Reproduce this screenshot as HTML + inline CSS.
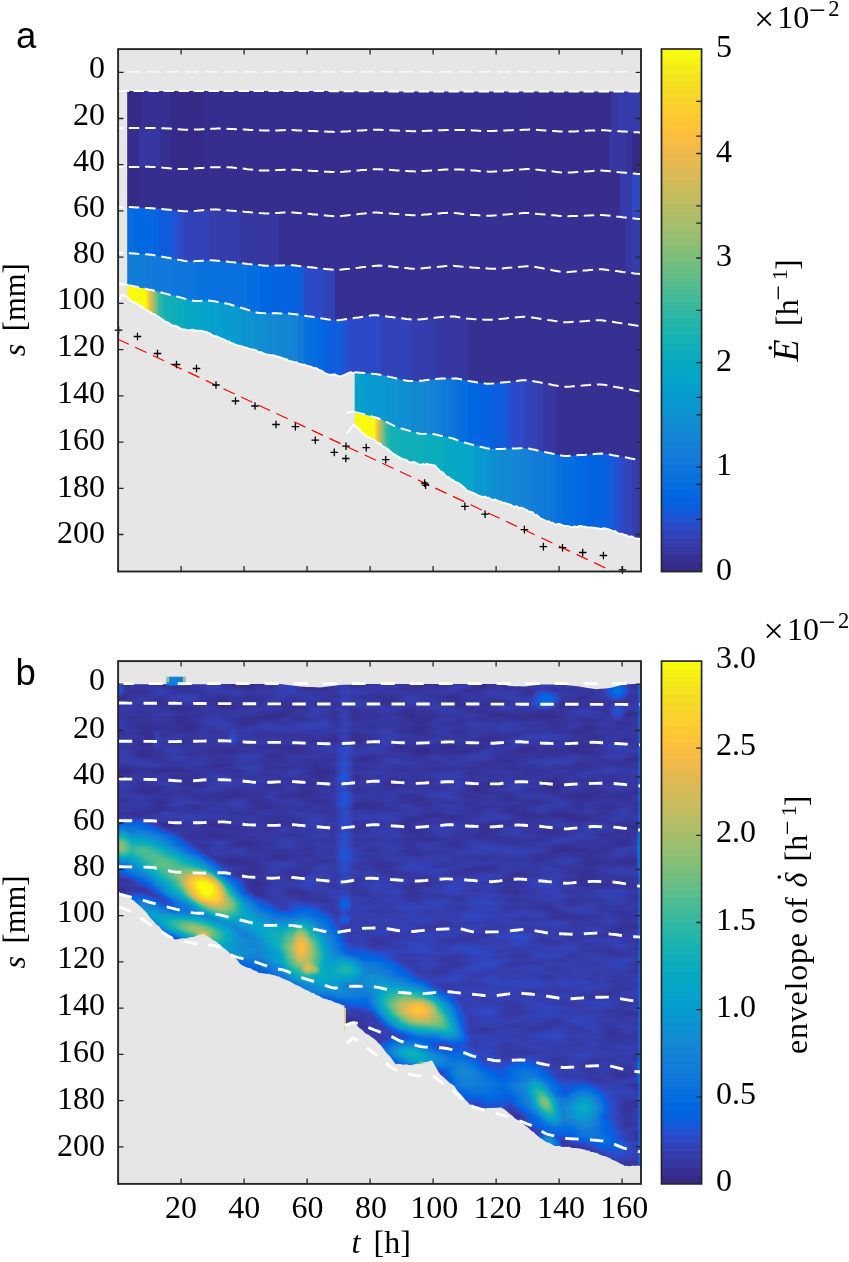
<!DOCTYPE html>
<html><head><meta charset="utf-8"><title>figure</title>
<style>html,body{margin:0;padding:0;background:#fff}svg{display:block}text{font-family:"Liberation Serif",serif;font-size:32px;fill:#000}</style>
</head><body>
<svg width="849" height="1262" viewBox="0 0 849 1262">
<defs>
<linearGradient id="g1" gradientUnits="userSpaceOnUse" x1="118.1" y1="0" x2="641.0" y2="0"><stop offset="0.0170" stop-color="#352a87"/><stop offset="0.0438" stop-color="#352a87"/><stop offset="0.0438" stop-color="#363092"/><stop offset="0.1012" stop-color="#363092"/><stop offset="0.1012" stop-color="#352a87"/><stop offset="0.1624" stop-color="#352a87"/><stop offset="0.1624" stop-color="#362e8f"/><stop offset="0.7820" stop-color="#362e8f"/><stop offset="0.7820" stop-color="#362d8d"/><stop offset="0.9426" stop-color="#362d8d"/><stop offset="0.9426" stop-color="#3637a0"/><stop offset="0.9560" stop-color="#3637a0"/><stop offset="0.9560" stop-color="#353baa"/><stop offset="1.0000" stop-color="#353baa"/><stop offset="1.0000" stop-color="#353baa"/></linearGradient>
<linearGradient id="g2" gradientUnits="userSpaceOnUse" x1="118.1" y1="0" x2="641.0" y2="0"><stop offset="0.0170" stop-color="#362e8f"/><stop offset="0.0400" stop-color="#362e8f"/><stop offset="0.0400" stop-color="#3637a0"/><stop offset="0.0801" stop-color="#3637a0"/><stop offset="0.0801" stop-color="#363093"/><stop offset="0.1012" stop-color="#363093"/><stop offset="0.1012" stop-color="#352a87"/><stop offset="0.1624" stop-color="#352a87"/><stop offset="0.1624" stop-color="#362e8f"/><stop offset="0.7686" stop-color="#362e8f"/><stop offset="0.7686" stop-color="#362d8d"/><stop offset="0.9388" stop-color="#362d8d"/><stop offset="0.9388" stop-color="#3637a0"/><stop offset="0.9713" stop-color="#3637a0"/><stop offset="0.9713" stop-color="#363297"/><stop offset="0.9828" stop-color="#363297"/><stop offset="0.9828" stop-color="#352a87"/><stop offset="1.0000" stop-color="#352a87"/><stop offset="1.0000" stop-color="#352a87"/></linearGradient>
<linearGradient id="g3" gradientUnits="userSpaceOnUse" x1="118.1" y1="0" x2="641.0" y2="0"><stop offset="0.0170" stop-color="#352a87"/><stop offset="0.0400" stop-color="#352a87"/><stop offset="0.0400" stop-color="#362e8f"/><stop offset="0.7762" stop-color="#362e8f"/><stop offset="0.7762" stop-color="#362d8d"/><stop offset="0.9598" stop-color="#362d8d"/><stop offset="0.9598" stop-color="#353dad"/><stop offset="0.9828" stop-color="#353dad"/><stop offset="0.9828" stop-color="#2d49c4"/><stop offset="1.0000" stop-color="#2d49c4"/><stop offset="1.0000" stop-color="#2d49c4"/></linearGradient>
<linearGradient id="g4" gradientUnits="userSpaceOnUse" x1="118.1" y1="0" x2="641.0" y2="0"><stop offset="0.0181" stop-color="#046de0"/><stop offset="0.0301" stop-color="#046de0"/><stop offset="0.0301" stop-color="#0268e1"/><stop offset="0.0663" stop-color="#0268e1"/><stop offset="0.0663" stop-color="#0363e1"/><stop offset="0.0783" stop-color="#0363e1"/><stop offset="0.0783" stop-color="#0f5cdd"/><stop offset="0.1024" stop-color="#0f5cdd"/><stop offset="0.1024" stop-color="#2053d4"/><stop offset="0.1145" stop-color="#2053d4"/><stop offset="0.1145" stop-color="#2c4ac7"/><stop offset="0.1265" stop-color="#2c4ac7"/><stop offset="0.1265" stop-color="#3243ba"/><stop offset="0.1747" stop-color="#3243ba"/><stop offset="0.1747" stop-color="#353dad"/><stop offset="0.2349" stop-color="#353dad"/><stop offset="0.2349" stop-color="#3637a0"/><stop offset="0.3072" stop-color="#3637a0"/><stop offset="0.3072" stop-color="#363093"/><stop offset="0.9699" stop-color="#363093"/><stop offset="0.9699" stop-color="#3637a0"/><stop offset="0.9819" stop-color="#3637a0"/><stop offset="0.9819" stop-color="#353dad"/><stop offset="1.0000" stop-color="#353dad"/></linearGradient>
<linearGradient id="g5" gradientUnits="userSpaceOnUse" x1="118.1" y1="0" x2="641.0" y2="0"><stop offset="0.0181" stop-color="#127dd8"/><stop offset="0.0542" stop-color="#127dd8"/><stop offset="0.0542" stop-color="#1079da"/><stop offset="0.1024" stop-color="#1079da"/><stop offset="0.1024" stop-color="#0d75dc"/><stop offset="0.1506" stop-color="#0d75dc"/><stop offset="0.1506" stop-color="#0871de"/><stop offset="0.2470" stop-color="#0871de"/><stop offset="0.2470" stop-color="#046de0"/><stop offset="0.2711" stop-color="#046de0"/><stop offset="0.2711" stop-color="#0268e1"/><stop offset="0.2952" stop-color="#0268e1"/><stop offset="0.2952" stop-color="#0363e1"/><stop offset="0.3434" stop-color="#0363e1"/><stop offset="0.3434" stop-color="#0f5cdd"/><stop offset="0.3554" stop-color="#0f5cdd"/><stop offset="0.3554" stop-color="#2c4ac7"/><stop offset="0.3916" stop-color="#2c4ac7"/><stop offset="0.3916" stop-color="#3243ba"/><stop offset="0.4157" stop-color="#3243ba"/><stop offset="0.4157" stop-color="#363093"/><stop offset="1.0000" stop-color="#363093"/></linearGradient>
<linearGradient id="g6" gradientUnits="userSpaceOnUse" x1="118.1" y1="0" x2="641.0" y2="0"><stop offset="0.0170" stop-color="#f9fb0e"/><stop offset="0.0534" stop-color="#f9fb0e"/><stop offset="0.0562" stop-color="#f5df20"/><stop offset="0.0595" stop-color="#fdbe3e"/><stop offset="0.0656" stop-color="#b8bd63"/><stop offset="0.0717" stop-color="#7abf7c"/><stop offset="0.0797" stop-color="#2db7a5"/><stop offset="0.0897" stop-color="#14b0b5"/><stop offset="0.1145" stop-color="#0faeb9"/><stop offset="0.1145" stop-color="#0aacbe"/><stop offset="0.1265" stop-color="#0aacbe"/><stop offset="0.1265" stop-color="#07a9c2"/><stop offset="0.1386" stop-color="#07a9c2"/><stop offset="0.1386" stop-color="#06a7c6"/><stop offset="0.1506" stop-color="#06a7c6"/><stop offset="0.1506" stop-color="#06a4ca"/><stop offset="0.1747" stop-color="#06a4ca"/><stop offset="0.1747" stop-color="#06a0cd"/><stop offset="0.1988" stop-color="#06a0cd"/><stop offset="0.1988" stop-color="#079ccf"/><stop offset="0.2229" stop-color="#079ccf"/><stop offset="0.2229" stop-color="#0998d1"/><stop offset="0.2349" stop-color="#0998d1"/><stop offset="0.2349" stop-color="#0c93d2"/><stop offset="0.2590" stop-color="#0c93d2"/><stop offset="0.2590" stop-color="#108ed2"/><stop offset="0.2831" stop-color="#108ed2"/><stop offset="0.2831" stop-color="#1389d3"/><stop offset="0.3072" stop-color="#1389d3"/><stop offset="0.3072" stop-color="#1485d4"/><stop offset="0.3313" stop-color="#1485d4"/><stop offset="0.3313" stop-color="#1481d6"/><stop offset="0.3434" stop-color="#1481d6"/><stop offset="0.3434" stop-color="#1079da"/><stop offset="0.3554" stop-color="#1079da"/><stop offset="0.3554" stop-color="#0871de"/><stop offset="0.3675" stop-color="#0871de"/><stop offset="0.3675" stop-color="#046de0"/><stop offset="0.3795" stop-color="#046de0"/><stop offset="0.3795" stop-color="#0268e1"/><stop offset="0.3916" stop-color="#0268e1"/><stop offset="0.3916" stop-color="#0363e1"/><stop offset="0.4036" stop-color="#0363e1"/><stop offset="0.4036" stop-color="#0f5cdd"/><stop offset="0.4277" stop-color="#0f5cdd"/><stop offset="0.4277" stop-color="#2053d4"/><stop offset="0.4398" stop-color="#2053d4"/><stop offset="0.4398" stop-color="#2c4ac7"/><stop offset="0.5000" stop-color="#2c4ac7"/><stop offset="0.5000" stop-color="#3243ba"/><stop offset="0.5602" stop-color="#3243ba"/><stop offset="0.5602" stop-color="#353dad"/><stop offset="0.6084" stop-color="#353dad"/><stop offset="0.6084" stop-color="#3637a0"/><stop offset="0.6687" stop-color="#3637a0"/><stop offset="0.6687" stop-color="#363093"/><stop offset="1.0000" stop-color="#363093"/></linearGradient>
<linearGradient id="g7" gradientUnits="userSpaceOnUse" x1="118.1" y1="0" x2="641.0" y2="0"><stop offset="0.0181" stop-color="#06a0cd"/><stop offset="0.4639" stop-color="#06a0cd"/><stop offset="0.4639" stop-color="#079ccf"/><stop offset="0.4880" stop-color="#079ccf"/><stop offset="0.4880" stop-color="#0998d1"/><stop offset="0.5121" stop-color="#0998d1"/><stop offset="0.5121" stop-color="#0c93d2"/><stop offset="0.5361" stop-color="#0c93d2"/><stop offset="0.5361" stop-color="#108ed2"/><stop offset="0.5602" stop-color="#108ed2"/><stop offset="0.5602" stop-color="#1389d3"/><stop offset="0.5843" stop-color="#1389d3"/><stop offset="0.5843" stop-color="#1485d4"/><stop offset="0.5964" stop-color="#1485d4"/><stop offset="0.5964" stop-color="#1481d6"/><stop offset="0.6084" stop-color="#1481d6"/><stop offset="0.6084" stop-color="#127dd8"/><stop offset="0.6205" stop-color="#127dd8"/><stop offset="0.6205" stop-color="#1079da"/><stop offset="0.6325" stop-color="#1079da"/><stop offset="0.6325" stop-color="#0d75dc"/><stop offset="0.6446" stop-color="#0d75dc"/><stop offset="0.6446" stop-color="#0871de"/><stop offset="0.6566" stop-color="#0871de"/><stop offset="0.6566" stop-color="#046de0"/><stop offset="0.6687" stop-color="#046de0"/><stop offset="0.6687" stop-color="#0268e1"/><stop offset="0.6928" stop-color="#0268e1"/><stop offset="0.6928" stop-color="#0363e1"/><stop offset="0.7169" stop-color="#0363e1"/><stop offset="0.7169" stop-color="#0f5cdd"/><stop offset="0.7410" stop-color="#0f5cdd"/><stop offset="0.7410" stop-color="#2053d4"/><stop offset="0.7530" stop-color="#2053d4"/><stop offset="0.7530" stop-color="#2c4ac7"/><stop offset="0.7771" stop-color="#2c4ac7"/><stop offset="0.7771" stop-color="#3243ba"/><stop offset="0.8012" stop-color="#3243ba"/><stop offset="0.8012" stop-color="#353dad"/><stop offset="0.8133" stop-color="#353dad"/><stop offset="0.8133" stop-color="#3637a0"/><stop offset="0.8374" stop-color="#3637a0"/><stop offset="0.8374" stop-color="#363093"/><stop offset="1.0000" stop-color="#363093"/></linearGradient>
<linearGradient id="g8" gradientUnits="userSpaceOnUse" x1="118.1" y1="0" x2="641.0" y2="0"><stop offset="0.4525" stop-color="#f9fb0e"/><stop offset="0.4903" stop-color="#f9fb0e"/><stop offset="0.4932" stop-color="#f7d826"/><stop offset="0.4961" stop-color="#f6ba46"/><stop offset="0.5009" stop-color="#b8bd63"/><stop offset="0.5066" stop-color="#7abf7c"/><stop offset="0.5142" stop-color="#2db7a5"/><stop offset="0.5219" stop-color="#14b0b5"/><stop offset="0.5361" stop-color="#15b1b4"/><stop offset="0.5361" stop-color="#0faeb9"/><stop offset="0.5843" stop-color="#0faeb9"/><stop offset="0.5843" stop-color="#0aacbe"/><stop offset="0.6205" stop-color="#0aacbe"/><stop offset="0.6205" stop-color="#07a9c2"/><stop offset="0.6446" stop-color="#07a9c2"/><stop offset="0.6446" stop-color="#06a7c6"/><stop offset="0.6687" stop-color="#06a7c6"/><stop offset="0.6687" stop-color="#06a4ca"/><stop offset="0.6807" stop-color="#06a4ca"/><stop offset="0.6807" stop-color="#079ccf"/><stop offset="0.6928" stop-color="#079ccf"/><stop offset="0.6928" stop-color="#0998d1"/><stop offset="0.7048" stop-color="#0998d1"/><stop offset="0.7048" stop-color="#0c93d2"/><stop offset="0.7169" stop-color="#0c93d2"/><stop offset="0.7169" stop-color="#108ed2"/><stop offset="0.7289" stop-color="#108ed2"/><stop offset="0.7289" stop-color="#1389d3"/><stop offset="0.7530" stop-color="#1389d3"/><stop offset="0.7530" stop-color="#1485d4"/><stop offset="0.7771" stop-color="#1485d4"/><stop offset="0.7771" stop-color="#1481d6"/><stop offset="0.7892" stop-color="#1481d6"/><stop offset="0.7892" stop-color="#127dd8"/><stop offset="0.8133" stop-color="#127dd8"/><stop offset="0.8133" stop-color="#1079da"/><stop offset="0.8253" stop-color="#1079da"/><stop offset="0.8253" stop-color="#0d75dc"/><stop offset="0.8374" stop-color="#0d75dc"/><stop offset="0.8374" stop-color="#0871de"/><stop offset="0.8494" stop-color="#0871de"/><stop offset="0.8494" stop-color="#046de0"/><stop offset="0.8735" stop-color="#046de0"/><stop offset="0.8735" stop-color="#0268e1"/><stop offset="0.8976" stop-color="#0268e1"/><stop offset="0.8976" stop-color="#0363e1"/><stop offset="0.9337" stop-color="#0363e1"/><stop offset="0.9337" stop-color="#0f5cdd"/><stop offset="0.9458" stop-color="#0f5cdd"/><stop offset="0.9458" stop-color="#2053d4"/><stop offset="0.9578" stop-color="#2053d4"/><stop offset="0.9578" stop-color="#2c4ac7"/><stop offset="0.9699" stop-color="#2c4ac7"/><stop offset="0.9699" stop-color="#3243ba"/><stop offset="0.9819" stop-color="#3243ba"/><stop offset="0.9819" stop-color="#353dad"/><stop offset="0.9940" stop-color="#353dad"/><stop offset="0.9940" stop-color="#3637a0"/><stop offset="1.0000" stop-color="#3637a0"/></linearGradient>
<clipPath id="cb"><path d="M118.7 684.2 L123.0 684.2 L127.4 684.2 L131.7 684.2 L136.1 684.2 L140.4 684.2 L144.8 684.2 L149.1 684.2 L153.5 684.2 L157.8 684.2 L162.2 684.2 L166.5 684.2 L166.8 676.8 L171.4 676.8 L176.1 676.8 L180.7 676.8 L185.3 676.8 L185.6 684.2 L189.7 684.2 L193.8 684.2 L197.9 684.2 L202.0 684.2 L206.1 684.2 L210.2 684.1 L214.3 684.1 L218.4 684.1 L222.5 684.1 L226.6 684.1 L230.7 684.1 L234.9 684.1 L239.0 684.1 L243.1 684.1 L247.2 684.1 L251.3 684.1 L255.4 684.1 L259.5 684.0 L263.6 684.0 L267.7 684.0 L271.8 684.0 L275.9 684.0 L280.0 684.0 L284.0 684.5 L288.0 685.0 L292.0 685.5 L296.0 686.0 L300.0 686.5 L304.0 686.7 L308.0 686.9 L312.0 687.1 L316.0 687.3 L320.0 687.5 L324.0 687.0 L328.0 686.5 L332.0 686.0 L336.0 685.5 L340.0 685.0 L344.2 684.8 L348.3 684.7 L352.5 684.5 L356.7 684.3 L360.8 684.2 L365.0 684.0 L369.1 684.0 L373.2 684.0 L377.3 684.0 L381.4 684.0 L385.5 684.0 L389.5 684.0 L393.6 684.0 L397.7 684.0 L401.8 684.0 L405.9 684.0 L410.0 684.0 L414.1 684.0 L418.2 684.0 L422.3 684.0 L426.4 684.0 L430.5 684.0 L434.5 684.0 L438.6 684.0 L442.7 684.0 L446.8 684.0 L450.9 684.0 L455.0 684.0 L459.1 684.0 L463.2 684.0 L467.3 684.0 L471.4 684.0 L475.5 684.0 L479.5 684.0 L483.6 684.0 L487.7 684.0 L491.8 684.0 L495.9 684.0 L500.0 684.0 L505.0 685.0 L510.0 686.0 L515.0 686.2 L520.0 686.3 L525.0 686.5 L530.0 685.8 L535.0 685.2 L540.0 684.5 L544.0 684.5 L548.0 684.5 L552.0 684.5 L556.0 684.5 L560.0 684.5 L565.0 685.0 L570.0 685.5 L575.0 686.0 L579.2 686.6 L583.4 687.3 L587.6 687.9 L591.8 688.6 L596.0 689.2 L600.7 688.8 L605.3 688.4 L610.0 688.0 L615.0 686.8 L620.0 685.5 L625.0 684.3 L629.0 684.2 L633.0 684.1 L637.0 684.1 L641.0 684.0 L641.0 1165.8 L639.0 1166.1 L637.0 1165.6 L634.9 1165.9 L632.9 1165.4 L630.9 1166.1 L628.8 1166.2 L626.8 1165.7 L624.8 1166.1 L622.7 1164.5 L620.5 1163.8 L618.4 1162.6 L616.3 1161.3 L614.2 1160.6 L612.0 1159.8 L609.9 1158.0 L607.8 1157.6 L605.7 1156.3 L603.6 1155.9 L601.5 1155.3 L599.3 1154.5 L597.2 1153.1 L595.1 1152.7 L593.0 1152.0 L590.9 1151.9 L588.8 1150.5 L586.6 1150.5 L584.5 1149.6 L582.4 1149.2 L580.2 1148.5 L578.1 1148.6 L576.0 1147.9 L573.9 1147.9 L571.8 1147.9 L569.6 1146.7 L567.5 1147.1 L565.4 1146.7 L563.3 1147.0 L561.2 1146.8 L559.0 1145.8 L556.9 1146.1 L554.8 1145.9 L552.7 1144.8 L550.5 1143.4 L548.4 1142.6 L546.3 1141.9 L544.1 1140.6 L542.0 1138.9 L539.9 1137.8 L537.8 1135.9 L535.7 1134.2 L533.6 1132.1 L531.5 1130.9 L529.4 1128.7 L527.3 1126.9 L525.1 1125.5 L523.0 1123.7 L520.9 1122.2 L518.8 1120.4 L516.6 1119.5 L514.5 1118.0 L512.4 1115.7 L510.3 1114.2 L508.2 1112.5 L506.0 1110.6 L503.9 1108.9 L501.8 1107.7 L499.7 1107.4 L497.6 1107.8 L495.4 1107.9 L493.3 1107.7 L491.2 1108.0 L489.1 1108.1 L486.9 1107.9 L484.8 1108.7 L482.7 1108.1 L480.6 1108.3 L478.5 1106.8 L476.4 1106.2 L474.2 1105.5 L472.1 1104.5 L470.0 1104.7 L467.9 1102.2 L465.7 1100.3 L463.6 1097.7 L461.5 1094.9 L459.4 1092.9 L457.2 1090.4 L455.1 1087.1 L453.0 1084.8 L450.9 1083.8 L448.7 1082.0 L446.6 1079.9 L444.5 1077.9 L442.3 1075.9 L440.2 1074.4 L438.1 1071.2 L436.0 1067.6 L433.9 1063.7 L431.8 1060.3 L429.7 1060.9 L427.6 1061.8 L425.4 1062.1 L423.3 1062.8 L421.2 1064.2 L419.1 1063.9 L417.0 1063.8 L414.8 1064.2 L412.7 1064.7 L410.6 1065.2 L408.5 1064.9 L406.3 1064.3 L404.2 1064.8 L402.1 1064.5 L400.0 1064.1 L397.8 1063.7 L395.7 1064.3 L393.6 1061.6 L391.4 1058.3 L389.3 1055.7 L387.2 1053.8 L385.1 1051.1 L383.0 1048.3 L380.8 1045.2 L378.7 1043.5 L376.6 1040.9 L374.5 1038.9 L372.4 1037.8 L370.2 1036.1 L368.1 1034.6 L366.0 1033.7 L363.9 1031.8 L361.8 1029.6 L359.7 1028.3 L357.5 1026.1 L355.4 1023.7 L353.3 1021.5 L350.8 1022.5 L348.4 1024.3 L345.9 1025.6 L344.7 1032.5 L344.5 1005.7 L343.6 1005.5 L341.5 1004.7 L339.4 1003.8 L337.2 1002.9 L335.1 1002.6 L333.0 1001.4 L330.9 1000.3 L328.8 1000.2 L326.6 998.9 L324.5 998.8 L322.4 998.1 L320.3 996.7 L318.2 995.5 L316.0 995.0 L313.9 993.1 L311.8 992.9 L309.7 991.7 L307.6 990.6 L305.4 989.7 L303.3 988.5 L301.2 987.2 L299.0 986.1 L296.7 985.3 L294.5 984.2 L292.2 982.7 L290.0 981.6 L287.9 980.5 L285.8 979.7 L283.7 978.8 L281.7 977.9 L279.6 976.8 L277.5 976.3 L275.4 975.6 L273.3 975.0 L271.1 974.4 L269.0 973.8 L266.9 974.1 L264.8 973.4 L262.6 973.3 L260.5 973.0 L258.4 972.7 L256.3 971.0 L254.1 970.4 L252.0 969.2 L249.9 968.1 L247.8 967.8 L245.7 967.1 L243.5 965.9 L241.4 964.8 L239.3 962.9 L237.2 960.1 L235.1 957.9 L232.9 956.2 L230.8 954.2 L228.7 952.1 L226.6 950.2 L224.5 948.4 L222.3 946.9 L220.2 944.6 L218.1 943.6 L216.0 941.3 L213.9 940.4 L211.8 938.9 L209.7 937.6 L207.5 936.6 L205.4 935.1 L203.3 934.0 L201.2 934.3 L199.1 935.1 L196.9 935.4 L194.8 936.4 L192.7 937.0 L190.6 937.1 L188.4 937.7 L186.3 938.2 L184.3 938.5 L182.3 938.3 L180.3 938.8 L178.3 939.1 L176.3 939.4 L174.3 939.3 L172.0 937.4 L169.7 936.6 L167.4 934.6 L165.1 932.7 L163.0 931.3 L160.9 928.8 L158.8 926.1 L156.6 924.9 L154.5 922.3 L152.4 919.9 L150.3 918.1 L148.2 914.9 L146.0 912.1 L143.9 909.9 L141.8 907.8 L139.7 906.0 L137.6 904.1 L135.4 902.2 L133.3 900.3 L131.2 899.0 L129.1 897.8 L127.0 897.0 L124.8 895.5 L122.7 894.0 L120.6 893.1 L118.5 891.2Z"/></clipPath>
<filter id="pm" filterUnits="userSpaceOnUse" x="100" y="650" width="560" height="550" color-interpolation-filters="sRGB"><feTurbulence type="fractalNoise" baseFrequency="0.03 0.09" numOctaves="2" seed="4" result="n"/><feColorMatrix in="n" type="matrix" values="0.08 0 0 0 -0.02  0.08 0 0 0 -0.02  0.08 0 0 0 -0.02  0 0 0 0 1" result="n2"/><feComposite in="SourceGraphic" in2="n2" operator="arithmetic" k1="0" k2="1" k3="1" k4="0"/><feComponentTransfer><feFuncR type="table" tableValues="0.208 0.212 0.212 0.208 0.196 0.171 0.125 0.059 0.012 0.006 0.017 0.033 0.050 0.063 0.072 0.078 0.079 0.075 0.064 0.049 0.034 0.026 0.024 0.023 0.023 0.027 0.038 0.059 0.084 0.113 0.145 0.180 0.218 0.259 0.302 0.348 0.395 0.442 0.487 0.530 0.571 0.610 0.647 0.683 0.718 0.752 0.786 0.819 0.851 0.882 0.914 0.945 0.974 0.994 0.999 0.996 0.988 0.979 0.970 0.963 0.959 0.960 0.966 0.976"/><feFuncG type="table" tableValues="0.166 0.190 0.214 0.239 0.265 0.292 0.324 0.360 0.388 0.409 0.427 0.443 0.459 0.474 0.489 0.504 0.520 0.537 0.557 0.577 0.597 0.614 0.629 0.642 0.653 0.664 0.674 0.684 0.693 0.702 0.710 0.718 0.725 0.732 0.738 0.742 0.746 0.748 0.749 0.749 0.749 0.747 0.746 0.744 0.741 0.738 0.736 0.733 0.730 0.727 0.726 0.726 0.731 0.746 0.765 0.786 0.807 0.827 0.848 0.871 0.895 0.922 0.951 0.983"/><feFuncB type="table" tableValues="0.529 0.578 0.627 0.677 0.728 0.779 0.830 0.868 0.882 0.883 0.879 0.872 0.864 0.855 0.847 0.838 0.831 0.826 0.824 0.823 0.820 0.814 0.804 0.791 0.777 0.761 0.744 0.725 0.706 0.686 0.665 0.642 0.619 0.595 0.571 0.547 0.524 0.503 0.484 0.466 0.449 0.434 0.419 0.404 0.391 0.377 0.363 0.350 0.336 0.322 0.306 0.289 0.267 0.240 0.216 0.197 0.179 0.163 0.147 0.131 0.113 0.095 0.075 0.054"/></feComponentTransfer></filter>
<radialGradient id="r1"><stop offset="0.00" stop-color="#fff" stop-opacity="0.025"/><stop offset="0.15" stop-color="#fff" stop-opacity="0.024"/><stop offset="0.30" stop-color="#fff" stop-opacity="0.020"/><stop offset="0.45" stop-color="#fff" stop-opacity="0.016"/><stop offset="0.60" stop-color="#fff" stop-opacity="0.011"/><stop offset="0.75" stop-color="#fff" stop-opacity="0.007"/><stop offset="0.90" stop-color="#fff" stop-opacity="0.002"/><stop offset="1.00" stop-color="#fff" stop-opacity="0.000"/></radialGradient>
<radialGradient id="r2"><stop offset="0.00" stop-color="#fff" stop-opacity="0.476"/><stop offset="0.15" stop-color="#fff" stop-opacity="0.451"/><stop offset="0.30" stop-color="#fff" stop-opacity="0.383"/><stop offset="0.45" stop-color="#fff" stop-opacity="0.292"/><stop offset="0.60" stop-color="#fff" stop-opacity="0.199"/><stop offset="0.75" stop-color="#fff" stop-opacity="0.122"/><stop offset="0.90" stop-color="#fff" stop-opacity="0.034"/><stop offset="1.00" stop-color="#fff" stop-opacity="0.000"/></radialGradient>
<radialGradient id="r3"><stop offset="0.00" stop-color="#fff" stop-opacity="0.413"/><stop offset="0.15" stop-color="#fff" stop-opacity="0.391"/><stop offset="0.30" stop-color="#fff" stop-opacity="0.332"/><stop offset="0.45" stop-color="#fff" stop-opacity="0.253"/><stop offset="0.60" stop-color="#fff" stop-opacity="0.173"/><stop offset="0.75" stop-color="#fff" stop-opacity="0.106"/><stop offset="0.90" stop-color="#fff" stop-opacity="0.029"/><stop offset="1.00" stop-color="#fff" stop-opacity="0.000"/></radialGradient>
<radialGradient id="r4"><stop offset="0.00" stop-color="#fff" stop-opacity="0.159"/><stop offset="0.15" stop-color="#fff" stop-opacity="0.150"/><stop offset="0.30" stop-color="#fff" stop-opacity="0.128"/><stop offset="0.45" stop-color="#fff" stop-opacity="0.097"/><stop offset="0.60" stop-color="#fff" stop-opacity="0.066"/><stop offset="0.75" stop-color="#fff" stop-opacity="0.041"/><stop offset="0.90" stop-color="#fff" stop-opacity="0.011"/><stop offset="1.00" stop-color="#fff" stop-opacity="0.000"/></radialGradient>
<radialGradient id="r5"><stop offset="0.00" stop-color="#fff" stop-opacity="0.508"/><stop offset="0.15" stop-color="#fff" stop-opacity="0.481"/><stop offset="0.30" stop-color="#fff" stop-opacity="0.409"/><stop offset="0.45" stop-color="#fff" stop-opacity="0.311"/><stop offset="0.60" stop-color="#fff" stop-opacity="0.213"/><stop offset="0.75" stop-color="#fff" stop-opacity="0.130"/><stop offset="0.90" stop-color="#fff" stop-opacity="0.036"/><stop offset="1.00" stop-color="#fff" stop-opacity="0.000"/></radialGradient>
<radialGradient id="r6"><stop offset="0.00" stop-color="#fff" stop-opacity="0.730"/><stop offset="0.15" stop-color="#fff" stop-opacity="0.691"/><stop offset="0.30" stop-color="#fff" stop-opacity="0.587"/><stop offset="0.45" stop-color="#fff" stop-opacity="0.447"/><stop offset="0.60" stop-color="#fff" stop-opacity="0.306"/><stop offset="0.75" stop-color="#fff" stop-opacity="0.187"/><stop offset="0.90" stop-color="#fff" stop-opacity="0.051"/><stop offset="1.00" stop-color="#fff" stop-opacity="0.000"/></radialGradient>
<radialGradient id="r7"><stop offset="0.00" stop-color="#fff" stop-opacity="0.984"/><stop offset="0.15" stop-color="#fff" stop-opacity="0.932"/><stop offset="0.30" stop-color="#fff" stop-opacity="0.792"/><stop offset="0.45" stop-color="#fff" stop-opacity="0.603"/><stop offset="0.60" stop-color="#fff" stop-opacity="0.412"/><stop offset="0.75" stop-color="#fff" stop-opacity="0.252"/><stop offset="0.90" stop-color="#fff" stop-opacity="0.069"/><stop offset="1.00" stop-color="#fff" stop-opacity="0.000"/></radialGradient>
<radialGradient id="r8"><stop offset="0.00" stop-color="#fff" stop-opacity="0.349"/><stop offset="0.15" stop-color="#fff" stop-opacity="0.331"/><stop offset="0.30" stop-color="#fff" stop-opacity="0.281"/><stop offset="0.45" stop-color="#fff" stop-opacity="0.214"/><stop offset="0.60" stop-color="#fff" stop-opacity="0.146"/><stop offset="0.75" stop-color="#fff" stop-opacity="0.090"/><stop offset="0.90" stop-color="#fff" stop-opacity="0.025"/><stop offset="1.00" stop-color="#fff" stop-opacity="0.000"/></radialGradient>
<radialGradient id="r9"><stop offset="0.00" stop-color="#fff" stop-opacity="0.222"/><stop offset="0.15" stop-color="#fff" stop-opacity="0.210"/><stop offset="0.30" stop-color="#fff" stop-opacity="0.179"/><stop offset="0.45" stop-color="#fff" stop-opacity="0.136"/><stop offset="0.60" stop-color="#fff" stop-opacity="0.093"/><stop offset="0.75" stop-color="#fff" stop-opacity="0.057"/><stop offset="0.90" stop-color="#fff" stop-opacity="0.016"/><stop offset="1.00" stop-color="#fff" stop-opacity="0.000"/></radialGradient>
<radialGradient id="r10"><stop offset="0.00" stop-color="#fff" stop-opacity="0.476"/><stop offset="0.15" stop-color="#fff" stop-opacity="0.451"/><stop offset="0.30" stop-color="#fff" stop-opacity="0.383"/><stop offset="0.45" stop-color="#fff" stop-opacity="0.292"/><stop offset="0.60" stop-color="#fff" stop-opacity="0.199"/><stop offset="0.75" stop-color="#fff" stop-opacity="0.122"/><stop offset="0.90" stop-color="#fff" stop-opacity="0.034"/><stop offset="1.00" stop-color="#fff" stop-opacity="0.000"/></radialGradient>
<radialGradient id="r11"><stop offset="0.00" stop-color="#fff" stop-opacity="0.635"/><stop offset="0.15" stop-color="#fff" stop-opacity="0.601"/><stop offset="0.30" stop-color="#fff" stop-opacity="0.511"/><stop offset="0.45" stop-color="#fff" stop-opacity="0.389"/><stop offset="0.60" stop-color="#fff" stop-opacity="0.266"/><stop offset="0.75" stop-color="#fff" stop-opacity="0.163"/><stop offset="0.90" stop-color="#fff" stop-opacity="0.045"/><stop offset="1.00" stop-color="#fff" stop-opacity="0.000"/></radialGradient>
<radialGradient id="r12"><stop offset="0.00" stop-color="#fff" stop-opacity="0.349"/><stop offset="0.15" stop-color="#fff" stop-opacity="0.331"/><stop offset="0.30" stop-color="#fff" stop-opacity="0.281"/><stop offset="0.45" stop-color="#fff" stop-opacity="0.214"/><stop offset="0.60" stop-color="#fff" stop-opacity="0.146"/><stop offset="0.75" stop-color="#fff" stop-opacity="0.090"/><stop offset="0.90" stop-color="#fff" stop-opacity="0.025"/><stop offset="1.00" stop-color="#fff" stop-opacity="0.000"/></radialGradient>
<radialGradient id="r13"><stop offset="0.00" stop-color="#fff" stop-opacity="0.476"/><stop offset="0.15" stop-color="#fff" stop-opacity="0.451"/><stop offset="0.30" stop-color="#fff" stop-opacity="0.383"/><stop offset="0.45" stop-color="#fff" stop-opacity="0.292"/><stop offset="0.60" stop-color="#fff" stop-opacity="0.199"/><stop offset="0.75" stop-color="#fff" stop-opacity="0.122"/><stop offset="0.90" stop-color="#fff" stop-opacity="0.034"/><stop offset="1.00" stop-color="#fff" stop-opacity="0.000"/></radialGradient>
<radialGradient id="r14"><stop offset="0.00" stop-color="#fff" stop-opacity="0.413"/><stop offset="0.15" stop-color="#fff" stop-opacity="0.391"/><stop offset="0.30" stop-color="#fff" stop-opacity="0.332"/><stop offset="0.45" stop-color="#fff" stop-opacity="0.253"/><stop offset="0.60" stop-color="#fff" stop-opacity="0.173"/><stop offset="0.75" stop-color="#fff" stop-opacity="0.106"/><stop offset="0.90" stop-color="#fff" stop-opacity="0.029"/><stop offset="1.00" stop-color="#fff" stop-opacity="0.000"/></radialGradient>
<radialGradient id="r15"><stop offset="0.00" stop-color="#fff" stop-opacity="0.381"/><stop offset="0.15" stop-color="#fff" stop-opacity="0.361"/><stop offset="0.30" stop-color="#fff" stop-opacity="0.306"/><stop offset="0.45" stop-color="#fff" stop-opacity="0.233"/><stop offset="0.60" stop-color="#fff" stop-opacity="0.159"/><stop offset="0.75" stop-color="#fff" stop-opacity="0.098"/><stop offset="0.90" stop-color="#fff" stop-opacity="0.027"/><stop offset="1.00" stop-color="#fff" stop-opacity="0.000"/></radialGradient>
<radialGradient id="r16"><stop offset="0.00" stop-color="#fff" stop-opacity="0.476"/><stop offset="0.15" stop-color="#fff" stop-opacity="0.451"/><stop offset="0.30" stop-color="#fff" stop-opacity="0.383"/><stop offset="0.45" stop-color="#fff" stop-opacity="0.292"/><stop offset="0.60" stop-color="#fff" stop-opacity="0.199"/><stop offset="0.75" stop-color="#fff" stop-opacity="0.122"/><stop offset="0.90" stop-color="#fff" stop-opacity="0.034"/><stop offset="1.00" stop-color="#fff" stop-opacity="0.000"/></radialGradient>
<radialGradient id="r17"><stop offset="0.00" stop-color="#fff" stop-opacity="0.317"/><stop offset="0.15" stop-color="#fff" stop-opacity="0.301"/><stop offset="0.30" stop-color="#fff" stop-opacity="0.255"/><stop offset="0.45" stop-color="#fff" stop-opacity="0.194"/><stop offset="0.60" stop-color="#fff" stop-opacity="0.133"/><stop offset="0.75" stop-color="#fff" stop-opacity="0.081"/><stop offset="0.90" stop-color="#fff" stop-opacity="0.022"/><stop offset="1.00" stop-color="#fff" stop-opacity="0.000"/></radialGradient>
<radialGradient id="r18"><stop offset="0.00" stop-color="#fff" stop-opacity="0.349"/><stop offset="0.15" stop-color="#fff" stop-opacity="0.331"/><stop offset="0.30" stop-color="#fff" stop-opacity="0.281"/><stop offset="0.45" stop-color="#fff" stop-opacity="0.214"/><stop offset="0.60" stop-color="#fff" stop-opacity="0.146"/><stop offset="0.75" stop-color="#fff" stop-opacity="0.090"/><stop offset="0.90" stop-color="#fff" stop-opacity="0.025"/><stop offset="1.00" stop-color="#fff" stop-opacity="0.000"/></radialGradient>
<radialGradient id="r19"><stop offset="0.00" stop-color="#fff" stop-opacity="0.222"/><stop offset="0.15" stop-color="#fff" stop-opacity="0.210"/><stop offset="0.30" stop-color="#fff" stop-opacity="0.179"/><stop offset="0.45" stop-color="#fff" stop-opacity="0.136"/><stop offset="0.60" stop-color="#fff" stop-opacity="0.093"/><stop offset="0.75" stop-color="#fff" stop-opacity="0.057"/><stop offset="0.90" stop-color="#fff" stop-opacity="0.016"/><stop offset="1.00" stop-color="#fff" stop-opacity="0.000"/></radialGradient>
<radialGradient id="r20"><stop offset="0.00" stop-color="#fff" stop-opacity="0.254"/><stop offset="0.15" stop-color="#fff" stop-opacity="0.241"/><stop offset="0.30" stop-color="#fff" stop-opacity="0.204"/><stop offset="0.45" stop-color="#fff" stop-opacity="0.156"/><stop offset="0.60" stop-color="#fff" stop-opacity="0.106"/><stop offset="0.75" stop-color="#fff" stop-opacity="0.065"/><stop offset="0.90" stop-color="#fff" stop-opacity="0.018"/><stop offset="1.00" stop-color="#fff" stop-opacity="0.000"/></radialGradient>
<radialGradient id="r21"><stop offset="0.00" stop-color="#fff" stop-opacity="0.476"/><stop offset="0.15" stop-color="#fff" stop-opacity="0.451"/><stop offset="0.30" stop-color="#fff" stop-opacity="0.383"/><stop offset="0.45" stop-color="#fff" stop-opacity="0.292"/><stop offset="0.60" stop-color="#fff" stop-opacity="0.199"/><stop offset="0.75" stop-color="#fff" stop-opacity="0.122"/><stop offset="0.90" stop-color="#fff" stop-opacity="0.034"/><stop offset="1.00" stop-color="#fff" stop-opacity="0.000"/></radialGradient>
<radialGradient id="r22"><stop offset="0.00" stop-color="#fff" stop-opacity="0.571"/><stop offset="0.15" stop-color="#fff" stop-opacity="0.541"/><stop offset="0.30" stop-color="#fff" stop-opacity="0.460"/><stop offset="0.45" stop-color="#fff" stop-opacity="0.350"/><stop offset="0.60" stop-color="#fff" stop-opacity="0.239"/><stop offset="0.75" stop-color="#fff" stop-opacity="0.146"/><stop offset="0.90" stop-color="#fff" stop-opacity="0.040"/><stop offset="1.00" stop-color="#fff" stop-opacity="0.000"/></radialGradient>
<radialGradient id="r23"><stop offset="0.00" stop-color="#fff" stop-opacity="0.381"/><stop offset="0.15" stop-color="#fff" stop-opacity="0.361"/><stop offset="0.30" stop-color="#fff" stop-opacity="0.306"/><stop offset="0.45" stop-color="#fff" stop-opacity="0.233"/><stop offset="0.60" stop-color="#fff" stop-opacity="0.159"/><stop offset="0.75" stop-color="#fff" stop-opacity="0.098"/><stop offset="0.90" stop-color="#fff" stop-opacity="0.027"/><stop offset="1.00" stop-color="#fff" stop-opacity="0.000"/></radialGradient>
<radialGradient id="r24"><stop offset="0.00" stop-color="#fff" stop-opacity="0.286"/><stop offset="0.15" stop-color="#fff" stop-opacity="0.271"/><stop offset="0.30" stop-color="#fff" stop-opacity="0.230"/><stop offset="0.45" stop-color="#fff" stop-opacity="0.175"/><stop offset="0.60" stop-color="#fff" stop-opacity="0.120"/><stop offset="0.75" stop-color="#fff" stop-opacity="0.073"/><stop offset="0.90" stop-color="#fff" stop-opacity="0.020"/><stop offset="1.00" stop-color="#fff" stop-opacity="0.000"/></radialGradient>
<radialGradient id="r25"><stop offset="0.00" stop-color="#fff" stop-opacity="0.254"/><stop offset="0.15" stop-color="#fff" stop-opacity="0.241"/><stop offset="0.30" stop-color="#fff" stop-opacity="0.204"/><stop offset="0.45" stop-color="#fff" stop-opacity="0.156"/><stop offset="0.60" stop-color="#fff" stop-opacity="0.106"/><stop offset="0.75" stop-color="#fff" stop-opacity="0.065"/><stop offset="0.90" stop-color="#fff" stop-opacity="0.018"/><stop offset="1.00" stop-color="#fff" stop-opacity="0.000"/></radialGradient>
<radialGradient id="r26"><stop offset="0.00" stop-color="#fff" stop-opacity="0.413"/><stop offset="0.15" stop-color="#fff" stop-opacity="0.391"/><stop offset="0.30" stop-color="#fff" stop-opacity="0.332"/><stop offset="0.45" stop-color="#fff" stop-opacity="0.253"/><stop offset="0.60" stop-color="#fff" stop-opacity="0.173"/><stop offset="0.75" stop-color="#fff" stop-opacity="0.106"/><stop offset="0.90" stop-color="#fff" stop-opacity="0.029"/><stop offset="1.00" stop-color="#fff" stop-opacity="0.000"/></radialGradient>
<radialGradient id="r27"><stop offset="0.00" stop-color="#fff" stop-opacity="0.571"/><stop offset="0.15" stop-color="#fff" stop-opacity="0.541"/><stop offset="0.30" stop-color="#fff" stop-opacity="0.460"/><stop offset="0.45" stop-color="#fff" stop-opacity="0.350"/><stop offset="0.60" stop-color="#fff" stop-opacity="0.239"/><stop offset="0.75" stop-color="#fff" stop-opacity="0.146"/><stop offset="0.90" stop-color="#fff" stop-opacity="0.040"/><stop offset="1.00" stop-color="#fff" stop-opacity="0.000"/></radialGradient>
<radialGradient id="r28"><stop offset="0.00" stop-color="#fff" stop-opacity="0.143"/><stop offset="0.15" stop-color="#fff" stop-opacity="0.135"/><stop offset="0.30" stop-color="#fff" stop-opacity="0.115"/><stop offset="0.45" stop-color="#fff" stop-opacity="0.088"/><stop offset="0.60" stop-color="#fff" stop-opacity="0.060"/><stop offset="0.75" stop-color="#fff" stop-opacity="0.037"/><stop offset="0.90" stop-color="#fff" stop-opacity="0.010"/><stop offset="1.00" stop-color="#fff" stop-opacity="0.000"/></radialGradient>
<radialGradient id="r29"><stop offset="0.00" stop-color="#fff" stop-opacity="0.111"/><stop offset="0.15" stop-color="#fff" stop-opacity="0.105"/><stop offset="0.30" stop-color="#fff" stop-opacity="0.089"/><stop offset="0.45" stop-color="#fff" stop-opacity="0.068"/><stop offset="0.60" stop-color="#fff" stop-opacity="0.046"/><stop offset="0.75" stop-color="#fff" stop-opacity="0.028"/><stop offset="0.90" stop-color="#fff" stop-opacity="0.008"/><stop offset="1.00" stop-color="#fff" stop-opacity="0.000"/></radialGradient>
<radialGradient id="r30"><stop offset="0.00" stop-color="#fff" stop-opacity="0.095"/><stop offset="0.15" stop-color="#fff" stop-opacity="0.090"/><stop offset="0.30" stop-color="#fff" stop-opacity="0.077"/><stop offset="0.45" stop-color="#fff" stop-opacity="0.058"/><stop offset="0.60" stop-color="#fff" stop-opacity="0.040"/><stop offset="0.75" stop-color="#fff" stop-opacity="0.024"/><stop offset="0.90" stop-color="#fff" stop-opacity="0.007"/><stop offset="1.00" stop-color="#fff" stop-opacity="0.000"/></radialGradient>
<radialGradient id="r31"><stop offset="0.00" stop-color="#fff" stop-opacity="0.286"/><stop offset="0.15" stop-color="#fff" stop-opacity="0.271"/><stop offset="0.30" stop-color="#fff" stop-opacity="0.230"/><stop offset="0.45" stop-color="#fff" stop-opacity="0.175"/><stop offset="0.60" stop-color="#fff" stop-opacity="0.120"/><stop offset="0.75" stop-color="#fff" stop-opacity="0.073"/><stop offset="0.90" stop-color="#fff" stop-opacity="0.020"/><stop offset="1.00" stop-color="#fff" stop-opacity="0.000"/></radialGradient>
<radialGradient id="r32"><stop offset="0.00" stop-color="#fff" stop-opacity="0.413"/><stop offset="0.15" stop-color="#fff" stop-opacity="0.391"/><stop offset="0.30" stop-color="#fff" stop-opacity="0.332"/><stop offset="0.45" stop-color="#fff" stop-opacity="0.253"/><stop offset="0.60" stop-color="#fff" stop-opacity="0.173"/><stop offset="0.75" stop-color="#fff" stop-opacity="0.106"/><stop offset="0.90" stop-color="#fff" stop-opacity="0.029"/><stop offset="1.00" stop-color="#fff" stop-opacity="0.000"/></radialGradient>
<radialGradient id="r33"><stop offset="0.00" stop-color="#fff" stop-opacity="0.254"/><stop offset="0.15" stop-color="#fff" stop-opacity="0.241"/><stop offset="0.30" stop-color="#fff" stop-opacity="0.204"/><stop offset="0.45" stop-color="#fff" stop-opacity="0.156"/><stop offset="0.60" stop-color="#fff" stop-opacity="0.106"/><stop offset="0.75" stop-color="#fff" stop-opacity="0.065"/><stop offset="0.90" stop-color="#fff" stop-opacity="0.018"/><stop offset="1.00" stop-color="#fff" stop-opacity="0.000"/></radialGradient>
<radialGradient id="r34"><stop offset="0.00" stop-color="#fff" stop-opacity="0.159"/><stop offset="0.15" stop-color="#fff" stop-opacity="0.150"/><stop offset="0.30" stop-color="#fff" stop-opacity="0.128"/><stop offset="0.45" stop-color="#fff" stop-opacity="0.097"/><stop offset="0.60" stop-color="#fff" stop-opacity="0.066"/><stop offset="0.75" stop-color="#fff" stop-opacity="0.041"/><stop offset="0.90" stop-color="#fff" stop-opacity="0.011"/><stop offset="1.00" stop-color="#fff" stop-opacity="0.000"/></radialGradient>
<radialGradient id="r35"><stop offset="0.00" stop-color="#fff" stop-opacity="0.111"/><stop offset="0.15" stop-color="#fff" stop-opacity="0.105"/><stop offset="0.30" stop-color="#fff" stop-opacity="0.089"/><stop offset="0.45" stop-color="#fff" stop-opacity="0.068"/><stop offset="0.60" stop-color="#fff" stop-opacity="0.046"/><stop offset="0.75" stop-color="#fff" stop-opacity="0.028"/><stop offset="0.90" stop-color="#fff" stop-opacity="0.008"/><stop offset="1.00" stop-color="#fff" stop-opacity="0.000"/></radialGradient>
<radialGradient id="r36"><stop offset="0.00" stop-color="#fff" stop-opacity="0.143"/><stop offset="0.15" stop-color="#fff" stop-opacity="0.135"/><stop offset="0.30" stop-color="#fff" stop-opacity="0.115"/><stop offset="0.45" stop-color="#fff" stop-opacity="0.088"/><stop offset="0.60" stop-color="#fff" stop-opacity="0.060"/><stop offset="0.75" stop-color="#fff" stop-opacity="0.037"/><stop offset="0.90" stop-color="#fff" stop-opacity="0.010"/><stop offset="1.00" stop-color="#fff" stop-opacity="0.000"/></radialGradient>
<radialGradient id="r37"><stop offset="0.00" stop-color="#fff" stop-opacity="0.127"/><stop offset="0.15" stop-color="#fff" stop-opacity="0.120"/><stop offset="0.30" stop-color="#fff" stop-opacity="0.102"/><stop offset="0.45" stop-color="#fff" stop-opacity="0.078"/><stop offset="0.60" stop-color="#fff" stop-opacity="0.053"/><stop offset="0.75" stop-color="#fff" stop-opacity="0.033"/><stop offset="0.90" stop-color="#fff" stop-opacity="0.009"/><stop offset="1.00" stop-color="#fff" stop-opacity="0.000"/></radialGradient>
<radialGradient id="r38"><stop offset="0.00" stop-color="#fff" stop-opacity="0.079"/><stop offset="0.15" stop-color="#fff" stop-opacity="0.075"/><stop offset="0.30" stop-color="#fff" stop-opacity="0.064"/><stop offset="0.45" stop-color="#fff" stop-opacity="0.049"/><stop offset="0.60" stop-color="#fff" stop-opacity="0.033"/><stop offset="0.75" stop-color="#fff" stop-opacity="0.020"/><stop offset="0.90" stop-color="#fff" stop-opacity="0.006"/><stop offset="1.00" stop-color="#fff" stop-opacity="0.000"/></radialGradient>
<radialGradient id="r39"><stop offset="0.00" stop-color="#fff" stop-opacity="0.048"/><stop offset="0.15" stop-color="#fff" stop-opacity="0.045"/><stop offset="0.30" stop-color="#fff" stop-opacity="0.038"/><stop offset="0.45" stop-color="#fff" stop-opacity="0.029"/><stop offset="0.60" stop-color="#fff" stop-opacity="0.020"/><stop offset="0.75" stop-color="#fff" stop-opacity="0.012"/><stop offset="0.90" stop-color="#fff" stop-opacity="0.003"/><stop offset="1.00" stop-color="#fff" stop-opacity="0.000"/></radialGradient>
<radialGradient id="r40"><stop offset="0.00" stop-color="#fff" stop-opacity="0.048"/><stop offset="0.15" stop-color="#fff" stop-opacity="0.045"/><stop offset="0.30" stop-color="#fff" stop-opacity="0.038"/><stop offset="0.45" stop-color="#fff" stop-opacity="0.029"/><stop offset="0.60" stop-color="#fff" stop-opacity="0.020"/><stop offset="0.75" stop-color="#fff" stop-opacity="0.012"/><stop offset="0.90" stop-color="#fff" stop-opacity="0.003"/><stop offset="1.00" stop-color="#fff" stop-opacity="0.000"/></radialGradient>
<radialGradient id="r41"><stop offset="0.00" stop-color="#fff" stop-opacity="0.063"/><stop offset="0.15" stop-color="#fff" stop-opacity="0.060"/><stop offset="0.30" stop-color="#fff" stop-opacity="0.051"/><stop offset="0.45" stop-color="#fff" stop-opacity="0.039"/><stop offset="0.60" stop-color="#fff" stop-opacity="0.027"/><stop offset="0.75" stop-color="#fff" stop-opacity="0.016"/><stop offset="0.90" stop-color="#fff" stop-opacity="0.004"/><stop offset="1.00" stop-color="#fff" stop-opacity="0.000"/></radialGradient>
<radialGradient id="r42"><stop offset="0.00" stop-color="#fff" stop-opacity="0.079"/><stop offset="0.15" stop-color="#fff" stop-opacity="0.075"/><stop offset="0.30" stop-color="#fff" stop-opacity="0.064"/><stop offset="0.45" stop-color="#fff" stop-opacity="0.049"/><stop offset="0.60" stop-color="#fff" stop-opacity="0.033"/><stop offset="0.75" stop-color="#fff" stop-opacity="0.020"/><stop offset="0.90" stop-color="#fff" stop-opacity="0.006"/><stop offset="1.00" stop-color="#fff" stop-opacity="0.000"/></radialGradient>
<radialGradient id="r43"><stop offset="0.00" stop-color="#fff" stop-opacity="0.079"/><stop offset="0.15" stop-color="#fff" stop-opacity="0.075"/><stop offset="0.30" stop-color="#fff" stop-opacity="0.064"/><stop offset="0.45" stop-color="#fff" stop-opacity="0.049"/><stop offset="0.60" stop-color="#fff" stop-opacity="0.033"/><stop offset="0.75" stop-color="#fff" stop-opacity="0.020"/><stop offset="0.90" stop-color="#fff" stop-opacity="0.006"/><stop offset="1.00" stop-color="#fff" stop-opacity="0.000"/></radialGradient>
<radialGradient id="r44"><stop offset="0.00" stop-color="#fff" stop-opacity="0.254"/><stop offset="0.15" stop-color="#fff" stop-opacity="0.241"/><stop offset="0.30" stop-color="#fff" stop-opacity="0.204"/><stop offset="0.45" stop-color="#fff" stop-opacity="0.156"/><stop offset="0.60" stop-color="#fff" stop-opacity="0.106"/><stop offset="0.75" stop-color="#fff" stop-opacity="0.065"/><stop offset="0.90" stop-color="#fff" stop-opacity="0.018"/><stop offset="1.00" stop-color="#fff" stop-opacity="0.000"/></radialGradient>
<radialGradient id="r45"><stop offset="0.00" stop-color="#fff" stop-opacity="0.222"/><stop offset="0.15" stop-color="#fff" stop-opacity="0.210"/><stop offset="0.30" stop-color="#fff" stop-opacity="0.179"/><stop offset="0.45" stop-color="#fff" stop-opacity="0.136"/><stop offset="0.60" stop-color="#fff" stop-opacity="0.093"/><stop offset="0.75" stop-color="#fff" stop-opacity="0.057"/><stop offset="0.90" stop-color="#fff" stop-opacity="0.016"/><stop offset="1.00" stop-color="#fff" stop-opacity="0.000"/></radialGradient>
<radialGradient id="r46"><stop offset="0.00" stop-color="#fff" stop-opacity="0.095"/><stop offset="0.15" stop-color="#fff" stop-opacity="0.090"/><stop offset="0.30" stop-color="#fff" stop-opacity="0.077"/><stop offset="0.45" stop-color="#fff" stop-opacity="0.058"/><stop offset="0.60" stop-color="#fff" stop-opacity="0.040"/><stop offset="0.75" stop-color="#fff" stop-opacity="0.024"/><stop offset="0.90" stop-color="#fff" stop-opacity="0.007"/><stop offset="1.00" stop-color="#fff" stop-opacity="0.000"/></radialGradient>
<linearGradient id="g9" x1="0" y1="1" x2="0" y2="0"><stop offset="0.0000" stop-color="#352a87"/><stop offset="0.0156" stop-color="#352a87"/><stop offset="0.0156" stop-color="#363093"/><stop offset="0.0312" stop-color="#363093"/><stop offset="0.0312" stop-color="#3637a0"/><stop offset="0.0469" stop-color="#3637a0"/><stop offset="0.0469" stop-color="#353dad"/><stop offset="0.0625" stop-color="#353dad"/><stop offset="0.0625" stop-color="#3243ba"/><stop offset="0.0781" stop-color="#3243ba"/><stop offset="0.0781" stop-color="#2c4ac7"/><stop offset="0.0938" stop-color="#2c4ac7"/><stop offset="0.0938" stop-color="#2053d4"/><stop offset="0.1094" stop-color="#2053d4"/><stop offset="0.1094" stop-color="#0f5cdd"/><stop offset="0.1250" stop-color="#0f5cdd"/><stop offset="0.1250" stop-color="#0363e1"/><stop offset="0.1406" stop-color="#0363e1"/><stop offset="0.1406" stop-color="#0268e1"/><stop offset="0.1562" stop-color="#0268e1"/><stop offset="0.1562" stop-color="#046de0"/><stop offset="0.1719" stop-color="#046de0"/><stop offset="0.1719" stop-color="#0871de"/><stop offset="0.1875" stop-color="#0871de"/><stop offset="0.1875" stop-color="#0d75dc"/><stop offset="0.2031" stop-color="#0d75dc"/><stop offset="0.2031" stop-color="#1079da"/><stop offset="0.2188" stop-color="#1079da"/><stop offset="0.2188" stop-color="#127dd8"/><stop offset="0.2344" stop-color="#127dd8"/><stop offset="0.2344" stop-color="#1481d6"/><stop offset="0.2500" stop-color="#1481d6"/><stop offset="0.2500" stop-color="#1485d4"/><stop offset="0.2656" stop-color="#1485d4"/><stop offset="0.2656" stop-color="#1389d3"/><stop offset="0.2812" stop-color="#1389d3"/><stop offset="0.2812" stop-color="#108ed2"/><stop offset="0.2969" stop-color="#108ed2"/><stop offset="0.2969" stop-color="#0c93d2"/><stop offset="0.3125" stop-color="#0c93d2"/><stop offset="0.3125" stop-color="#0998d1"/><stop offset="0.3281" stop-color="#0998d1"/><stop offset="0.3281" stop-color="#079ccf"/><stop offset="0.3438" stop-color="#079ccf"/><stop offset="0.3438" stop-color="#06a0cd"/><stop offset="0.3594" stop-color="#06a0cd"/><stop offset="0.3594" stop-color="#06a4ca"/><stop offset="0.3750" stop-color="#06a4ca"/><stop offset="0.3750" stop-color="#06a7c6"/><stop offset="0.3906" stop-color="#06a7c6"/><stop offset="0.3906" stop-color="#07a9c2"/><stop offset="0.4062" stop-color="#07a9c2"/><stop offset="0.4062" stop-color="#0aacbe"/><stop offset="0.4219" stop-color="#0aacbe"/><stop offset="0.4219" stop-color="#0faeb9"/><stop offset="0.4375" stop-color="#0faeb9"/><stop offset="0.4375" stop-color="#15b1b4"/><stop offset="0.4531" stop-color="#15b1b4"/><stop offset="0.4531" stop-color="#1db3af"/><stop offset="0.4688" stop-color="#1db3af"/><stop offset="0.4688" stop-color="#25b5a9"/><stop offset="0.4844" stop-color="#25b5a9"/><stop offset="0.4844" stop-color="#2eb7a4"/><stop offset="0.5000" stop-color="#2eb7a4"/><stop offset="0.5000" stop-color="#38b99e"/><stop offset="0.5156" stop-color="#38b99e"/><stop offset="0.5156" stop-color="#42bb98"/><stop offset="0.5312" stop-color="#42bb98"/><stop offset="0.5312" stop-color="#4dbc92"/><stop offset="0.5469" stop-color="#4dbc92"/><stop offset="0.5469" stop-color="#59bd8c"/><stop offset="0.5625" stop-color="#59bd8c"/><stop offset="0.5625" stop-color="#65be86"/><stop offset="0.5781" stop-color="#65be86"/><stop offset="0.5781" stop-color="#71bf80"/><stop offset="0.5938" stop-color="#71bf80"/><stop offset="0.5938" stop-color="#7cbf7b"/><stop offset="0.6094" stop-color="#7cbf7b"/><stop offset="0.6094" stop-color="#87bf77"/><stop offset="0.6250" stop-color="#87bf77"/><stop offset="0.6250" stop-color="#92bf73"/><stop offset="0.6406" stop-color="#92bf73"/><stop offset="0.6406" stop-color="#9cbf6f"/><stop offset="0.6562" stop-color="#9cbf6f"/><stop offset="0.6562" stop-color="#a5be6b"/><stop offset="0.6719" stop-color="#a5be6b"/><stop offset="0.6719" stop-color="#aebe67"/><stop offset="0.6875" stop-color="#aebe67"/><stop offset="0.6875" stop-color="#b7bd64"/><stop offset="0.7031" stop-color="#b7bd64"/><stop offset="0.7031" stop-color="#c0bc60"/><stop offset="0.7188" stop-color="#c0bc60"/><stop offset="0.7188" stop-color="#c8bc5d"/><stop offset="0.7344" stop-color="#c8bc5d"/><stop offset="0.7344" stop-color="#d1bb59"/><stop offset="0.7500" stop-color="#d1bb59"/><stop offset="0.7500" stop-color="#d9ba56"/><stop offset="0.7656" stop-color="#d9ba56"/><stop offset="0.7656" stop-color="#e1b952"/><stop offset="0.7812" stop-color="#e1b952"/><stop offset="0.7812" stop-color="#e9b94e"/><stop offset="0.7969" stop-color="#e9b94e"/><stop offset="0.7969" stop-color="#f1b94a"/><stop offset="0.8125" stop-color="#f1b94a"/><stop offset="0.8125" stop-color="#f8bb44"/><stop offset="0.8281" stop-color="#f8bb44"/><stop offset="0.8281" stop-color="#fdbe3d"/><stop offset="0.8438" stop-color="#fdbe3d"/><stop offset="0.8438" stop-color="#ffc337"/><stop offset="0.8594" stop-color="#ffc337"/><stop offset="0.8594" stop-color="#fec832"/><stop offset="0.8750" stop-color="#fec832"/><stop offset="0.8750" stop-color="#fcce2e"/><stop offset="0.8906" stop-color="#fcce2e"/><stop offset="0.8906" stop-color="#fad32a"/><stop offset="0.9062" stop-color="#fad32a"/><stop offset="0.9062" stop-color="#f7d826"/><stop offset="0.9219" stop-color="#f7d826"/><stop offset="0.9219" stop-color="#f5de21"/><stop offset="0.9375" stop-color="#f5de21"/><stop offset="0.9375" stop-color="#f5e41d"/><stop offset="0.9531" stop-color="#f5e41d"/><stop offset="0.9531" stop-color="#f5eb18"/><stop offset="0.9688" stop-color="#f5eb18"/><stop offset="0.9688" stop-color="#f6f313"/><stop offset="0.9844" stop-color="#f6f313"/><stop offset="0.9844" stop-color="#f9fb0e"/><stop offset="1.0000" stop-color="#f9fb0e"/></linearGradient>
<linearGradient id="g10" x1="0" y1="1" x2="0" y2="0"><stop offset="0.0000" stop-color="#352a87"/><stop offset="0.0156" stop-color="#352a87"/><stop offset="0.0156" stop-color="#363093"/><stop offset="0.0312" stop-color="#363093"/><stop offset="0.0312" stop-color="#3637a0"/><stop offset="0.0469" stop-color="#3637a0"/><stop offset="0.0469" stop-color="#353dad"/><stop offset="0.0625" stop-color="#353dad"/><stop offset="0.0625" stop-color="#3243ba"/><stop offset="0.0781" stop-color="#3243ba"/><stop offset="0.0781" stop-color="#2c4ac7"/><stop offset="0.0938" stop-color="#2c4ac7"/><stop offset="0.0938" stop-color="#2053d4"/><stop offset="0.1094" stop-color="#2053d4"/><stop offset="0.1094" stop-color="#0f5cdd"/><stop offset="0.1250" stop-color="#0f5cdd"/><stop offset="0.1250" stop-color="#0363e1"/><stop offset="0.1406" stop-color="#0363e1"/><stop offset="0.1406" stop-color="#0268e1"/><stop offset="0.1562" stop-color="#0268e1"/><stop offset="0.1562" stop-color="#046de0"/><stop offset="0.1719" stop-color="#046de0"/><stop offset="0.1719" stop-color="#0871de"/><stop offset="0.1875" stop-color="#0871de"/><stop offset="0.1875" stop-color="#0d75dc"/><stop offset="0.2031" stop-color="#0d75dc"/><stop offset="0.2031" stop-color="#1079da"/><stop offset="0.2188" stop-color="#1079da"/><stop offset="0.2188" stop-color="#127dd8"/><stop offset="0.2344" stop-color="#127dd8"/><stop offset="0.2344" stop-color="#1481d6"/><stop offset="0.2500" stop-color="#1481d6"/><stop offset="0.2500" stop-color="#1485d4"/><stop offset="0.2656" stop-color="#1485d4"/><stop offset="0.2656" stop-color="#1389d3"/><stop offset="0.2812" stop-color="#1389d3"/><stop offset="0.2812" stop-color="#108ed2"/><stop offset="0.2969" stop-color="#108ed2"/><stop offset="0.2969" stop-color="#0c93d2"/><stop offset="0.3125" stop-color="#0c93d2"/><stop offset="0.3125" stop-color="#0998d1"/><stop offset="0.3281" stop-color="#0998d1"/><stop offset="0.3281" stop-color="#079ccf"/><stop offset="0.3438" stop-color="#079ccf"/><stop offset="0.3438" stop-color="#06a0cd"/><stop offset="0.3594" stop-color="#06a0cd"/><stop offset="0.3594" stop-color="#06a4ca"/><stop offset="0.3750" stop-color="#06a4ca"/><stop offset="0.3750" stop-color="#06a7c6"/><stop offset="0.3906" stop-color="#06a7c6"/><stop offset="0.3906" stop-color="#07a9c2"/><stop offset="0.4062" stop-color="#07a9c2"/><stop offset="0.4062" stop-color="#0aacbe"/><stop offset="0.4219" stop-color="#0aacbe"/><stop offset="0.4219" stop-color="#0faeb9"/><stop offset="0.4375" stop-color="#0faeb9"/><stop offset="0.4375" stop-color="#15b1b4"/><stop offset="0.4531" stop-color="#15b1b4"/><stop offset="0.4531" stop-color="#1db3af"/><stop offset="0.4688" stop-color="#1db3af"/><stop offset="0.4688" stop-color="#25b5a9"/><stop offset="0.4844" stop-color="#25b5a9"/><stop offset="0.4844" stop-color="#2eb7a4"/><stop offset="0.5000" stop-color="#2eb7a4"/><stop offset="0.5000" stop-color="#38b99e"/><stop offset="0.5156" stop-color="#38b99e"/><stop offset="0.5156" stop-color="#42bb98"/><stop offset="0.5312" stop-color="#42bb98"/><stop offset="0.5312" stop-color="#4dbc92"/><stop offset="0.5469" stop-color="#4dbc92"/><stop offset="0.5469" stop-color="#59bd8c"/><stop offset="0.5625" stop-color="#59bd8c"/><stop offset="0.5625" stop-color="#65be86"/><stop offset="0.5781" stop-color="#65be86"/><stop offset="0.5781" stop-color="#71bf80"/><stop offset="0.5938" stop-color="#71bf80"/><stop offset="0.5938" stop-color="#7cbf7b"/><stop offset="0.6094" stop-color="#7cbf7b"/><stop offset="0.6094" stop-color="#87bf77"/><stop offset="0.6250" stop-color="#87bf77"/><stop offset="0.6250" stop-color="#92bf73"/><stop offset="0.6406" stop-color="#92bf73"/><stop offset="0.6406" stop-color="#9cbf6f"/><stop offset="0.6562" stop-color="#9cbf6f"/><stop offset="0.6562" stop-color="#a5be6b"/><stop offset="0.6719" stop-color="#a5be6b"/><stop offset="0.6719" stop-color="#aebe67"/><stop offset="0.6875" stop-color="#aebe67"/><stop offset="0.6875" stop-color="#b7bd64"/><stop offset="0.7031" stop-color="#b7bd64"/><stop offset="0.7031" stop-color="#c0bc60"/><stop offset="0.7188" stop-color="#c0bc60"/><stop offset="0.7188" stop-color="#c8bc5d"/><stop offset="0.7344" stop-color="#c8bc5d"/><stop offset="0.7344" stop-color="#d1bb59"/><stop offset="0.7500" stop-color="#d1bb59"/><stop offset="0.7500" stop-color="#d9ba56"/><stop offset="0.7656" stop-color="#d9ba56"/><stop offset="0.7656" stop-color="#e1b952"/><stop offset="0.7812" stop-color="#e1b952"/><stop offset="0.7812" stop-color="#e9b94e"/><stop offset="0.7969" stop-color="#e9b94e"/><stop offset="0.7969" stop-color="#f1b94a"/><stop offset="0.8125" stop-color="#f1b94a"/><stop offset="0.8125" stop-color="#f8bb44"/><stop offset="0.8281" stop-color="#f8bb44"/><stop offset="0.8281" stop-color="#fdbe3d"/><stop offset="0.8438" stop-color="#fdbe3d"/><stop offset="0.8438" stop-color="#ffc337"/><stop offset="0.8594" stop-color="#ffc337"/><stop offset="0.8594" stop-color="#fec832"/><stop offset="0.8750" stop-color="#fec832"/><stop offset="0.8750" stop-color="#fcce2e"/><stop offset="0.8906" stop-color="#fcce2e"/><stop offset="0.8906" stop-color="#fad32a"/><stop offset="0.9062" stop-color="#fad32a"/><stop offset="0.9062" stop-color="#f7d826"/><stop offset="0.9219" stop-color="#f7d826"/><stop offset="0.9219" stop-color="#f5de21"/><stop offset="0.9375" stop-color="#f5de21"/><stop offset="0.9375" stop-color="#f5e41d"/><stop offset="0.9531" stop-color="#f5e41d"/><stop offset="0.9531" stop-color="#f5eb18"/><stop offset="0.9688" stop-color="#f5eb18"/><stop offset="0.9688" stop-color="#f6f313"/><stop offset="0.9844" stop-color="#f6f313"/><stop offset="0.9844" stop-color="#f9fb0e"/><stop offset="1.0000" stop-color="#f9fb0e"/></linearGradient>
</defs>
<rect width="849" height="1262" fill="#fff"/>
<rect x="118.1" y="49.1" width="522.9" height="522.4" fill="#e6e6e6"/>
<path d="M127.2 90.9 L130.2 90.9 L133.2 90.9 L136.2 90.9 L139.2 90.9 L142.2 90.9 L145.2 90.9 L148.2 90.9 L151.2 90.9 L154.2 90.9 L157.2 90.9 L160.2 90.9 L163.2 90.9 L166.2 90.9 L169.2 90.9 L172.2 90.9 L175.2 90.9 L178.2 90.9 L181.2 90.9 L184.2 90.9 L187.2 90.9 L190.2 90.9 L193.2 90.9 L196.2 90.9 L199.2 90.9 L202.2 90.9 L205.2 91.0 L208.2 91.0 L211.2 91.0 L214.2 91.0 L217.2 91.0 L220.2 91.0 L223.2 91.0 L226.2 91.0 L229.2 91.0 L232.2 91.0 L235.2 91.0 L238.2 91.0 L241.2 91.0 L244.2 91.0 L247.2 91.0 L250.2 91.0 L253.2 91.0 L256.2 91.0 L259.2 91.0 L262.2 91.0 L265.2 91.0 L268.2 91.0 L271.2 91.0 L274.2 91.0 L277.2 91.0 L280.2 91.0 L283.2 91.0 L286.2 91.0 L289.2 91.0 L292.2 91.0 L295.2 91.0 L298.2 91.0 L301.2 91.0 L304.2 91.1 L307.2 91.1 L310.2 91.1 L313.2 91.1 L316.2 91.1 L319.2 91.1 L322.2 91.1 L325.2 91.1 L328.2 91.1 L331.2 91.1 L334.2 91.2 L337.2 91.2 L340.2 91.2 L343.2 91.2 L346.2 91.2 L349.2 91.2 L352.2 91.2 L355.2 91.2 L358.2 91.2 L361.2 91.3 L364.2 91.3 L367.2 91.3 L370.2 91.3 L373.2 91.3 L376.2 91.3 L379.2 91.3 L382.2 91.3 L385.2 91.3 L388.2 91.4 L391.2 91.4 L394.2 91.4 L397.2 91.4 L400.2 91.4 L403.2 91.4 L406.2 91.4 L409.2 91.4 L412.2 91.4 L415.2 91.4 L418.2 91.4 L421.2 91.4 L424.2 91.4 L427.2 91.4 L430.2 91.4 L433.2 91.4 L436.2 91.4 L439.2 91.4 L442.2 91.4 L445.2 91.4 L448.2 91.4 L451.2 91.4 L454.2 91.4 L457.2 91.4 L460.2 91.4 L463.2 91.5 L466.2 91.5 L469.2 91.5 L472.2 91.5 L475.2 91.5 L478.2 91.5 L481.2 91.5 L484.2 91.5 L487.2 91.5 L490.2 91.5 L493.2 91.5 L496.2 91.5 L499.2 91.5 L502.2 91.5 L505.2 91.5 L508.2 91.5 L511.2 91.5 L514.2 91.5 L517.2 91.5 L520.2 91.5 L523.2 91.5 L526.2 91.5 L529.2 91.5 L532.2 91.5 L535.2 91.5 L538.2 91.5 L541.2 91.5 L544.2 91.5 L547.2 91.5 L550.2 91.5 L553.2 91.5 L556.2 91.5 L559.2 91.5 L562.2 91.5 L565.2 91.5 L568.2 91.5 L571.2 91.5 L574.2 91.5 L577.2 91.5 L580.2 91.5 L583.2 91.6 L586.2 91.6 L589.2 91.6 L592.2 91.6 L595.2 91.6 L598.2 91.6 L601.2 91.6 L604.2 91.6 L607.2 91.6 L610.2 91.6 L613.2 91.6 L616.2 91.6 L619.2 91.6 L622.2 91.6 L625.2 91.6 L628.2 91.6 L631.2 91.6 L634.2 91.6 L637.2 91.6 L640.2 91.6 L641.0 91.6 L641.0 133.4 L640.2 133.4 L637.2 133.3 L634.2 133.1 L631.2 133.0 L628.2 132.8 L625.2 132.6 L622.2 132.4 L619.2 132.2 L616.2 132.0 L613.2 131.9 L610.2 131.7 L607.2 131.5 L604.2 131.3 L601.2 131.2 L598.2 131.2 L595.2 131.4 L592.2 131.5 L589.2 131.7 L586.2 131.8 L583.2 131.9 L580.2 132.1 L577.2 132.2 L574.2 132.4 L571.2 132.5 L568.2 132.6 L565.2 132.7 L562.2 132.6 L559.2 132.4 L556.2 132.2 L553.2 132.0 L550.2 131.8 L547.2 131.6 L544.2 131.4 L541.2 131.2 L538.2 131.0 L535.2 130.8 L532.2 130.6 L529.2 130.6 L526.2 130.7 L523.2 130.8 L520.2 130.9 L517.2 131.0 L514.2 131.1 L511.2 131.2 L508.2 131.4 L505.2 131.5 L502.2 131.6 L499.2 131.7 L496.2 131.8 L493.2 131.9 L490.2 132.0 L487.2 132.1 L484.2 132.0 L481.2 131.9 L478.2 131.7 L475.2 131.5 L472.2 131.3 L469.2 131.2 L466.2 131.1 L463.2 131.1 L460.2 131.0 L457.2 130.9 L454.2 130.9 L451.2 130.9 L448.2 130.9 L445.2 131.0 L442.2 131.2 L439.2 131.3 L436.2 131.4 L433.2 131.5 L430.2 131.7 L427.2 131.8 L424.2 131.9 L421.2 132.0 L418.2 132.2 L415.2 132.2 L412.2 132.2 L409.2 132.1 L406.2 131.9 L403.2 131.8 L400.2 131.7 L397.2 131.5 L394.2 131.4 L391.2 131.3 L388.2 131.2 L385.2 131.0 L382.2 130.9 L379.2 130.8 L376.2 130.7 L373.2 130.8 L370.2 130.9 L367.2 131.1 L364.2 131.3 L361.2 131.4 L358.2 131.6 L355.2 131.8 L352.2 132.0 L349.2 132.2 L346.2 132.4 L343.2 132.6 L340.2 132.7 L337.2 132.9 L334.2 132.9 L331.2 132.8 L328.2 132.7 L325.2 132.5 L322.2 132.4 L319.2 132.3 L316.2 132.1 L313.2 132.0 L310.2 131.9 L307.2 131.7 L304.2 131.6 L301.2 131.5 L298.2 131.4 L295.2 131.2 L292.2 131.1 L289.2 131.1 L286.2 131.1 L283.2 131.2 L280.2 131.3 L277.2 131.4 L274.2 131.5 L271.2 131.6 L268.2 131.6 L265.2 131.6 L262.2 131.5 L259.2 131.3 L256.2 131.2 L253.2 131.0 L250.2 130.9 L247.2 130.7 L244.2 130.6 L241.2 130.4 L238.2 130.3 L235.2 130.1 L232.2 130.0 L229.2 129.9 L226.2 129.7 L223.2 129.6 L220.2 129.5 L217.2 129.5 L214.2 129.7 L211.2 129.8 L208.2 130.0 L205.2 130.1 L202.2 130.2 L199.2 130.4 L196.2 130.5 L193.2 130.7 L190.2 130.8 L187.2 130.8 L184.2 130.6 L181.2 130.4 L178.2 130.2 L175.2 130.0 L172.2 129.8 L169.2 129.6 L166.2 129.4 L163.2 129.2 L160.2 129.1 L157.2 129.0 L154.2 129.0 L151.2 129.0 L148.2 129.0 L145.2 129.0 L142.2 129.0 L139.2 129.0 L136.2 129.0 L133.2 129.0 L130.2 129.0 L127.2 129.0Z" fill="url(#g1)"/>
<path d="M127.2 128.0 L130.2 128.0 L133.2 128.0 L136.2 128.0 L139.2 128.0 L142.2 128.0 L145.2 128.0 L148.2 128.0 L151.2 128.0 L154.2 128.0 L157.2 128.0 L160.2 128.1 L163.2 128.2 L166.2 128.4 L169.2 128.6 L172.2 128.8 L175.2 129.0 L178.2 129.2 L181.2 129.4 L184.2 129.6 L187.2 129.8 L190.2 129.8 L193.2 129.7 L196.2 129.5 L199.2 129.4 L202.2 129.2 L205.2 129.1 L208.2 129.0 L211.2 128.8 L214.2 128.7 L217.2 128.5 L220.2 128.5 L223.2 128.6 L226.2 128.7 L229.2 128.9 L232.2 129.0 L235.2 129.1 L238.2 129.3 L241.2 129.4 L244.2 129.6 L247.2 129.7 L250.2 129.9 L253.2 130.0 L256.2 130.2 L259.2 130.3 L262.2 130.5 L265.2 130.6 L268.2 130.6 L271.2 130.6 L274.2 130.5 L277.2 130.4 L280.2 130.3 L283.2 130.2 L286.2 130.1 L289.2 130.1 L292.2 130.1 L295.2 130.2 L298.2 130.4 L301.2 130.5 L304.2 130.6 L307.2 130.7 L310.2 130.9 L313.2 131.0 L316.2 131.1 L319.2 131.3 L322.2 131.4 L325.2 131.5 L328.2 131.7 L331.2 131.8 L334.2 131.9 L337.2 131.9 L340.2 131.7 L343.2 131.6 L346.2 131.4 L349.2 131.2 L352.2 131.0 L355.2 130.8 L358.2 130.6 L361.2 130.4 L364.2 130.3 L367.2 130.1 L370.2 129.9 L373.2 129.8 L376.2 129.7 L379.2 129.8 L382.2 129.9 L385.2 130.0 L388.2 130.2 L391.2 130.3 L394.2 130.4 L397.2 130.5 L400.2 130.7 L403.2 130.8 L406.2 130.9 L409.2 131.1 L412.2 131.2 L415.2 131.2 L418.2 131.2 L421.2 131.0 L424.2 130.9 L427.2 130.8 L430.2 130.7 L433.2 130.5 L436.2 130.4 L439.2 130.3 L442.2 130.2 L445.2 130.0 L448.2 129.9 L451.2 129.9 L454.2 129.9 L457.2 129.9 L460.2 130.0 L463.2 130.1 L466.2 130.1 L469.2 130.2 L472.2 130.3 L475.2 130.5 L478.2 130.7 L481.2 130.9 L484.2 131.0 L487.2 131.1 L490.2 131.0 L493.2 130.9 L496.2 130.8 L499.2 130.7 L502.2 130.6 L505.2 130.5 L508.2 130.4 L511.2 130.2 L514.2 130.1 L517.2 130.0 L520.2 129.9 L523.2 129.8 L526.2 129.7 L529.2 129.6 L532.2 129.6 L535.2 129.8 L538.2 130.0 L541.2 130.2 L544.2 130.4 L547.2 130.6 L550.2 130.8 L553.2 131.0 L556.2 131.2 L559.2 131.4 L562.2 131.6 L565.2 131.7 L568.2 131.6 L571.2 131.5 L574.2 131.4 L577.2 131.2 L580.2 131.1 L583.2 130.9 L586.2 130.8 L589.2 130.7 L592.2 130.5 L595.2 130.4 L598.2 130.2 L601.2 130.2 L604.2 130.3 L607.2 130.5 L610.2 130.7 L613.2 130.9 L616.2 131.0 L619.2 131.2 L622.2 131.4 L625.2 131.6 L628.2 131.8 L631.2 132.0 L634.2 132.1 L637.2 132.3 L640.2 132.4 L641.0 132.4 L641.0 175.1 L640.2 175.1 L637.2 174.8 L634.2 174.6 L631.2 174.3 L628.2 174.0 L625.2 173.7 L622.2 173.4 L619.2 173.1 L616.2 172.8 L613.2 172.6 L610.2 172.3 L607.2 172.0 L604.2 171.7 L601.2 171.6 L598.2 171.6 L595.2 171.8 L592.2 172.0 L589.2 172.2 L586.2 172.4 L583.2 172.6 L580.2 172.8 L577.2 173.1 L574.2 173.3 L571.2 173.5 L568.2 173.7 L565.2 173.7 L562.2 173.5 L559.2 173.2 L556.2 172.9 L553.2 172.5 L550.2 172.2 L547.2 171.8 L544.2 171.5 L541.2 171.1 L538.2 170.8 L535.2 170.4 L532.2 170.1 L529.2 169.9 L526.2 170.0 L523.2 170.2 L520.2 170.4 L517.2 170.7 L514.2 170.9 L511.2 171.2 L508.2 171.4 L505.2 171.7 L502.2 171.9 L499.2 172.1 L496.2 172.4 L493.2 172.6 L490.2 172.7 L487.2 172.6 L484.2 172.4 L481.2 172.1 L478.2 171.9 L475.2 171.6 L472.2 171.3 L469.2 171.1 L466.2 170.8 L463.2 170.7 L460.2 170.6 L457.2 170.5 L454.2 170.4 L451.2 170.4 L448.2 170.5 L445.2 170.7 L442.2 170.8 L439.2 171.0 L436.2 171.2 L433.2 171.4 L430.2 171.6 L427.2 171.8 L424.2 171.9 L421.2 172.1 L418.2 172.3 L415.2 172.4 L412.2 172.3 L409.2 172.1 L406.2 171.9 L403.2 171.8 L400.2 171.6 L397.2 171.4 L394.2 171.2 L391.2 171.0 L388.2 170.8 L385.2 170.6 L382.2 170.4 L379.2 170.3 L376.2 170.2 L373.2 170.2 L370.2 170.4 L367.2 170.7 L364.2 170.9 L361.2 171.2 L358.2 171.4 L355.2 171.7 L352.2 171.9 L349.2 172.2 L346.2 172.4 L343.2 172.7 L340.2 172.9 L337.2 173.1 L334.2 173.1 L331.2 173.0 L328.2 172.8 L325.2 172.6 L322.2 172.5 L319.2 172.3 L316.2 172.1 L313.2 171.9 L310.2 171.7 L307.2 171.5 L304.2 171.4 L301.2 171.2 L298.2 171.0 L295.2 170.8 L292.2 170.7 L289.2 170.6 L286.2 170.7 L283.2 170.8 L280.2 171.0 L277.2 171.1 L274.2 171.3 L271.2 171.4 L268.2 171.5 L265.2 171.6 L262.2 171.6 L259.2 171.4 L256.2 171.1 L253.2 170.8 L250.2 170.4 L247.2 170.1 L244.2 169.8 L241.2 169.5 L238.2 169.2 L235.2 168.9 L232.2 168.5 L229.2 168.3 L226.2 168.2 L223.2 168.2 L220.2 168.2 L217.2 168.2 L214.2 168.2 L211.2 168.3 L208.2 168.5 L205.2 168.7 L202.2 168.9 L199.2 169.1 L196.2 169.3 L193.2 169.5 L190.2 169.7 L187.2 169.9 L184.2 170.1 L181.2 170.1 L178.2 170.0 L175.2 169.7 L172.2 169.5 L169.2 169.2 L166.2 169.0 L163.2 168.7 L160.2 168.5 L157.2 168.2 L154.2 168.0 L151.2 167.9 L148.2 167.8 L145.2 167.8 L142.2 167.9 L139.2 167.9 L136.2 167.9 L133.2 167.9 L130.2 167.9 L127.2 167.9Z" fill="url(#g2)"/>
<path d="M127.2 166.9 L130.2 166.9 L133.2 166.9 L136.2 166.9 L139.2 166.9 L142.2 166.9 L145.2 166.8 L148.2 166.8 L151.2 166.9 L154.2 167.0 L157.2 167.2 L160.2 167.5 L163.2 167.7 L166.2 168.0 L169.2 168.2 L172.2 168.5 L175.2 168.7 L178.2 169.0 L181.2 169.1 L184.2 169.1 L187.2 168.9 L190.2 168.7 L193.2 168.5 L196.2 168.3 L199.2 168.1 L202.2 167.9 L205.2 167.7 L208.2 167.5 L211.2 167.3 L214.2 167.2 L217.2 167.2 L220.2 167.2 L223.2 167.2 L226.2 167.2 L229.2 167.3 L232.2 167.5 L235.2 167.9 L238.2 168.2 L241.2 168.5 L244.2 168.8 L247.2 169.1 L250.2 169.4 L253.2 169.8 L256.2 170.1 L259.2 170.4 L262.2 170.6 L265.2 170.6 L268.2 170.5 L271.2 170.4 L274.2 170.3 L277.2 170.1 L280.2 170.0 L283.2 169.8 L286.2 169.7 L289.2 169.6 L292.2 169.7 L295.2 169.8 L298.2 170.0 L301.2 170.2 L304.2 170.4 L307.2 170.5 L310.2 170.7 L313.2 170.9 L316.2 171.1 L319.2 171.3 L322.2 171.5 L325.2 171.6 L328.2 171.8 L331.2 172.0 L334.2 172.1 L337.2 172.1 L340.2 171.9 L343.2 171.7 L346.2 171.4 L349.2 171.2 L352.2 170.9 L355.2 170.7 L358.2 170.4 L361.2 170.2 L364.2 169.9 L367.2 169.7 L370.2 169.4 L373.2 169.2 L376.2 169.2 L379.2 169.3 L382.2 169.4 L385.2 169.6 L388.2 169.8 L391.2 170.0 L394.2 170.2 L397.2 170.4 L400.2 170.6 L403.2 170.8 L406.2 170.9 L409.2 171.1 L412.2 171.3 L415.2 171.4 L418.2 171.3 L421.2 171.1 L424.2 170.9 L427.2 170.8 L430.2 170.6 L433.2 170.4 L436.2 170.2 L439.2 170.0 L442.2 169.8 L445.2 169.7 L448.2 169.5 L451.2 169.4 L454.2 169.4 L457.2 169.5 L460.2 169.6 L463.2 169.7 L466.2 169.8 L469.2 170.1 L472.2 170.3 L475.2 170.6 L478.2 170.9 L481.2 171.1 L484.2 171.4 L487.2 171.6 L490.2 171.7 L493.2 171.6 L496.2 171.4 L499.2 171.1 L502.2 170.9 L505.2 170.7 L508.2 170.4 L511.2 170.2 L514.2 169.9 L517.2 169.7 L520.2 169.4 L523.2 169.2 L526.2 169.0 L529.2 168.9 L532.2 169.1 L535.2 169.4 L538.2 169.8 L541.2 170.1 L544.2 170.5 L547.2 170.8 L550.2 171.2 L553.2 171.5 L556.2 171.9 L559.2 172.2 L562.2 172.5 L565.2 172.7 L568.2 172.7 L571.2 172.5 L574.2 172.3 L577.2 172.1 L580.2 171.8 L583.2 171.6 L586.2 171.4 L589.2 171.2 L592.2 171.0 L595.2 170.8 L598.2 170.6 L601.2 170.6 L604.2 170.7 L607.2 171.0 L610.2 171.3 L613.2 171.6 L616.2 171.8 L619.2 172.1 L622.2 172.4 L625.2 172.7 L628.2 173.0 L631.2 173.3 L634.2 173.6 L637.2 173.8 L640.2 174.1 L641.0 174.1 L641.0 220.2 L640.2 220.1 L637.2 219.9 L634.2 219.5 L631.2 219.2 L628.2 218.8 L625.2 218.5 L622.2 218.1 L619.2 217.8 L616.2 217.4 L613.2 217.1 L610.2 216.7 L607.2 216.4 L604.2 216.1 L601.2 216.0 L598.2 216.1 L595.2 216.2 L592.2 216.3 L589.2 216.4 L586.2 216.6 L583.2 216.7 L580.2 216.8 L577.2 216.9 L574.2 217.0 L571.2 217.2 L568.2 217.3 L565.2 217.3 L562.2 217.1 L559.2 216.9 L556.2 216.6 L553.2 216.3 L550.2 216.0 L547.2 215.8 L544.2 215.5 L541.2 215.2 L538.2 214.9 L535.2 214.6 L532.2 214.4 L529.2 214.1 L526.2 214.0 L523.2 214.1 L520.2 214.3 L517.2 214.5 L514.2 214.8 L511.2 215.0 L508.2 215.3 L505.2 215.6 L502.2 215.8 L499.2 216.1 L496.2 216.3 L493.2 216.6 L490.2 216.8 L487.2 216.8 L484.2 216.7 L481.2 216.5 L478.2 216.3 L475.2 216.1 L472.2 215.8 L469.2 215.6 L466.2 215.4 L463.2 215.0 L460.2 214.6 L457.2 214.2 L454.2 213.9 L451.2 213.7 L448.2 213.7 L445.2 213.9 L442.2 214.1 L439.2 214.4 L436.2 214.6 L433.2 214.9 L430.2 215.1 L427.2 215.4 L424.2 215.6 L421.2 215.9 L418.2 216.1 L415.2 216.2 L412.2 216.2 L409.2 216.0 L406.2 215.7 L403.2 215.5 L400.2 215.3 L397.2 215.1 L394.2 214.8 L391.2 214.6 L388.2 214.4 L385.2 214.2 L382.2 214.0 L379.2 213.7 L376.2 213.6 L373.2 213.7 L370.2 213.9 L367.2 214.2 L364.2 214.5 L361.2 214.9 L358.2 215.2 L355.2 215.5 L352.2 215.8 L349.2 216.1 L346.2 216.5 L343.2 216.8 L340.2 217.1 L337.2 217.3 L334.2 217.2 L331.2 217.0 L328.2 216.7 L325.2 216.4 L322.2 216.2 L319.2 215.9 L316.2 215.6 L313.2 215.3 L310.2 215.1 L307.2 214.8 L304.2 214.5 L301.2 214.2 L298.2 214.0 L295.2 213.7 L292.2 213.4 L289.2 213.4 L286.2 213.4 L283.2 213.6 L280.2 213.8 L277.2 214.0 L274.2 214.2 L271.2 214.3 L268.2 214.4 L265.2 214.4 L262.2 214.2 L259.2 214.0 L256.2 213.7 L253.2 213.5 L250.2 213.2 L247.2 213.0 L244.2 212.8 L241.2 212.5 L238.2 212.3 L235.2 212.0 L232.2 211.8 L229.2 211.5 L226.2 211.3 L223.2 211.0 L220.2 210.8 L217.2 210.6 L214.2 210.5 L211.2 210.5 L208.2 210.8 L205.2 211.0 L202.2 211.2 L199.2 211.5 L196.2 211.7 L193.2 211.9 L190.2 212.2 L187.2 212.3 L184.2 212.2 L181.2 212.0 L178.2 211.7 L175.2 211.4 L172.2 211.1 L169.2 210.8 L166.2 210.5 L163.2 210.1 L160.2 209.8 L157.2 209.6 L154.2 209.4 L151.2 209.2 L148.2 209.0 L145.2 208.9 L142.2 208.7 L139.2 208.6 L136.2 208.4 L133.2 208.2 L130.2 208.1 L127.2 208.0Z" fill="url(#g3)"/>
<path d="M127.2 207.0 L130.2 207.1 L133.2 207.2 L136.2 207.4 L139.2 207.6 L142.2 207.7 L145.2 207.9 L148.2 208.0 L151.2 208.2 L154.2 208.4 L157.2 208.6 L160.2 208.8 L163.2 209.1 L166.2 209.5 L169.2 209.8 L172.2 210.1 L175.2 210.4 L178.2 210.7 L181.2 211.0 L184.2 211.2 L187.2 211.3 L190.2 211.2 L193.2 210.9 L196.2 210.7 L199.2 210.5 L202.2 210.2 L205.2 210.0 L208.2 209.8 L211.2 209.5 L214.2 209.5 L217.2 209.6 L220.2 209.8 L223.2 210.0 L226.2 210.3 L229.2 210.5 L232.2 210.8 L235.2 211.0 L238.2 211.3 L241.2 211.5 L244.2 211.8 L247.2 212.0 L250.2 212.2 L253.2 212.5 L256.2 212.7 L259.2 213.0 L262.2 213.2 L265.2 213.4 L268.2 213.4 L271.2 213.3 L274.2 213.2 L277.2 213.0 L280.2 212.8 L283.2 212.6 L286.2 212.4 L289.2 212.4 L292.2 212.4 L295.2 212.7 L298.2 213.0 L301.2 213.2 L304.2 213.5 L307.2 213.8 L310.2 214.1 L313.2 214.3 L316.2 214.6 L319.2 214.9 L322.2 215.2 L325.2 215.4 L328.2 215.7 L331.2 216.0 L334.2 216.2 L337.2 216.3 L340.2 216.1 L343.2 215.8 L346.2 215.5 L349.2 215.1 L352.2 214.8 L355.2 214.5 L358.2 214.2 L361.2 213.9 L364.2 213.5 L367.2 213.2 L370.2 212.9 L373.2 212.7 L376.2 212.6 L379.2 212.7 L382.2 213.0 L385.2 213.2 L388.2 213.4 L391.2 213.6 L394.2 213.8 L397.2 214.1 L400.2 214.3 L403.2 214.5 L406.2 214.7 L409.2 215.0 L412.2 215.2 L415.2 215.2 L418.2 215.1 L421.2 214.9 L424.2 214.6 L427.2 214.4 L430.2 214.1 L433.2 213.9 L436.2 213.6 L439.2 213.4 L442.2 213.1 L445.2 212.9 L448.2 212.7 L451.2 212.7 L454.2 212.9 L457.2 213.2 L460.2 213.6 L463.2 214.0 L466.2 214.4 L469.2 214.6 L472.2 214.8 L475.2 215.1 L478.2 215.3 L481.2 215.5 L484.2 215.7 L487.2 215.8 L490.2 215.8 L493.2 215.6 L496.2 215.3 L499.2 215.1 L502.2 214.8 L505.2 214.6 L508.2 214.3 L511.2 214.0 L514.2 213.8 L517.2 213.5 L520.2 213.3 L523.2 213.1 L526.2 213.0 L529.2 213.1 L532.2 213.4 L535.2 213.6 L538.2 213.9 L541.2 214.2 L544.2 214.5 L547.2 214.8 L550.2 215.0 L553.2 215.3 L556.2 215.6 L559.2 215.9 L562.2 216.1 L565.2 216.3 L568.2 216.3 L571.2 216.2 L574.2 216.0 L577.2 215.9 L580.2 215.8 L583.2 215.7 L586.2 215.6 L589.2 215.4 L592.2 215.3 L595.2 215.2 L598.2 215.1 L601.2 215.0 L604.2 215.1 L607.2 215.4 L610.2 215.7 L613.2 216.1 L616.2 216.4 L619.2 216.8 L622.2 217.1 L625.2 217.5 L628.2 217.8 L631.2 218.2 L634.2 218.5 L637.2 218.9 L640.2 219.1 L641.0 219.2 L641.0 275.1 L640.2 275.0 L637.2 274.7 L634.2 274.3 L631.2 274.0 L628.2 273.6 L625.2 273.2 L622.2 272.8 L619.2 272.4 L616.2 272.1 L613.2 271.7 L610.2 271.3 L607.2 270.9 L604.2 270.5 L601.2 270.3 L598.2 270.3 L595.2 270.5 L592.2 270.8 L589.2 271.1 L586.2 271.4 L583.2 271.7 L580.2 272.0 L577.2 272.3 L574.2 272.6 L571.2 272.9 L568.2 273.2 L565.2 273.2 L562.2 272.9 L559.2 272.4 L556.2 271.9 L553.2 271.3 L550.2 270.8 L547.2 270.2 L544.2 269.6 L541.2 269.1 L538.2 268.5 L535.2 268.0 L532.2 267.5 L529.2 267.3 L526.2 267.3 L523.2 267.6 L520.2 267.8 L517.2 268.1 L514.2 268.4 L511.2 268.6 L508.2 268.9 L505.2 269.1 L502.2 269.4 L499.2 269.6 L496.2 269.8 L493.2 269.8 L490.2 269.7 L487.2 269.5 L484.2 269.3 L481.2 269.1 L478.2 268.9 L475.2 268.7 L472.2 268.4 L469.2 268.2 L466.2 268.0 L463.2 267.7 L460.2 267.4 L457.2 267.2 L454.2 266.9 L451.2 266.8 L448.2 266.9 L445.2 267.1 L442.2 267.4 L439.2 267.7 L436.2 268.0 L433.2 268.3 L430.2 268.6 L427.2 268.8 L424.2 269.1 L421.2 269.4 L418.2 269.7 L415.2 269.8 L412.2 269.7 L409.2 269.4 L406.2 269.1 L403.2 268.8 L400.2 268.5 L397.2 268.2 L394.2 267.9 L391.2 267.6 L388.2 267.3 L385.2 267.0 L382.2 266.7 L379.2 266.6 L376.2 266.7 L373.2 267.0 L370.2 267.4 L367.2 267.7 L364.2 268.0 L361.2 268.4 L358.2 268.7 L355.2 269.0 L352.2 269.4 L349.2 269.7 L346.2 270.0 L343.2 270.4 L340.2 270.7 L337.2 270.8 L334.2 270.8 L331.2 270.5 L328.2 270.2 L325.2 269.9 L322.2 269.5 L319.2 269.2 L316.2 268.9 L313.2 268.5 L310.2 268.2 L307.2 267.9 L304.2 267.6 L301.2 267.2 L298.2 266.9 L295.2 266.6 L292.2 266.3 L289.2 266.1 L286.2 266.2 L283.2 266.3 L280.2 266.4 L277.2 266.5 L274.2 266.6 L271.2 266.7 L268.2 266.8 L265.2 266.7 L262.2 266.4 L259.2 266.1 L256.2 265.8 L253.2 265.5 L250.2 265.1 L247.2 264.8 L244.2 264.5 L241.2 264.2 L238.2 263.9 L235.2 263.6 L232.2 263.2 L229.2 262.9 L226.2 262.6 L223.2 262.3 L220.2 262.0 L217.2 261.7 L214.2 261.4 L211.2 261.3 L208.2 261.3 L205.2 261.5 L202.2 261.7 L199.2 261.9 L196.2 262.1 L193.2 262.3 L190.2 262.4 L187.2 262.2 L184.2 261.8 L181.2 261.3 L178.2 260.7 L175.2 260.2 L172.2 259.6 L169.2 259.1 L166.2 258.5 L163.2 257.9 L160.2 257.4 L157.2 256.8 L154.2 256.3 L151.2 255.8 L148.2 255.4 L145.2 255.2 L142.2 255.0 L139.2 254.8 L136.2 254.7 L133.2 254.5 L130.2 254.3 L127.2 254.2Z" fill="url(#g4)"/>
<path d="M127.2 253.2 L130.2 253.3 L133.2 253.5 L136.2 253.7 L139.2 253.8 L142.2 254.0 L145.2 254.2 L148.2 254.4 L151.2 254.8 L154.2 255.3 L157.2 255.8 L160.2 256.4 L163.2 256.9 L166.2 257.5 L169.2 258.1 L172.2 258.6 L175.2 259.2 L178.2 259.7 L181.2 260.3 L184.2 260.8 L187.2 261.2 L190.2 261.4 L193.2 261.3 L196.2 261.1 L199.2 260.9 L202.2 260.7 L205.2 260.5 L208.2 260.3 L211.2 260.3 L214.2 260.4 L217.2 260.7 L220.2 261.0 L223.2 261.3 L226.2 261.6 L229.2 261.9 L232.2 262.2 L235.2 262.6 L238.2 262.9 L241.2 263.2 L244.2 263.5 L247.2 263.8 L250.2 264.1 L253.2 264.5 L256.2 264.8 L259.2 265.1 L262.2 265.4 L265.2 265.7 L268.2 265.8 L271.2 265.7 L274.2 265.6 L277.2 265.5 L280.2 265.4 L283.2 265.3 L286.2 265.2 L289.2 265.1 L292.2 265.3 L295.2 265.6 L298.2 265.9 L301.2 266.2 L304.2 266.6 L307.2 266.9 L310.2 267.2 L313.2 267.5 L316.2 267.9 L319.2 268.2 L322.2 268.5 L325.2 268.9 L328.2 269.2 L331.2 269.5 L334.2 269.8 L337.2 269.8 L340.2 269.7 L343.2 269.4 L346.2 269.0 L349.2 268.7 L352.2 268.4 L355.2 268.0 L358.2 267.7 L361.2 267.4 L364.2 267.0 L367.2 266.7 L370.2 266.4 L373.2 266.0 L376.2 265.7 L379.2 265.6 L382.2 265.7 L385.2 266.0 L388.2 266.3 L391.2 266.6 L394.2 266.9 L397.2 267.2 L400.2 267.5 L403.2 267.8 L406.2 268.1 L409.2 268.4 L412.2 268.7 L415.2 268.8 L418.2 268.7 L421.2 268.4 L424.2 268.1 L427.2 267.8 L430.2 267.6 L433.2 267.3 L436.2 267.0 L439.2 266.7 L442.2 266.4 L445.2 266.1 L448.2 265.9 L451.2 265.8 L454.2 265.9 L457.2 266.2 L460.2 266.4 L463.2 266.7 L466.2 267.0 L469.2 267.2 L472.2 267.4 L475.2 267.7 L478.2 267.9 L481.2 268.1 L484.2 268.3 L487.2 268.5 L490.2 268.7 L493.2 268.8 L496.2 268.8 L499.2 268.6 L502.2 268.4 L505.2 268.1 L508.2 267.9 L511.2 267.6 L514.2 267.4 L517.2 267.1 L520.2 266.8 L523.2 266.6 L526.2 266.3 L529.2 266.3 L532.2 266.5 L535.2 267.0 L538.2 267.5 L541.2 268.1 L544.2 268.6 L547.2 269.2 L550.2 269.8 L553.2 270.3 L556.2 270.9 L559.2 271.4 L562.2 271.9 L565.2 272.2 L568.2 272.2 L571.2 271.9 L574.2 271.6 L577.2 271.3 L580.2 271.0 L583.2 270.7 L586.2 270.4 L589.2 270.1 L592.2 269.8 L595.2 269.5 L598.2 269.3 L601.2 269.3 L604.2 269.5 L607.2 269.9 L610.2 270.3 L613.2 270.7 L616.2 271.1 L619.2 271.4 L622.2 271.8 L625.2 272.2 L628.2 272.6 L631.2 273.0 L634.2 273.3 L637.2 273.7 L640.2 274.0 L641.0 274.1 L641.0 327.0 L640.2 327.0 L637.2 326.6 L634.2 326.2 L631.2 325.7 L628.2 325.3 L625.2 324.8 L622.2 324.4 L619.2 323.9 L616.2 323.4 L613.2 323.0 L610.2 322.5 L607.2 322.1 L604.2 321.6 L601.2 321.3 L598.2 321.2 L595.2 321.3 L592.2 321.6 L589.2 321.8 L586.2 322.0 L583.2 322.2 L580.2 322.4 L577.2 322.6 L574.2 322.8 L571.2 323.1 L568.2 323.3 L565.2 323.3 L562.2 323.0 L559.2 322.6 L556.2 322.2 L553.2 321.7 L550.2 321.3 L547.2 320.8 L544.2 320.4 L541.2 319.9 L538.2 319.5 L535.2 319.0 L532.2 318.6 L529.2 318.1 L526.2 317.8 L523.2 317.8 L520.2 318.0 L517.2 318.3 L514.2 318.6 L511.2 318.9 L508.2 319.2 L505.2 319.5 L502.2 319.8 L499.2 320.1 L496.2 320.4 L493.2 320.7 L490.2 320.8 L487.2 320.8 L484.2 320.7 L481.2 320.5 L478.2 320.4 L475.2 320.2 L472.2 320.0 L469.2 319.7 L466.2 319.3 L463.2 318.9 L460.2 318.5 L457.2 318.0 L454.2 317.6 L451.2 317.4 L448.2 317.4 L445.2 317.7 L442.2 318.0 L439.2 318.3 L436.2 318.7 L433.2 319.0 L430.2 319.3 L427.2 319.6 L424.2 319.9 L421.2 320.2 L418.2 320.5 L415.2 320.6 L412.2 320.5 L409.2 320.2 L406.2 319.8 L403.2 319.5 L400.2 319.1 L397.2 318.7 L394.2 318.4 L391.2 318.0 L388.2 317.6 L385.2 317.3 L382.2 316.9 L379.2 316.5 L376.2 316.3 L373.2 316.4 L370.2 316.7 L367.2 317.1 L364.2 317.6 L361.2 318.0 L358.2 318.4 L355.2 318.9 L352.2 319.3 L349.2 319.8 L346.2 320.2 L343.2 320.6 L340.2 321.1 L337.2 321.3 L334.2 321.2 L331.2 320.8 L328.2 320.3 L325.2 319.9 L322.2 319.4 L319.2 318.9 L316.2 318.5 L313.2 318.0 L310.2 317.6 L307.2 317.1 L304.2 316.7 L301.2 316.2 L298.2 315.7 L295.2 315.3 L292.2 314.9 L289.2 314.6 L286.2 314.5 L283.2 314.4 L280.2 314.4 L277.2 314.3 L274.2 314.3 L271.2 314.3 L268.2 314.2 L265.2 314.2 L262.2 314.1 L259.2 313.9 L256.2 313.3 L253.2 312.5 L250.2 311.6 L247.2 310.7 L244.2 309.7 L241.2 308.8 L238.2 307.9 L235.2 307.0 L232.2 306.1 L229.2 305.3 L226.2 304.6 L223.2 304.0 L220.2 303.4 L217.2 302.8 L214.2 302.3 L211.2 301.8 L208.2 301.6 L205.2 301.7 L202.2 301.9 L199.2 302.0 L196.2 302.0 L193.2 301.7 L190.2 301.1 L187.2 300.3 L184.2 299.5 L181.2 298.7 L178.2 298.0 L175.2 297.2 L172.2 296.4 L169.2 295.6 L166.2 294.8 L163.2 294.0 L160.2 293.2 L157.2 292.5 L154.2 291.7 L151.2 291.0 L148.2 290.3 L145.2 289.7 L142.2 289.0 L139.2 288.4 L136.2 287.8 L133.2 287.1 L130.2 286.5 L127.2 285.9Z" fill="url(#g5)"/>
<path d="M127.2 284.9 L130.2 285.5 L133.2 286.1 L136.2 286.8 L139.2 287.4 L142.2 288.0 L145.2 288.7 L148.2 289.3 L151.2 290.0 L154.2 290.7 L157.2 291.5 L160.2 292.2 L163.2 293.0 L166.2 293.8 L169.2 294.6 L172.2 295.4 L175.2 296.2 L178.2 297.0 L181.2 297.7 L184.2 298.5 L187.2 299.3 L190.2 300.1 L193.2 300.7 L196.2 301.0 L199.2 301.0 L202.2 300.9 L205.2 300.7 L208.2 300.6 L211.2 300.8 L214.2 301.3 L217.2 301.8 L220.2 302.4 L223.2 303.0 L226.2 303.6 L229.2 304.3 L232.2 305.1 L235.2 306.0 L238.2 306.9 L241.2 307.8 L244.2 308.7 L247.2 309.7 L250.2 310.6 L253.2 311.5 L256.2 312.3 L259.2 312.9 L262.2 313.1 L265.2 313.2 L268.2 313.2 L271.2 313.3 L274.2 313.3 L277.2 313.3 L280.2 313.4 L283.2 313.4 L286.2 313.5 L289.2 313.6 L292.2 313.9 L295.2 314.3 L298.2 314.7 L301.2 315.2 L304.2 315.7 L307.2 316.1 L310.2 316.6 L313.2 317.0 L316.2 317.5 L319.2 317.9 L322.2 318.4 L325.2 318.9 L328.2 319.3 L331.2 319.8 L334.2 320.2 L337.2 320.3 L340.2 320.1 L343.2 319.6 L346.2 319.2 L349.2 318.8 L352.2 318.3 L355.2 317.9 L358.2 317.4 L361.2 317.0 L364.2 316.6 L367.2 316.1 L370.2 315.7 L373.2 315.4 L376.2 315.3 L379.2 315.5 L382.2 315.9 L385.2 316.3 L388.2 316.6 L391.2 317.0 L394.2 317.4 L397.2 317.7 L400.2 318.1 L403.2 318.5 L406.2 318.8 L409.2 319.2 L412.2 319.5 L415.2 319.6 L418.2 319.5 L421.2 319.2 L424.2 318.9 L427.2 318.6 L430.2 318.3 L433.2 318.0 L436.2 317.7 L439.2 317.3 L442.2 317.0 L445.2 316.7 L448.2 316.4 L451.2 316.4 L454.2 316.6 L457.2 317.0 L460.2 317.5 L463.2 317.9 L466.2 318.3 L469.2 318.7 L472.2 319.0 L475.2 319.2 L478.2 319.4 L481.2 319.5 L484.2 319.7 L487.2 319.8 L490.2 319.8 L493.2 319.7 L496.2 319.4 L499.2 319.1 L502.2 318.8 L505.2 318.5 L508.2 318.2 L511.2 317.9 L514.2 317.6 L517.2 317.3 L520.2 317.0 L523.2 316.8 L526.2 316.8 L529.2 317.1 L532.2 317.6 L535.2 318.0 L538.2 318.5 L541.2 318.9 L544.2 319.4 L547.2 319.8 L550.2 320.3 L553.2 320.7 L556.2 321.2 L559.2 321.6 L562.2 322.0 L565.2 322.3 L568.2 322.3 L571.2 322.1 L574.2 321.8 L577.2 321.6 L580.2 321.4 L583.2 321.2 L586.2 321.0 L589.2 320.8 L592.2 320.6 L595.2 320.3 L598.2 320.2 L601.2 320.3 L604.2 320.6 L607.2 321.1 L610.2 321.5 L613.2 322.0 L616.2 322.4 L619.2 322.9 L622.2 323.4 L625.2 323.8 L628.2 324.3 L631.2 324.7 L634.2 325.2 L637.2 325.6 L640.2 326.0 L641.0 326.0 L641.0 392.6 L639.7 392.4 L636.7 392.0 L633.7 391.4 L630.7 390.8 L627.7 390.3 L624.7 389.7 L621.7 389.1 L618.7 388.5 L615.7 388.0 L612.7 387.4 L609.7 386.8 L606.7 386.2 L603.7 385.7 L600.7 385.4 L597.7 385.4 L594.7 385.6 L591.7 385.8 L588.7 386.1 L585.7 386.3 L582.7 386.6 L579.7 386.8 L576.7 387.1 L573.7 387.3 L570.7 387.6 L567.7 387.8 L564.7 387.8 L561.7 387.5 L558.7 387.0 L555.7 386.4 L552.7 385.9 L549.7 385.3 L546.7 384.7 L543.7 384.2 L540.7 383.6 L537.7 383.0 L534.7 382.4 L531.7 381.9 L528.7 381.4 L525.7 381.2 L522.7 381.3 L519.7 381.6 L516.7 382.0 L513.7 382.3 L510.7 382.6 L507.7 383.0 L504.7 383.3 L501.7 383.6 L498.7 384.0 L495.7 384.3 L492.7 384.6 L489.7 384.8 L486.7 384.7 L483.7 384.3 L480.7 383.9 L477.7 383.4 L474.7 382.9 L471.7 382.4 L468.7 381.9 L465.7 381.3 L462.7 380.6 L459.7 380.0 L456.7 379.6 L453.7 379.6 L450.7 379.6 L447.7 379.6 L444.7 379.6 L441.7 379.6 L438.7 379.7 L435.7 380.0 L432.7 380.3 L429.7 380.7 L426.7 381.0 L423.7 381.4 L420.7 381.7 L417.7 381.9 L414.7 382.0 L411.7 382.1 L408.7 382.0 L405.7 381.6 L402.7 380.9 L399.7 380.2 L396.7 379.5 L393.7 378.8 L390.7 378.1 L387.7 377.4 L384.7 376.6 L381.7 376.0 L378.7 375.4 L375.7 375.0 L372.7 374.8 L369.7 374.5 L366.7 374.2 L363.7 374.0 L360.7 373.7 L357.7 373.5 L354.7 373.3 L354.7 372.5 L352.7 373.1 L350.7 372.1 L348.7 372.9 L346.7 373.8 L344.7 374.9 L342.7 375.6 L340.7 376.3 L338.7 376.4 L336.7 375.3 L334.7 374.3 L332.7 374.6 L330.7 374.7 L328.7 374.6 L326.7 373.8 L324.7 373.1 L322.7 371.4 L320.7 370.4 L318.7 369.8 L316.7 368.4 L314.7 367.9 L312.7 367.6 L310.7 366.6 L308.7 366.2 L306.7 365.8 L304.7 364.7 L302.7 364.6 L300.7 364.2 L298.7 363.8 L296.7 362.2 L294.7 362.4 L292.7 361.6 L290.7 361.3 L288.7 361.1 L286.7 359.3 L284.7 359.3 L282.7 358.1 L280.7 357.5 L278.7 357.0 L276.7 356.5 L274.7 355.7 L272.7 355.1 L270.7 355.4 L268.7 354.6 L266.7 354.4 L264.7 353.8 L262.7 353.2 L260.7 351.9 L258.7 352.5 L256.7 350.7 L254.7 349.8 L252.7 349.8 L250.7 349.0 L248.7 348.7 L246.7 347.7 L244.7 347.6 L242.7 346.5 L240.7 346.3 L238.7 345.7 L236.7 345.2 L234.7 344.5 L232.7 343.3 L230.7 342.8 L228.7 341.4 L226.7 341.3 L224.7 339.9 L222.7 339.0 L220.7 338.5 L218.7 337.3 L216.7 336.4 L214.7 336.0 L212.7 335.6 L210.7 334.0 L208.7 332.8 L206.7 332.1 L204.7 331.8 L202.7 331.2 L200.7 330.6 L198.7 330.6 L196.7 330.8 L194.7 330.7 L192.7 329.6 L190.7 329.9 L188.7 330.4 L186.7 330.2 L184.7 329.5 L182.7 329.5 L180.7 328.8 L178.7 327.3 L176.7 326.3 L174.7 325.7 L172.7 325.7 L170.7 324.5 L168.7 322.9 L166.7 322.2 L164.7 321.4 L162.7 319.5 L160.7 318.5 L158.7 317.0 L156.7 316.2 L154.7 314.2 L152.7 313.9 L150.7 312.8 L148.7 311.0 L146.7 310.4 L144.7 308.9 L142.7 307.0 L140.7 306.5 L138.7 304.6 L136.7 303.7 L134.7 302.3 L132.7 302.2 L130.7 300.6 L128.7 298.4 L127.2 298.1Z" fill="url(#g6)"/>
<path d="M354.7 372.3 L357.7 372.5 L360.7 372.7 L363.7 373.0 L366.7 373.2 L369.7 373.5 L372.7 373.8 L375.7 374.0 L378.7 374.4 L381.7 375.0 L384.7 375.6 L387.7 376.4 L390.7 377.1 L393.7 377.8 L396.7 378.5 L399.7 379.2 L402.7 379.9 L405.7 380.6 L408.7 381.0 L411.7 381.1 L414.7 381.0 L417.7 380.9 L420.7 380.7 L423.7 380.4 L426.7 380.0 L429.7 379.7 L432.7 379.3 L435.7 379.0 L438.7 378.7 L441.7 378.6 L444.7 378.6 L447.7 378.6 L450.7 378.6 L453.7 378.6 L456.7 378.6 L459.7 379.0 L462.7 379.6 L465.7 380.3 L468.7 380.9 L471.7 381.4 L474.7 381.9 L477.7 382.4 L480.7 382.9 L483.7 383.3 L486.7 383.7 L489.7 383.8 L492.7 383.6 L495.7 383.3 L498.7 383.0 L501.7 382.6 L504.7 382.3 L507.7 382.0 L510.7 381.6 L513.7 381.3 L516.7 381.0 L519.7 380.6 L522.7 380.3 L525.7 380.2 L528.7 380.4 L531.7 380.9 L534.7 381.4 L537.7 382.0 L540.7 382.6 L543.7 383.2 L546.7 383.7 L549.7 384.3 L552.7 384.9 L555.7 385.4 L558.7 386.0 L561.7 386.5 L564.7 386.8 L567.7 386.8 L570.7 386.6 L573.7 386.3 L576.7 386.1 L579.7 385.8 L582.7 385.6 L585.7 385.3 L588.7 385.1 L591.7 384.8 L594.7 384.6 L597.7 384.4 L600.7 384.4 L603.7 384.7 L606.7 385.2 L609.7 385.8 L612.7 386.4 L615.7 387.0 L618.7 387.5 L621.7 388.1 L624.7 388.7 L627.7 389.3 L630.7 389.8 L633.7 390.4 L636.7 391.0 L639.7 391.4 L641.0 391.6 L641.0 461.0 L639.7 460.9 L636.7 460.4 L633.7 459.9 L630.7 459.4 L627.7 458.8 L624.7 458.3 L621.7 457.8 L618.7 457.2 L615.7 456.7 L612.7 456.2 L609.7 455.6 L606.7 455.1 L603.7 454.7 L600.7 454.6 L597.7 454.8 L594.7 455.0 L591.7 455.2 L588.7 455.4 L585.7 455.7 L582.7 455.9 L579.7 456.1 L576.7 456.3 L573.7 456.5 L570.7 456.8 L567.7 456.9 L564.7 456.9 L561.7 456.5 L558.7 455.9 L555.7 455.3 L552.7 454.7 L549.7 454.0 L546.7 453.4 L543.7 452.8 L540.7 452.1 L537.7 451.5 L534.7 450.8 L531.7 450.2 L528.7 449.6 L525.7 449.3 L522.7 449.2 L519.7 449.3 L516.7 449.4 L513.7 449.5 L510.7 449.6 L507.7 449.7 L504.7 449.8 L501.7 449.9 L498.7 449.9 L495.7 450.0 L492.7 450.1 L489.7 449.8 L486.7 449.3 L483.7 448.5 L480.7 447.8 L477.7 447.0 L474.7 446.2 L471.7 445.5 L468.7 444.7 L465.7 443.9 L462.7 443.0 L459.7 441.9 L456.7 440.9 L453.7 439.8 L450.7 438.9 L447.7 438.2 L444.7 437.5 L441.7 436.9 L438.7 436.2 L435.7 435.5 L432.7 434.9 L429.7 434.7 L426.7 434.7 L423.7 434.9 L420.7 434.8 L417.7 434.2 L414.7 433.3 L411.7 432.5 L408.7 431.6 L405.7 430.7 L402.7 429.9 L399.7 429.0 L396.7 427.9 L393.7 426.7 L390.7 425.2 L387.7 423.7 L384.7 422.2 L381.7 420.8 L378.7 419.5 L375.7 418.5 L372.7 417.7 L369.7 416.8 L366.7 416.0 L363.7 415.2 L360.7 414.4 L357.7 413.6 L354.7 413.0Z" fill="url(#g7)"/>
<path d="M354.7 412.0 L357.7 412.6 L360.7 413.4 L363.7 414.2 L366.7 415.0 L369.7 415.8 L372.7 416.7 L375.7 417.5 L378.7 418.5 L381.7 419.8 L384.7 421.2 L387.7 422.7 L390.7 424.2 L393.7 425.7 L396.7 426.9 L399.7 428.0 L402.7 428.9 L405.7 429.7 L408.7 430.6 L411.7 431.5 L414.7 432.3 L417.7 433.2 L420.7 433.8 L423.7 433.9 L426.7 433.7 L429.7 433.7 L432.7 433.9 L435.7 434.5 L438.7 435.2 L441.7 435.9 L444.7 436.5 L447.7 437.2 L450.7 437.9 L453.7 438.8 L456.7 439.9 L459.7 440.9 L462.7 442.0 L465.7 442.9 L468.7 443.7 L471.7 444.5 L474.7 445.2 L477.7 446.0 L480.7 446.8 L483.7 447.5 L486.7 448.3 L489.7 448.8 L492.7 449.1 L495.7 449.0 L498.7 448.9 L501.7 448.9 L504.7 448.8 L507.7 448.7 L510.7 448.6 L513.7 448.5 L516.7 448.4 L519.7 448.3 L522.7 448.2 L525.7 448.3 L528.7 448.6 L531.7 449.2 L534.7 449.8 L537.7 450.5 L540.7 451.1 L543.7 451.8 L546.7 452.4 L549.7 453.0 L552.7 453.7 L555.7 454.3 L558.7 454.9 L561.7 455.5 L564.7 455.9 L567.7 455.9 L570.7 455.8 L573.7 455.5 L576.7 455.3 L579.7 455.1 L582.7 454.9 L585.7 454.7 L588.7 454.4 L591.7 454.2 L594.7 454.0 L597.7 453.8 L600.7 453.6 L603.7 453.7 L606.7 454.1 L609.7 454.6 L612.7 455.2 L615.7 455.7 L618.7 456.2 L621.7 456.8 L624.7 457.3 L627.7 457.8 L630.7 458.4 L633.7 458.9 L636.7 459.4 L639.7 459.9 L641.0 460.0 L641.0 538.1 L640.7 539.4 L638.7 538.6 L636.7 538.6 L634.7 538.2 L632.7 536.8 L630.7 536.4 L628.7 537.0 L626.7 535.3 L624.7 535.0 L622.7 534.0 L620.7 533.6 L618.7 533.7 L616.7 532.4 L614.7 531.0 L612.7 531.4 L610.7 530.1 L608.7 529.3 L606.7 528.9 L604.7 528.3 L602.7 528.4 L600.7 529.1 L598.7 528.5 L596.7 528.1 L594.7 527.8 L592.7 527.6 L590.7 527.4 L588.7 527.5 L586.7 527.2 L584.7 526.8 L582.7 526.5 L580.7 525.8 L578.7 526.2 L576.7 527.1 L574.7 526.4 L572.7 527.2 L570.7 527.2 L568.7 526.2 L566.7 525.9 L564.7 526.2 L562.7 525.4 L560.7 524.5 L558.7 523.8 L556.7 524.5 L554.7 524.3 L552.7 522.8 L550.7 522.6 L548.7 521.2 L546.7 521.7 L544.7 520.3 L542.7 519.4 L540.7 518.7 L538.7 516.9 L536.7 515.0 L534.7 515.0 L532.7 512.4 L530.7 511.8 L528.7 511.7 L526.7 510.1 L524.7 509.2 L522.7 508.0 L520.7 507.8 L518.7 507.9 L516.7 506.1 L514.7 506.8 L512.7 506.1 L510.7 504.9 L508.7 504.1 L506.7 503.8 L504.7 502.7 L502.7 502.9 L500.7 501.5 L498.7 501.1 L496.7 500.3 L494.7 499.5 L492.7 500.2 L490.7 499.2 L488.7 497.8 L486.7 497.7 L484.7 496.6 L482.7 497.0 L480.7 496.4 L478.7 495.6 L476.7 494.6 L474.7 493.6 L472.7 492.7 L470.7 492.3 L468.7 491.2 L466.7 490.7 L464.7 488.2 L462.7 486.5 L460.7 484.8 L458.7 483.1 L456.7 482.4 L454.7 481.6 L452.7 480.0 L450.7 479.2 L448.7 477.2 L446.7 476.9 L444.7 474.7 L442.7 472.3 L440.7 471.9 L438.7 469.7 L436.7 467.6 L434.7 465.3 L432.7 465.5 L430.7 464.6 L428.7 464.5 L426.7 463.8 L424.7 464.9 L422.7 464.0 L420.7 465.0 L418.7 464.5 L416.7 463.2 L414.7 462.3 L412.7 462.0 L410.7 462.6 L408.7 462.0 L406.7 460.1 L404.7 459.5 L402.7 459.1 L400.7 458.1 L398.7 457.0 L396.7 455.7 L394.7 454.7 L392.7 453.2 L390.7 451.8 L388.7 449.8 L386.7 448.6 L384.7 447.0 L382.7 446.6 L380.7 444.1 L378.7 443.2 L376.7 442.4 L374.7 440.1 L372.7 439.0 L370.7 438.0 L368.7 437.2 L366.7 436.4 L364.7 434.9 L362.7 433.1 L360.7 431.8 L358.7 428.4 L356.7 427.4 L354.7 424.7Z" fill="url(#g8)"/>
<path d="M122.7 294.8 L124.7 295.8 L126.7 296.5 L128.7 298.4 L130.7 300.6 L132.7 302.2 L134.7 302.3 L136.7 303.7 L138.7 304.6 L140.7 306.5 L142.7 307.0 L144.7 308.9 L146.7 310.4 L148.7 311.0 L150.7 312.8 L152.7 313.9 L154.7 314.2 L156.7 316.2 L158.7 317.0 L160.7 318.5 L162.7 319.5 L164.7 321.4 L166.7 322.2 L168.7 322.9 L170.7 324.5 L172.7 325.7 L174.7 325.7 L176.7 326.3 L178.7 327.3 L180.7 328.8 L182.7 329.5 L184.7 329.5 L186.7 330.2 L188.7 330.4 L190.7 329.9 L192.7 329.6 L194.7 330.7 L196.7 330.8 L198.7 330.6 L200.7 330.6 L202.7 331.2 L204.7 331.8 L206.7 332.1 L208.7 332.8 L210.7 334.0 L212.7 335.6 L214.7 336.0 L216.7 336.4 L218.7 337.3 L220.7 338.5 L222.7 339.0 L224.7 339.9 L226.7 341.3 L228.7 341.4 L230.7 342.8 L232.7 343.3 L234.7 344.5 L236.7 345.2 L238.7 345.7 L240.7 346.3 L242.7 346.5 L244.7 347.6 L246.7 347.7 L248.7 348.7 L250.7 349.0 L252.7 349.8 L254.7 349.8 L256.7 350.7 L258.7 352.5 L260.7 351.9 L262.7 353.2 L264.7 353.8 L266.7 354.4 L268.7 354.6 L270.7 355.4 L272.7 355.1 L274.7 355.7 L276.7 356.5 L278.7 357.0 L280.7 357.5 L282.7 358.1 L284.7 359.3 L286.7 359.3 L288.7 361.1 L290.7 361.3 L292.7 361.6 L294.7 362.4 L296.7 362.2 L298.7 363.8 L300.7 364.2 L302.7 364.6 L304.7 364.7 L306.7 365.8 L308.7 366.2 L310.7 366.6 L312.7 367.6 L314.7 367.9 L316.7 368.4 L318.7 369.8 L320.7 370.4 L322.7 371.4 L324.7 373.1 L326.7 373.8 L328.7 374.6 L330.7 374.7 L332.7 374.6 L334.7 374.3 L336.7 375.3 L338.7 376.4 L340.7 376.3 L342.7 375.6 L344.7 374.9 L346.7 373.8 L348.7 372.9 L350.7 372.1 L352.7 373.1 L354.7 372.5" fill="none" stroke="#fff" stroke-width="1.9" stroke-linejoin="round"/>
<path d="M354.7 424.7 L356.7 427.4 L358.7 428.4 L360.7 431.8 L362.7 433.1 L364.7 434.9 L366.7 436.4 L368.7 437.2 L370.7 438.0 L372.7 439.0 L374.7 440.1 L376.7 442.4 L378.7 443.2 L380.7 444.1 L382.7 446.6 L384.7 447.0 L386.7 448.6 L388.7 449.8 L390.7 451.8 L392.7 453.2 L394.7 454.7 L396.7 455.7 L398.7 457.0 L400.7 458.1 L402.7 459.1 L404.7 459.5 L406.7 460.1 L408.7 462.0 L410.7 462.6 L412.7 462.0 L414.7 462.3 L416.7 463.2 L418.7 464.5 L420.7 465.0 L422.7 464.0 L424.7 464.9 L426.7 463.8 L428.7 464.5 L430.7 464.6 L432.7 465.5 L434.7 465.3 L436.7 467.6 L438.7 469.7 L440.7 471.9 L442.7 472.3 L444.7 474.7 L446.7 476.9 L448.7 477.2 L450.7 479.2 L452.7 480.0 L454.7 481.6 L456.7 482.4 L458.7 483.1 L460.7 484.8 L462.7 486.5 L464.7 488.2 L466.7 490.7 L468.7 491.2 L470.7 492.3 L472.7 492.7 L474.7 493.6 L476.7 494.6 L478.7 495.6 L480.7 496.4 L482.7 497.0 L484.7 496.6 L486.7 497.7 L488.7 497.8 L490.7 499.2 L492.7 500.2 L494.7 499.5 L496.7 500.3 L498.7 501.1 L500.7 501.5 L502.7 502.9 L504.7 502.7 L506.7 503.8 L508.7 504.1 L510.7 504.9 L512.7 506.1 L514.7 506.8 L516.7 506.1 L518.7 507.9 L520.7 507.8 L522.7 508.0 L524.7 509.2 L526.7 510.1 L528.7 511.7 L530.7 511.8 L532.7 512.4 L534.7 515.0 L536.7 515.0 L538.7 516.9 L540.7 518.7 L542.7 519.4 L544.7 520.3 L546.7 521.7 L548.7 521.2 L550.7 522.6 L552.7 522.8 L554.7 524.3 L556.7 524.5 L558.7 523.8 L560.7 524.5 L562.7 525.4 L564.7 526.2 L566.7 525.9 L568.7 526.2 L570.7 527.2 L572.7 527.2 L574.7 526.4 L576.7 527.1 L578.7 526.2 L580.7 525.8 L582.7 526.5 L584.7 526.8 L586.7 527.2 L588.7 527.5 L590.7 527.4 L592.7 527.6 L594.7 527.8 L596.7 528.1 L598.7 528.5 L600.7 529.1 L602.7 528.4 L604.7 528.3 L606.7 528.9 L608.7 529.3 L610.7 530.1 L612.7 531.4 L614.7 531.0 L616.7 532.4 L618.7 533.7 L620.7 533.6 L622.7 534.0 L624.7 535.0 L626.7 535.3 L628.7 537.0 L630.7 536.4 L632.7 536.8 L634.7 538.2 L636.7 538.6 L638.7 538.6 L640.7 539.4 L641.0 538.1" fill="none" stroke="#fff" stroke-width="1.9" stroke-linejoin="round"/>
<path d="M346.2 433.3 Q351 430 353.8 423.7 M346.2 413.1 Q350 411.5 354.7 411.7 M118.9 301 Q120 296 123 294 M118.9 285.8 Q122 283.2 128.5 285.4" fill="none" stroke="#fff" stroke-width="1.7"/>
<path d="M127 71.8 H641" fill="none" stroke="#fff" stroke-width="1.3" stroke-dasharray="13 6.5" opacity="0.95"/>
<path d="M118.5 90.9 L121.5 90.9 L124.5 90.9 L127.5 90.9 L130.5 90.9 L133.5 90.9 L136.5 90.9 L139.5 90.9 L142.5 90.9 L145.5 90.9 L148.5 90.9 L151.5 90.9 L154.5 90.9 L157.5 90.9 L160.5 90.9 L163.5 90.9 L166.5 90.9 L169.5 90.9 L172.5 90.9 L175.5 90.9 L178.5 90.9 L181.5 90.9 L184.5 90.9 L187.5 90.9 L190.5 90.9 L193.5 90.9 L196.5 90.9 L199.5 90.9 L202.5 90.9 L205.5 91.0 L208.5 91.0 L211.5 91.0 L214.5 91.0 L217.5 91.0 L220.5 91.0 L223.5 91.0 L226.5 91.0 L229.5 91.0 L232.5 91.0 L235.5 91.0 L238.5 91.0 L241.5 91.0 L244.5 91.0 L247.5 91.0 L250.5 91.0 L253.5 91.0 L256.5 91.0 L259.5 91.0 L262.5 91.0 L265.5 91.0 L268.5 91.0 L271.5 91.0 L274.5 91.0 L277.5 91.0 L280.5 91.0 L283.5 91.0 L286.5 91.0 L289.5 91.0 L292.5 91.0 L295.5 91.0 L298.5 91.0 L301.5 91.0 L304.5 91.1 L307.5 91.1 L310.5 91.1 L313.5 91.1 L316.5 91.1 L319.5 91.1 L322.5 91.1 L325.5 91.1 L328.5 91.1 L331.5 91.2 L334.5 91.2 L337.5 91.2 L340.5 91.2 L343.5 91.2 L346.5 91.2 L349.5 91.2 L352.5 91.2 L355.5 91.2 L358.5 91.2 L361.5 91.3 L364.5 91.3 L367.5 91.3 L370.5 91.3 L373.5 91.3 L376.5 91.3 L379.5 91.3 L382.5 91.3 L385.5 91.3 L388.5 91.4 L391.5 91.4 L394.5 91.4 L397.5 91.4 L400.5 91.4 L403.5 91.4 L406.5 91.4 L409.5 91.4 L412.5 91.4 L415.5 91.4 L418.5 91.4 L421.5 91.4 L424.5 91.4 L427.5 91.4 L430.5 91.4 L433.5 91.4 L436.5 91.4 L439.5 91.4 L442.5 91.4 L445.5 91.4 L448.5 91.4 L451.5 91.4 L454.5 91.4 L457.5 91.4 L460.5 91.5 L463.5 91.5 L466.5 91.5 L469.5 91.5 L472.5 91.5 L475.5 91.5 L478.5 91.5 L481.5 91.5 L484.5 91.5 L487.5 91.5 L490.5 91.5 L493.5 91.5 L496.5 91.5 L499.5 91.5 L502.5 91.5 L505.5 91.5 L508.5 91.5 L511.5 91.5 L514.5 91.5 L517.5 91.5 L520.5 91.5 L523.5 91.5 L526.5 91.5 L529.5 91.5 L532.5 91.5 L535.5 91.5 L538.5 91.5 L541.5 91.5 L544.5 91.5 L547.5 91.5 L550.5 91.5 L553.5 91.5 L556.5 91.5 L559.5 91.5 L562.5 91.5 L565.5 91.5 L568.5 91.5 L571.5 91.5 L574.5 91.5 L577.5 91.5 L580.5 91.5 L583.5 91.6 L586.5 91.6 L589.5 91.6 L592.5 91.6 L595.5 91.6 L598.5 91.6 L601.5 91.6 L604.5 91.6 L607.5 91.6 L610.5 91.6 L613.5 91.6 L616.5 91.6 L619.5 91.6 L622.5 91.6 L625.5 91.6 L628.5 91.6 L631.5 91.6 L634.5 91.6 L637.5 91.6 L640.5 91.6" fill="none" stroke="#fff" stroke-width="2.0" stroke-dasharray="10.5 4.5" stroke-dashoffset="0.0"/>
<path d="M118.5 128.0 L121.5 128.0 L124.5 128.0 L127.5 128.0 L130.5 128.0 L133.5 128.0 L136.5 128.0 L139.5 128.0 L142.5 128.0 L145.5 128.0 L148.5 128.0 L151.5 128.0 L154.5 128.0 L157.5 128.0 L160.5 128.1 L163.5 128.2 L166.5 128.4 L169.5 128.6 L172.5 128.8 L175.5 129.1 L178.5 129.3 L181.5 129.5 L184.5 129.7 L187.5 129.8 L190.5 129.8 L193.5 129.6 L196.5 129.5 L199.5 129.4 L202.5 129.2 L205.5 129.1 L208.5 128.9 L211.5 128.8 L214.5 128.7 L217.5 128.5 L220.5 128.5 L223.5 128.6 L226.5 128.7 L229.5 128.9 L232.5 129.0 L235.5 129.2 L238.5 129.3 L241.5 129.5 L244.5 129.6 L247.5 129.7 L250.5 129.9 L253.5 130.0 L256.5 130.2 L259.5 130.3 L262.5 130.5 L265.5 130.6 L268.5 130.6 L271.5 130.6 L274.5 130.5 L277.5 130.4 L280.5 130.3 L283.5 130.2 L286.5 130.1 L289.5 130.1 L292.5 130.1 L295.5 130.2 L298.5 130.4 L301.5 130.5 L304.5 130.6 L307.5 130.8 L310.5 130.9 L313.5 131.0 L316.5 131.2 L319.5 131.3 L322.5 131.4 L325.5 131.5 L328.5 131.7 L331.5 131.8 L334.5 131.9 L337.5 131.9 L340.5 131.7 L343.5 131.5 L346.5 131.4 L349.5 131.2 L352.5 131.0 L355.5 130.8 L358.5 130.6 L361.5 130.4 L364.5 130.2 L367.5 130.1 L370.5 129.9 L373.5 129.7 L376.5 129.7 L379.5 129.8 L382.5 129.9 L385.5 130.0 L388.5 130.2 L391.5 130.3 L394.5 130.4 L397.5 130.6 L400.5 130.7 L403.5 130.8 L406.5 130.9 L409.5 131.1 L412.5 131.2 L415.5 131.2 L418.5 131.1 L421.5 131.0 L424.5 130.9 L427.5 130.8 L430.5 130.7 L433.5 130.5 L436.5 130.4 L439.5 130.3 L442.5 130.2 L445.5 130.0 L448.5 129.9 L451.5 129.9 L454.5 129.9 L457.5 129.9 L460.5 130.0 L463.5 130.1 L466.5 130.1 L469.5 130.2 L472.5 130.4 L475.5 130.5 L478.5 130.7 L481.5 130.9 L484.5 131.1 L487.5 131.1 L490.5 131.0 L493.5 130.9 L496.5 130.8 L499.5 130.7 L502.5 130.6 L505.5 130.5 L508.5 130.3 L511.5 130.2 L514.5 130.1 L517.5 130.0 L520.5 129.9 L523.5 129.8 L526.5 129.7 L529.5 129.6 L532.5 129.7 L535.5 129.8 L538.5 130.0 L541.5 130.2 L544.5 130.4 L547.5 130.6 L550.5 130.8 L553.5 131.0 L556.5 131.2 L559.5 131.4 L562.5 131.6 L565.5 131.7 L568.5 131.6 L571.5 131.5 L574.5 131.4 L577.5 131.2 L580.5 131.1 L583.5 130.9 L586.5 130.8 L589.5 130.6 L592.5 130.5 L595.5 130.4 L598.5 130.2 L601.5 130.2 L604.5 130.3 L607.5 130.5 L610.5 130.7 L613.5 130.9 L616.5 131.1 L619.5 131.2 L622.5 131.4 L625.5 131.6 L628.5 131.8 L631.5 132.0 L634.5 132.2 L637.5 132.3 L640.5 132.4" fill="none" stroke="#fff" stroke-width="2.0" stroke-dasharray="10.5 5.8" stroke-dashoffset="6.0"/>
<path d="M118.5 167.0 L121.5 167.0 L124.5 167.0 L127.5 166.9 L130.5 166.9 L133.5 166.9 L136.5 166.9 L139.5 166.9 L142.5 166.9 L145.5 166.8 L148.5 166.8 L151.5 166.9 L154.5 167.0 L157.5 167.3 L160.5 167.5 L163.5 167.8 L166.5 168.0 L169.5 168.3 L172.5 168.5 L175.5 168.8 L178.5 169.0 L181.5 169.1 L184.5 169.1 L187.5 168.9 L190.5 168.7 L193.5 168.5 L196.5 168.3 L199.5 168.1 L202.5 167.9 L205.5 167.7 L208.5 167.4 L211.5 167.3 L214.5 167.2 L217.5 167.2 L220.5 167.2 L223.5 167.2 L226.5 167.2 L229.5 167.3 L232.5 167.6 L235.5 167.9 L238.5 168.2 L241.5 168.5 L244.5 168.8 L247.5 169.2 L250.5 169.5 L253.5 169.8 L256.5 170.1 L259.5 170.4 L262.5 170.6 L265.5 170.6 L268.5 170.5 L271.5 170.4 L274.5 170.2 L277.5 170.1 L280.5 170.0 L283.5 169.8 L286.5 169.7 L289.5 169.6 L292.5 169.7 L295.5 169.8 L298.5 170.0 L301.5 170.2 L304.5 170.4 L307.5 170.6 L310.5 170.7 L313.5 170.9 L316.5 171.1 L319.5 171.3 L322.5 171.5 L325.5 171.7 L328.5 171.8 L331.5 172.0 L334.5 172.1 L337.5 172.1 L340.5 171.9 L343.5 171.7 L346.5 171.4 L349.5 171.2 L352.5 170.9 L355.5 170.6 L358.5 170.4 L361.5 170.1 L364.5 169.9 L367.5 169.6 L370.5 169.4 L373.5 169.2 L376.5 169.2 L379.5 169.3 L382.5 169.5 L385.5 169.7 L388.5 169.8 L391.5 170.0 L394.5 170.2 L397.5 170.4 L400.5 170.6 L403.5 170.8 L406.5 171.0 L409.5 171.2 L412.5 171.3 L415.5 171.4 L418.5 171.3 L421.5 171.1 L424.5 170.9 L427.5 170.7 L430.5 170.6 L433.5 170.4 L436.5 170.2 L439.5 170.0 L442.5 169.8 L445.5 169.6 L448.5 169.5 L451.5 169.4 L454.5 169.4 L457.5 169.5 L460.5 169.6 L463.5 169.7 L466.5 169.9 L469.5 170.1 L472.5 170.4 L475.5 170.6 L478.5 170.9 L481.5 171.2 L484.5 171.4 L487.5 171.6 L490.5 171.7 L493.5 171.6 L496.5 171.4 L499.5 171.1 L502.5 170.9 L505.5 170.6 L508.5 170.4 L511.5 170.1 L514.5 169.9 L517.5 169.6 L520.5 169.4 L523.5 169.2 L526.5 168.9 L529.5 168.9 L532.5 169.1 L535.5 169.5 L538.5 169.8 L541.5 170.2 L544.5 170.5 L547.5 170.9 L550.5 171.2 L553.5 171.6 L556.5 171.9 L559.5 172.3 L562.5 172.6 L565.5 172.7 L568.5 172.6 L571.5 172.4 L574.5 172.2 L577.5 172.0 L580.5 171.8 L583.5 171.6 L586.5 171.4 L589.5 171.2 L592.5 171.0 L595.5 170.8 L598.5 170.6 L601.5 170.6 L604.5 170.7 L607.5 171.0 L610.5 171.3 L613.5 171.6 L616.5 171.9 L619.5 172.2 L622.5 172.4 L625.5 172.7 L628.5 173.0 L631.5 173.3 L634.5 173.6 L637.5 173.9 L640.5 174.1" fill="none" stroke="#fff" stroke-width="2.0" stroke-dasharray="10.5 5.8" stroke-dashoffset="6.0"/>
<path d="M118.5 207.0 L121.5 207.0 L124.5 206.9 L127.5 207.0 L130.5 207.1 L133.5 207.2 L136.5 207.4 L139.5 207.6 L142.5 207.7 L145.5 207.9 L148.5 208.0 L151.5 208.2 L154.5 208.4 L157.5 208.6 L160.5 208.9 L163.5 209.2 L166.5 209.5 L169.5 209.8 L172.5 210.1 L175.5 210.4 L178.5 210.7 L181.5 211.0 L184.5 211.3 L187.5 211.3 L190.5 211.1 L193.5 210.9 L196.5 210.7 L199.5 210.4 L202.5 210.2 L205.5 210.0 L208.5 209.7 L211.5 209.5 L214.5 209.5 L217.5 209.6 L220.5 209.8 L223.5 210.1 L226.5 210.3 L229.5 210.6 L232.5 210.8 L235.5 211.0 L238.5 211.3 L241.5 211.5 L244.5 211.8 L247.5 212.0 L250.5 212.3 L253.5 212.5 L256.5 212.7 L259.5 213.0 L262.5 213.2 L265.5 213.4 L268.5 213.4 L271.5 213.3 L274.5 213.1 L277.5 213.0 L280.5 212.8 L283.5 212.6 L286.5 212.4 L289.5 212.4 L292.5 212.5 L295.5 212.7 L298.5 213.0 L301.5 213.3 L304.5 213.5 L307.5 213.8 L310.5 214.1 L313.5 214.4 L316.5 214.6 L319.5 214.9 L322.5 215.2 L325.5 215.5 L328.5 215.8 L331.5 216.0 L334.5 216.2 L337.5 216.3 L340.5 216.1 L343.5 215.8 L346.5 215.4 L349.5 215.1 L352.5 214.8 L355.5 214.5 L358.5 214.1 L361.5 213.8 L364.5 213.5 L367.5 213.2 L370.5 212.9 L373.5 212.6 L376.5 212.6 L379.5 212.8 L382.5 213.0 L385.5 213.2 L388.5 213.4 L391.5 213.6 L394.5 213.9 L397.5 214.1 L400.5 214.3 L403.5 214.5 L406.5 214.8 L409.5 215.0 L412.5 215.2 L415.5 215.2 L418.5 215.1 L421.5 214.9 L424.5 214.6 L427.5 214.4 L430.5 214.1 L433.5 213.9 L436.5 213.6 L439.5 213.4 L442.5 213.1 L445.5 212.9 L448.5 212.7 L451.5 212.7 L454.5 212.9 L457.5 213.3 L460.5 213.7 L463.5 214.1 L466.5 214.4 L469.5 214.6 L472.5 214.9 L475.5 215.1 L478.5 215.3 L481.5 215.5 L484.5 215.7 L487.5 215.8 L490.5 215.8 L493.5 215.5 L496.5 215.3 L499.5 215.0 L502.5 214.8 L505.5 214.5 L508.5 214.3 L511.5 214.0 L514.5 213.8 L517.5 213.5 L520.5 213.3 L523.5 213.0 L526.5 213.0 L529.5 213.1 L532.5 213.4 L535.5 213.7 L538.5 214.0 L541.5 214.2 L544.5 214.5 L547.5 214.8 L550.5 215.1 L553.5 215.3 L556.5 215.6 L559.5 215.9 L562.5 216.1 L565.5 216.3 L568.5 216.3 L571.5 216.1 L574.5 216.0 L577.5 215.9 L580.5 215.8 L583.5 215.7 L586.5 215.6 L589.5 215.4 L592.5 215.3 L595.5 215.2 L598.5 215.1 L601.5 215.0 L604.5 215.2 L607.5 215.4 L610.5 215.8 L613.5 216.1 L616.5 216.5 L619.5 216.8 L622.5 217.2 L625.5 217.5 L628.5 217.9 L631.5 218.2 L634.5 218.5 L637.5 218.9 L640.5 219.1" fill="none" stroke="#fff" stroke-width="2.0" stroke-dasharray="10.5 5.8" stroke-dashoffset="6.0"/>
<path d="M118.5 253.0 L121.5 253.0 L124.5 253.1 L127.5 253.2 L130.5 253.3 L133.5 253.5 L136.5 253.7 L139.5 253.9 L142.5 254.0 L145.5 254.2 L148.5 254.5 L151.5 254.8 L154.5 255.3 L157.5 255.9 L160.5 256.4 L163.5 257.0 L166.5 257.6 L169.5 258.1 L172.5 258.7 L175.5 259.2 L178.5 259.8 L181.5 260.3 L184.5 260.9 L187.5 261.3 L190.5 261.4 L193.5 261.3 L196.5 261.1 L199.5 260.9 L202.5 260.7 L205.5 260.5 L208.5 260.3 L211.5 260.3 L214.5 260.4 L217.5 260.7 L220.5 261.0 L223.5 261.3 L226.5 261.6 L229.5 262.0 L232.5 262.3 L235.5 262.6 L238.5 262.9 L241.5 263.2 L244.5 263.5 L247.5 263.9 L250.5 264.2 L253.5 264.5 L256.5 264.8 L259.5 265.1 L262.5 265.4 L265.5 265.7 L268.5 265.8 L271.5 265.7 L274.5 265.6 L277.5 265.5 L280.5 265.4 L283.5 265.3 L286.5 265.1 L289.5 265.2 L292.5 265.3 L295.5 265.6 L298.5 265.9 L301.5 266.3 L304.5 266.6 L307.5 266.9 L310.5 267.2 L313.5 267.6 L316.5 267.9 L319.5 268.2 L322.5 268.6 L325.5 268.9 L328.5 269.2 L331.5 269.5 L334.5 269.8 L337.5 269.8 L340.5 269.7 L343.5 269.3 L346.5 269.0 L349.5 268.7 L352.5 268.3 L355.5 268.0 L358.5 267.7 L361.5 267.3 L364.5 267.0 L367.5 266.7 L370.5 266.3 L373.5 266.0 L376.5 265.7 L379.5 265.6 L382.5 265.8 L385.5 266.0 L388.5 266.3 L391.5 266.6 L394.5 266.9 L397.5 267.2 L400.5 267.5 L403.5 267.8 L406.5 268.1 L409.5 268.4 L412.5 268.7 L415.5 268.8 L418.5 268.7 L421.5 268.4 L424.5 268.1 L427.5 267.8 L430.5 267.5 L433.5 267.3 L436.5 267.0 L439.5 266.7 L442.5 266.4 L445.5 266.1 L448.5 265.9 L451.5 265.8 L454.5 265.9 L457.5 266.2 L460.5 266.5 L463.5 266.7 L466.5 267.0 L469.5 267.2 L472.5 267.5 L475.5 267.7 L478.5 267.9 L481.5 268.1 L484.5 268.3 L487.5 268.5 L490.5 268.7 L493.5 268.8 L496.5 268.8 L499.5 268.6 L502.5 268.4 L505.5 268.1 L508.5 267.8 L511.5 267.6 L514.5 267.3 L517.5 267.1 L520.5 266.8 L523.5 266.6 L526.5 266.3 L529.5 266.3 L532.5 266.5 L535.5 267.0 L538.5 267.6 L541.5 268.1 L544.5 268.7 L547.5 269.2 L550.5 269.8 L553.5 270.4 L556.5 270.9 L559.5 271.5 L562.5 272.0 L565.5 272.2 L568.5 272.1 L571.5 271.8 L574.5 271.5 L577.5 271.2 L580.5 270.9 L583.5 270.6 L586.5 270.4 L589.5 270.0 L592.5 269.8 L595.5 269.4 L598.5 269.3 L601.5 269.3 L604.5 269.6 L607.5 270.0 L610.5 270.3 L613.5 270.7 L616.5 271.1 L619.5 271.5 L622.5 271.9 L625.5 272.2 L628.5 272.6 L631.5 273.0 L634.5 273.4 L637.5 273.7 L640.5 274.0" fill="none" stroke="#fff" stroke-width="2.0" stroke-dasharray="10.5 5.8" stroke-dashoffset="6.0"/>
<path d="M118.5 283.3 L121.5 283.7 L124.5 284.3 L127.5 284.9 L130.5 285.6 L133.5 286.2 L136.5 286.8 L139.5 287.5 L142.5 288.1 L145.5 288.7 L148.5 289.4 L151.5 290.0 L154.5 290.8 L157.5 291.5 L160.5 292.3 L163.5 293.1 L166.5 293.9 L169.5 294.7 L172.5 295.5 L175.5 296.2 L178.5 297.0 L181.5 297.8 L184.5 298.6 L187.5 299.4 L190.5 300.2 L193.5 300.8 L196.5 301.1 L199.5 301.0 L202.5 300.8 L205.5 300.7 L208.5 300.6 L211.5 300.9 L214.5 301.3 L217.5 301.9 L220.5 302.5 L223.5 303.0 L226.5 303.6 L229.5 304.3 L232.5 305.2 L235.5 306.1 L238.5 307.0 L241.5 307.9 L244.5 308.8 L247.5 309.8 L250.5 310.7 L253.5 311.6 L256.5 312.4 L259.5 312.9 L262.5 313.1 L265.5 313.2 L268.5 313.2 L271.5 313.3 L274.5 313.3 L277.5 313.3 L280.5 313.4 L283.5 313.4 L286.5 313.5 L289.5 313.6 L292.5 313.9 L295.5 314.3 L298.5 314.8 L301.5 315.3 L304.5 315.7 L307.5 316.2 L310.5 316.6 L313.5 317.1 L316.5 317.5 L319.5 318.0 L322.5 318.5 L325.5 318.9 L328.5 319.4 L331.5 319.8 L334.5 320.2 L337.5 320.2 L340.5 320.0 L343.5 319.6 L346.5 319.1 L349.5 318.7 L352.5 318.3 L355.5 317.8 L358.5 317.4 L361.5 316.9 L364.5 316.5 L367.5 316.1 L370.5 315.6 L373.5 315.3 L376.5 315.3 L379.5 315.6 L382.5 315.9 L385.5 316.3 L388.5 316.7 L391.5 317.0 L394.5 317.4 L397.5 317.8 L400.5 318.1 L403.5 318.5 L406.5 318.9 L409.5 319.2 L412.5 319.5 L415.5 319.6 L418.5 319.5 L421.5 319.2 L424.5 318.9 L427.5 318.6 L430.5 318.3 L433.5 317.9 L436.5 317.6 L439.5 317.3 L442.5 317.0 L445.5 316.7 L448.5 316.4 L451.5 316.4 L454.5 316.6 L457.5 317.1 L460.5 317.5 L463.5 317.9 L466.5 318.4 L469.5 318.7 L472.5 319.0 L475.5 319.2 L478.5 319.4 L481.5 319.5 L484.5 319.7 L487.5 319.8 L490.5 319.8 L493.5 319.6 L496.5 319.4 L499.5 319.0 L502.5 318.8 L505.5 318.4 L508.5 318.1 L511.5 317.8 L514.5 317.5 L517.5 317.2 L520.5 317.0 L523.5 316.8 L526.5 316.9 L529.5 317.2 L532.5 317.6 L535.5 318.1 L538.5 318.5 L541.5 319.0 L544.5 319.4 L547.5 319.9 L550.5 320.3 L553.5 320.8 L556.5 321.2 L559.5 321.7 L562.5 322.1 L565.5 322.3 L568.5 322.2 L571.5 322.0 L574.5 321.8 L577.5 321.6 L580.5 321.4 L583.5 321.2 L586.5 321.0 L589.5 320.7 L592.5 320.5 L595.5 320.3 L598.5 320.2 L601.5 320.3 L604.5 320.7 L607.5 321.1 L610.5 321.6 L613.5 322.0 L616.5 322.5 L619.5 322.9 L622.5 323.4 L625.5 323.9 L628.5 324.3 L631.5 324.8 L634.5 325.2 L637.5 325.7 L640.5 326.0" fill="none" stroke="#fff" stroke-width="2.0" stroke-dasharray="10.5 5.8" stroke-dashoffset="6.0"/>
<path d="M354.7 372.3 L357.7 372.5 L360.7 372.7 L363.7 373.0 L366.7 373.2 L369.7 373.5 L372.7 373.8 L375.7 374.0 L378.7 374.4 L381.7 375.0 L384.7 375.6 L387.7 376.4 L390.7 377.1 L393.7 377.8 L396.7 378.5 L399.7 379.2 L402.7 379.9 L405.7 380.6 L408.7 381.0 L411.7 381.1 L414.7 381.0 L417.7 380.9 L420.7 380.7 L423.7 380.4 L426.7 380.0 L429.7 379.7 L432.7 379.3 L435.7 379.0 L438.7 378.7 L441.7 378.6 L444.7 378.6 L447.7 378.6 L450.7 378.6 L453.7 378.6 L456.7 378.6 L459.7 379.0 L462.7 379.6 L465.7 380.3 L468.7 380.9 L471.7 381.4 L474.7 381.9 L477.7 382.4 L480.7 382.9 L483.7 383.3 L486.7 383.7 L489.7 383.8 L492.7 383.6 L495.7 383.3 L498.7 383.0 L501.7 382.6 L504.7 382.3 L507.7 382.0 L510.7 381.6 L513.7 381.3 L516.7 381.0 L519.7 380.6 L522.7 380.3 L525.7 380.2 L528.7 380.4 L531.7 380.9 L534.7 381.4 L537.7 382.0 L540.7 382.6 L543.7 383.2 L546.7 383.7 L549.7 384.3 L552.7 384.9 L555.7 385.4 L558.7 386.0 L561.7 386.5 L564.7 386.8 L567.7 386.8 L570.7 386.6 L573.7 386.3 L576.7 386.1 L579.7 385.8 L582.7 385.6 L585.7 385.3 L588.7 385.1 L591.7 384.8 L594.7 384.6 L597.7 384.4 L600.7 384.4 L603.7 384.7 L606.7 385.2 L609.7 385.8 L612.7 386.4 L615.7 387.0 L618.7 387.5 L621.7 388.1 L624.7 388.7 L627.7 389.3 L630.7 389.8 L633.7 390.4 L636.7 391.0 L639.7 391.4 L640.5 391.5" fill="none" stroke="#fff" stroke-width="2.0" stroke-dasharray="10.5 5.8" stroke-dashoffset="0.0"/>
<path d="M354.7 412.0 L357.7 412.6 L360.7 413.4 L363.7 414.2 L366.7 415.0 L369.7 415.8 L372.7 416.7 L375.7 417.5 L378.7 418.5 L381.7 419.8 L384.7 421.2 L387.7 422.7 L390.7 424.2 L393.7 425.7 L396.7 426.9 L399.7 428.0 L402.7 428.9 L405.7 429.7 L408.7 430.6 L411.7 431.5 L414.7 432.3 L417.7 433.2 L420.7 433.8 L423.7 433.9 L426.7 433.7 L429.7 433.7 L432.7 433.9 L435.7 434.5 L438.7 435.2 L441.7 435.9 L444.7 436.5 L447.7 437.2 L450.7 437.9 L453.7 438.8 L456.7 439.9 L459.7 440.9 L462.7 442.0 L465.7 442.9 L468.7 443.7 L471.7 444.5 L474.7 445.2 L477.7 446.0 L480.7 446.8 L483.7 447.5 L486.7 448.3 L489.7 448.8 L492.7 449.1 L495.7 449.0 L498.7 448.9 L501.7 448.9 L504.7 448.8 L507.7 448.7 L510.7 448.6 L513.7 448.5 L516.7 448.4 L519.7 448.3 L522.7 448.2 L525.7 448.3 L528.7 448.6 L531.7 449.2 L534.7 449.8 L537.7 450.5 L540.7 451.1 L543.7 451.8 L546.7 452.4 L549.7 453.0 L552.7 453.7 L555.7 454.3 L558.7 454.9 L561.7 455.5 L564.7 455.9 L567.7 455.9 L570.7 455.8 L573.7 455.5 L576.7 455.3 L579.7 455.1 L582.7 454.9 L585.7 454.7 L588.7 454.4 L591.7 454.2 L594.7 454.0 L597.7 453.8 L600.7 453.6 L603.7 453.7 L606.7 454.1 L609.7 454.6 L612.7 455.2 L615.7 455.7 L618.7 456.2 L621.7 456.8 L624.7 457.3 L627.7 457.8 L630.7 458.4 L633.7 458.9 L636.7 459.4 L639.7 459.9 L640.5 460.0" fill="none" stroke="#fff" stroke-width="2.0" stroke-dasharray="10.5 5.8" stroke-dashoffset="0.0"/>
<path d="M118 339.2 L613 571.5" fill="none" stroke="#f00" stroke-width="1.2" stroke-dasharray="12.4 7.1" stroke-dashoffset="0.5"/>
<path d="M114.8 330.2h7.6M118.6 326.4v7.6M133.7 336.5h7.6M137.5 332.7v7.6M153.7 353.5h7.6M157.5 349.7v7.6M172.7 364.5h7.6M176.5 360.7v7.6M192.7 368.5h7.6M196.5 364.7v7.6M212.2 385.0h7.6M216.0 381.2v7.6M231.7 401.0h7.6M235.5 397.2v7.6M251.2 406.0h7.6M255.0 402.2v7.6M272.2 424.5h7.6M276.0 420.7v7.6M291.6 426.7h7.6M295.4 422.9v7.6M311.5 440.2h7.6M315.3 436.4v7.6M330.5 452.4h7.6M334.3 448.6v7.6M342.2 446.2h7.6M346.0 442.4v7.6M342.0 458.5h7.6M345.8 454.7v7.6M362.4 447.6h7.6M366.2 443.8v7.6M381.9 459.7h7.6M385.7 455.9v7.6M420.8 483.1h7.6M424.6 479.3v7.6M421.8 485.2h7.6M425.6 481.4v7.6M461.1 506.4h7.6M464.9 502.6v7.6M481.3 514.2h7.6M485.1 510.4v7.6M520.6 529.6h7.6M524.4 525.8v7.6M539.6 546.6h7.6M543.4 542.8v7.6M558.7 547.7h7.6M562.5 543.9v7.6M578.9 552.5h7.6M582.7 548.7v7.6M599.6 555.5h7.6M603.4 551.7v7.6M618.7 569.9h7.6M622.5 566.1v7.6" fill="none" stroke="#000" stroke-width="1.3"/>
<rect x="118.1" y="661.1" width="522.9" height="522.8" fill="#e6e6e6"/>
<g clip-path="url(#cb)"><g filter="url(#pm)"><rect x="100" y="650" width="560" height="550" fill="#030303"/><ellipse cx="480.0" cy="980.0" rx="280.0" ry="170.0" transform="rotate(25 480.0 980.0)" fill="url(#r1)"/><ellipse cx="158.0" cy="860.0" rx="80.0" ry="34.0" transform="rotate(27 158.0 860.0)" fill="url(#r2)"/><ellipse cx="121.0" cy="846.0" rx="12.0" ry="20.0" transform="rotate(0 121.0 846.0)" fill="url(#r3)"/><ellipse cx="140.0" cy="852.0" rx="34.0" ry="17.0" transform="rotate(22 140.0 852.0)" fill="url(#r4)"/><ellipse cx="203.0" cy="892.0" rx="64.0" ry="34.0" transform="rotate(30 203.0 892.0)" fill="url(#r5)"/><ellipse cx="210.0" cy="893.0" rx="42.0" ry="22.0" transform="rotate(36 210.0 893.0)" fill="url(#r6)"/><ellipse cx="205.0" cy="888.0" rx="24.0" ry="18.0" transform="rotate(36 205.0 888.0)" fill="url(#r7)"/><ellipse cx="210.0" cy="938.0" rx="95.0" ry="20.0" transform="rotate(24 210.0 938.0)" fill="url(#r8)"/><ellipse cx="150.0" cy="913.0" rx="36.0" ry="18.0" transform="rotate(35 150.0 913.0)" fill="url(#r9)"/><ellipse cx="198.0" cy="929.0" rx="48.0" ry="15.0" transform="rotate(12 198.0 929.0)" fill="url(#r10)"/><ellipse cx="203.5" cy="935.5" rx="8.0" ry="5.0" transform="rotate(0 203.5 935.5)" fill="url(#r11)"/><ellipse cx="262.0" cy="930.0" rx="64.0" ry="30.0" transform="rotate(33 262.0 930.0)" fill="url(#r12)"/><ellipse cx="305.0" cy="952.0" rx="46.0" ry="52.0" transform="rotate(-10 305.0 952.0)" fill="url(#r13)"/><ellipse cx="302.0" cy="950.0" rx="24.0" ry="38.0" transform="rotate(0 302.0 950.0)" fill="url(#r14)"/><ellipse cx="301.5" cy="944.0" rx="10.0" ry="22.0" transform="rotate(0 301.5 944.0)" fill="url(#r15)"/><ellipse cx="308.0" cy="968.0" rx="8.0" ry="8.0" transform="rotate(0 308.0 968.0)" fill="url(#r16)"/><ellipse cx="315.0" cy="970.0" rx="6.0" ry="6.0" transform="rotate(0 315.0 970.0)" fill="url(#r17)"/><ellipse cx="347.0" cy="969.0" rx="20.0" ry="16.0" transform="rotate(0 347.0 969.0)" fill="url(#r18)"/><ellipse cx="330.0" cy="985.0" rx="40.0" ry="22.0" transform="rotate(25 330.0 985.0)" fill="url(#r19)"/><ellipse cx="375.0" cy="983.0" rx="72.0" ry="34.0" transform="rotate(24 375.0 983.0)" fill="url(#r20)"/><ellipse cx="419.0" cy="1012.0" rx="54.0" ry="32.0" transform="rotate(22 419.0 1012.0)" fill="url(#r21)"/><ellipse cx="415.0" cy="1012.0" rx="46.0" ry="25.0" transform="rotate(10 415.0 1012.0)" fill="url(#r22)"/><ellipse cx="421.5" cy="1008.0" rx="17.0" ry="11.0" transform="rotate(0 421.5 1008.0)" fill="url(#r23)"/><ellipse cx="550.0" cy="1141.0" rx="14.0" ry="7.0" transform="rotate(25 550.0 1141.0)" fill="url(#r24)"/><ellipse cx="446.0" cy="1028.0" rx="28.0" ry="14.0" transform="rotate(35 446.0 1028.0)" fill="url(#r25)"/><ellipse cx="414.0" cy="1055.0" rx="42.0" ry="17.0" transform="rotate(12 414.0 1055.0)" fill="url(#r26)"/><ellipse cx="421.5" cy="1064.0" rx="5.0" ry="4.0" transform="rotate(0 421.5 1064.0)" fill="url(#r27)"/><ellipse cx="470.0" cy="1080.0" rx="52.0" ry="26.0" transform="rotate(45 470.0 1080.0)" fill="url(#r28)"/><ellipse cx="462.0" cy="1070.0" rx="22.0" ry="36.0" transform="rotate(-10 462.0 1070.0)" fill="url(#r29)"/><ellipse cx="500.0" cy="1085.0" rx="40.0" ry="26.0" transform="rotate(40 500.0 1085.0)" fill="url(#r30)"/><ellipse cx="538.0" cy="1097.0" rx="52.0" ry="28.0" transform="rotate(56 538.0 1097.0)" fill="url(#r31)"/><ellipse cx="545.0" cy="1102.0" rx="30.0" ry="13.0" transform="rotate(60 545.0 1102.0)" fill="url(#r32)"/><ellipse cx="584.5" cy="1107.5" rx="24.0" ry="26.0" transform="rotate(0 584.5 1107.5)" fill="url(#r33)"/><ellipse cx="580.0" cy="1112.0" rx="50.0" ry="36.0" transform="rotate(10 580.0 1112.0)" fill="url(#r34)"/><ellipse cx="600.0" cy="1138.0" rx="50.0" ry="20.0" transform="rotate(20 600.0 1138.0)" fill="url(#r35)"/><ellipse cx="545.6" cy="699.8" rx="17.0" ry="12.0" transform="rotate(0 545.6 699.8)" fill="url(#r36)"/><ellipse cx="617.6" cy="691.3" rx="13.0" ry="12.0" transform="rotate(0 617.6 691.3)" fill="url(#r37)"/><ellipse cx="617.6" cy="711.5" rx="10.0" ry="10.0" transform="rotate(0 617.6 711.5)" fill="url(#r38)"/><ellipse cx="157.0" cy="741.0" rx="6.0" ry="12.0" transform="rotate(0 157.0 741.0)" fill="url(#r39)"/><ellipse cx="233.0" cy="738.0" rx="6.0" ry="12.0" transform="rotate(0 233.0 738.0)" fill="url(#r40)"/><ellipse cx="344.5" cy="800.0" rx="11.0" ry="150.0" transform="rotate(0 344.5 800.0)" fill="url(#r41)"/><ellipse cx="344.5" cy="905.0" rx="8.0" ry="8.0" transform="rotate(0 344.5 905.0)" fill="url(#r42)"/><ellipse cx="344.5" cy="920.0" rx="8.0" ry="8.0" transform="rotate(0 344.5 920.0)" fill="url(#r43)"/><ellipse cx="640.0" cy="850.0" rx="4.0" ry="30.0" transform="rotate(0 640.0 850.0)" fill="url(#r44)"/><ellipse cx="640.0" cy="1070.0" rx="4.0" ry="20.0" transform="rotate(0 640.0 1070.0)" fill="url(#r45)"/><ellipse cx="120.0" cy="690.0" rx="6.0" ry="8.0" transform="rotate(0 120.0 690.0)" fill="url(#r46)"/><rect x="166.8" y="676.5" width="18.5" height="9" fill="#393939"/><rect x="166.8" y="676.5" width="2.5" height="6" fill="#a2a2a2"/><rect x="183" y="676.5" width="2.3" height="6" fill="#b2b2b2"/><rect x="118.5" y="676.5" width="2" height="6" fill="#ebebeb"/><rect x="638.6" y="684" width="2.4" height="490" fill="#242424"/><rect x="344.3" y="1008" width="1.6" height="25" fill="#e3e3e3"/></g></g>
<path d="M118.7 683.6 H640.5" fill="none" stroke="#fff" stroke-width="2.7" stroke-dasharray="14 15" stroke-dashoffset="-1"/>
<path d="M118.7 703.0 L121.7 703.0 L124.7 703.0 L127.7 703.1 L130.7 703.1 L133.7 703.1 L136.7 703.1 L139.7 703.1 L142.7 703.1 L145.7 703.2 L148.7 703.2 L151.7 703.2 L154.7 703.2 L157.7 703.2 L160.7 703.2 L163.7 703.3 L166.7 703.3 L169.7 703.3 L172.7 703.3 L175.7 703.3 L178.7 703.4 L181.7 703.4 L184.7 703.4 L187.7 703.4 L190.7 703.4 L193.7 703.4 L196.7 703.5 L199.7 703.5 L202.7 703.5 L205.7 703.5 L208.7 703.5 L211.7 703.5 L214.7 703.6 L217.7 703.6 L220.7 703.6 L223.7 703.6 L226.7 703.6 L229.7 703.6 L232.7 703.7 L235.7 703.7 L238.7 703.7 L241.7 703.7 L244.7 703.7 L247.7 703.8 L250.7 703.8 L253.7 703.8 L256.7 703.8 L259.7 703.8 L262.7 703.8 L265.7 703.9 L268.7 703.9 L271.7 703.9 L274.7 703.9 L277.7 703.9 L280.7 703.9 L283.7 704.0 L286.7 704.0 L289.7 704.0 L292.7 704.0 L295.7 704.0 L298.7 704.0 L301.7 704.0 L304.7 704.0 L307.7 704.0 L310.7 704.0 L313.7 704.0 L316.7 704.0 L319.7 704.0 L322.7 704.0 L325.7 704.0 L328.7 704.0 L331.7 704.0 L334.7 704.0 L337.7 704.0 L340.7 704.0 L343.7 704.0 L346.7 704.0 L349.7 704.0 L352.7 704.0 L355.7 704.0 L358.7 704.0 L361.7 704.0 L364.7 704.0 L367.7 704.0 L370.7 704.0 L373.7 704.0 L376.7 704.0 L379.7 704.0 L382.7 704.0 L385.7 704.0 L388.7 704.0 L391.7 704.0 L394.7 704.0 L397.7 704.0 L400.7 704.0 L403.7 704.0 L406.7 704.0 L409.7 704.0 L412.7 704.0 L415.7 704.0 L418.7 704.0 L421.7 704.0 L424.7 704.0 L427.7 704.0 L430.7 704.0 L433.7 704.0 L436.7 704.0 L439.7 704.0 L442.7 704.0 L445.7 704.0 L448.7 704.0 L451.7 704.0 L454.7 704.0 L457.7 704.0 L460.7 704.0 L463.7 704.0 L466.7 704.0 L469.7 704.0 L472.7 704.0 L475.7 704.0 L478.7 704.0 L481.7 704.0 L484.7 704.1 L487.7 704.1 L490.7 704.1 L493.7 704.1 L496.7 704.1 L499.7 704.1 L502.7 704.1 L505.7 704.1 L508.7 704.1 L511.7 704.1 L514.7 704.1 L517.7 704.1 L520.7 704.2 L523.7 704.2 L526.7 704.2 L529.7 704.2 L532.7 704.2 L535.7 704.2 L538.7 704.2 L541.7 704.2 L544.7 704.2 L547.7 704.2 L550.7 704.2 L553.7 704.3 L556.7 704.3 L559.7 704.3 L562.7 704.3 L565.7 704.3 L568.7 704.3 L571.7 704.3 L574.7 704.3 L577.7 704.3 L580.7 704.3 L583.7 704.3 L586.7 704.3 L589.7 704.4 L592.7 704.4 L595.7 704.4 L598.7 704.4 L601.7 704.4 L604.7 704.4 L607.7 704.4 L610.7 704.4 L613.7 704.4 L616.7 704.4 L619.7 704.4 L622.7 704.4 L625.7 704.5 L628.7 704.5 L631.7 704.5 L634.7 704.5 L637.7 704.5 L640.5 704.5" fill="none" stroke="#fff" stroke-width="2.9" stroke-dasharray="13.5 11.3" stroke-dashoffset="0.0"/>
<path d="M118.7 741.2 L121.7 741.2 L124.7 741.2 L127.7 741.3 L130.7 741.3 L133.7 741.3 L136.7 741.3 L139.7 741.4 L142.7 741.4 L145.7 741.4 L148.7 741.4 L151.7 741.4 L154.7 741.5 L157.7 741.5 L160.7 741.5 L163.7 741.5 L166.7 741.6 L169.7 741.6 L172.7 741.6 L175.7 741.6 L178.7 741.5 L181.7 741.5 L184.7 741.4 L187.7 741.4 L190.7 741.3 L193.7 741.2 L196.7 741.2 L199.7 741.1 L202.7 741.1 L205.7 741.0 L208.7 741.0 L211.7 740.9 L214.7 740.9 L217.7 740.8 L220.7 740.8 L223.7 740.8 L226.7 740.9 L229.7 741.0 L232.7 741.2 L235.7 741.4 L238.7 741.6 L241.7 741.8 L244.7 742.0 L247.7 742.2 L250.7 742.3 L253.7 742.4 L256.7 742.4 L259.7 742.4 L262.7 742.4 L265.7 742.4 L268.7 742.4 L271.7 742.4 L274.7 742.4 L277.7 742.4 L280.7 742.4 L283.7 742.5 L286.7 742.6 L289.7 742.7 L292.7 742.8 L295.7 742.8 L298.7 742.9 L301.7 743.0 L304.7 743.1 L307.7 743.2 L310.7 743.3 L313.7 743.4 L316.7 743.4 L319.7 743.5 L322.7 743.6 L325.7 743.7 L328.7 743.8 L331.7 743.9 L334.7 743.9 L337.7 743.9 L340.7 743.7 L343.7 743.5 L346.7 743.3 L349.7 743.2 L352.7 743.0 L355.7 742.8 L358.7 742.6 L361.7 742.4 L364.7 742.2 L367.7 742.0 L370.7 741.9 L373.7 741.7 L376.7 741.7 L379.7 741.8 L382.7 741.9 L385.7 742.1 L388.7 742.2 L391.7 742.3 L394.7 742.4 L397.7 742.6 L400.7 742.7 L403.7 742.8 L406.7 742.9 L409.7 743.1 L412.7 743.2 L415.7 743.2 L418.7 743.1 L421.7 743.0 L424.7 742.9 L427.7 742.8 L430.7 742.6 L433.7 742.5 L436.7 742.4 L439.7 742.3 L442.7 742.1 L445.7 742.0 L448.7 741.9 L451.7 741.9 L454.7 742.0 L457.7 742.2 L460.7 742.4 L463.7 742.5 L466.7 742.6 L469.7 742.7 L472.7 742.8 L475.7 742.9 L478.7 742.9 L481.7 743.0 L484.7 743.1 L487.7 743.2 L490.7 743.2 L493.7 743.2 L496.7 743.0 L499.7 742.8 L502.7 742.6 L505.7 742.4 L508.7 742.2 L511.7 742.0 L514.7 741.8 L517.7 741.7 L520.7 741.8 L523.7 742.0 L526.7 742.1 L529.7 742.3 L532.7 742.5 L535.7 742.7 L538.7 742.9 L541.7 743.1 L544.7 743.2 L547.7 743.3 L550.7 743.4 L553.7 743.5 L556.7 743.5 L559.7 743.6 L562.7 743.6 L565.7 743.6 L568.7 743.6 L571.7 743.4 L574.7 743.2 L577.7 743.1 L580.7 742.9 L583.7 742.7 L586.7 742.5 L589.7 742.4 L592.7 742.3 L595.7 742.4 L598.7 742.5 L601.7 742.7 L604.7 742.8 L607.7 743.0 L610.7 743.2 L613.7 743.3 L616.7 743.5 L619.7 743.7 L622.7 743.9 L625.7 744.1 L628.7 744.2 L631.7 744.4 L634.7 744.6 L637.7 744.8 L640.5 744.9" fill="none" stroke="#fff" stroke-width="2.9" stroke-dasharray="13.5 11.3" stroke-dashoffset="0.0"/>
<path d="M118.7 778.9 L121.7 779.0 L124.7 779.0 L127.7 779.1 L130.7 779.1 L133.7 779.2 L136.7 779.2 L139.7 779.3 L142.7 779.4 L145.7 779.4 L148.7 779.5 L151.7 779.5 L154.7 779.6 L157.7 779.6 L160.7 779.7 L163.7 779.9 L166.7 780.1 L169.7 780.3 L172.7 780.5 L175.7 780.7 L178.7 780.9 L181.7 781.1 L184.7 781.2 L187.7 781.2 L190.7 781.0 L193.7 780.8 L196.7 780.5 L199.7 780.3 L202.7 780.0 L205.7 779.8 L208.7 779.6 L211.7 779.4 L214.7 779.4 L217.7 779.6 L220.7 779.7 L223.7 779.8 L226.7 779.9 L229.7 780.1 L232.7 780.2 L235.7 780.4 L238.7 780.6 L241.7 780.9 L244.7 781.2 L247.7 781.5 L250.7 781.9 L253.7 782.2 L256.7 782.4 L259.7 782.6 L262.7 782.5 L265.7 782.4 L268.7 782.3 L271.7 782.2 L274.7 782.0 L277.7 781.9 L280.7 781.8 L283.7 781.7 L286.7 781.5 L289.7 781.5 L292.7 781.6 L295.7 781.8 L298.7 782.0 L301.7 782.2 L304.7 782.4 L307.7 782.6 L310.7 782.8 L313.7 783.0 L316.7 783.2 L319.7 783.4 L322.7 783.6 L325.7 783.8 L328.7 784.0 L331.7 784.2 L334.7 784.3 L337.7 784.3 L340.7 784.1 L343.7 783.8 L346.7 783.5 L349.7 783.3 L352.7 783.0 L355.7 782.7 L358.7 782.5 L361.7 782.2 L364.7 781.9 L367.7 781.7 L370.7 781.4 L373.7 781.2 L376.7 781.2 L379.7 781.3 L382.7 781.5 L385.7 781.7 L388.7 781.9 L391.7 782.0 L394.7 782.2 L397.7 782.4 L400.7 782.6 L403.7 782.8 L406.7 783.0 L409.7 783.2 L412.7 783.3 L415.7 783.4 L418.7 783.3 L421.7 783.1 L424.7 783.0 L427.7 782.8 L430.7 782.6 L433.7 782.5 L436.7 782.3 L439.7 782.1 L442.7 782.0 L445.7 781.8 L448.7 781.7 L451.7 781.7 L454.7 781.9 L457.7 782.1 L460.7 782.4 L463.7 782.7 L466.7 783.0 L469.7 783.2 L472.7 783.5 L475.7 783.6 L478.7 783.7 L481.7 783.7 L484.7 783.8 L487.7 783.8 L490.7 783.9 L493.7 783.9 L496.7 783.9 L499.7 783.7 L502.7 783.3 L505.7 783.0 L508.7 782.7 L511.7 782.3 L514.7 782.0 L517.7 781.7 L520.7 781.6 L523.7 781.7 L526.7 781.9 L529.7 782.2 L532.7 782.4 L535.7 782.7 L538.7 782.9 L541.7 783.2 L544.7 783.4 L547.7 783.7 L550.7 784.0 L553.7 784.3 L556.7 784.6 L559.7 784.8 L562.7 784.8 L565.7 784.7 L568.7 784.5 L571.7 784.3 L574.7 784.1 L577.7 784.0 L580.7 783.8 L583.7 783.6 L586.7 783.5 L589.7 783.5 L592.7 783.4 L595.7 783.4 L598.7 783.3 L601.7 783.2 L604.7 783.2 L607.7 783.2 L610.7 783.3 L613.7 783.5 L616.7 783.8 L619.7 784.1 L622.7 784.3 L625.7 784.6 L628.7 784.9 L631.7 785.2 L634.7 785.4 L637.7 785.7 L640.5 785.9" fill="none" stroke="#fff" stroke-width="2.9" stroke-dasharray="13.5 11.3" stroke-dashoffset="0.0"/>
<path d="M118.7 820.7 L121.7 820.7 L124.7 820.7 L127.7 820.7 L130.7 820.7 L133.7 820.7 L136.7 820.7 L139.7 820.7 L142.7 820.7 L145.7 820.7 L148.7 820.7 L151.7 820.8 L154.7 821.0 L157.7 821.2 L160.7 821.5 L163.7 821.8 L166.7 822.1 L169.7 822.4 L172.7 822.6 L175.7 822.8 L178.7 822.8 L181.7 822.8 L184.7 822.8 L187.7 822.8 L190.7 822.8 L193.7 822.8 L196.7 822.8 L199.7 822.7 L202.7 822.6 L205.7 822.5 L208.7 822.4 L211.7 822.3 L214.7 822.1 L217.7 822.0 L220.7 821.9 L223.7 821.9 L226.7 822.1 L229.7 822.4 L232.7 822.8 L235.7 823.2 L238.7 823.7 L241.7 824.1 L244.7 824.5 L247.7 824.8 L250.7 824.9 L253.7 825.0 L256.7 825.1 L259.7 825.2 L262.7 825.2 L265.7 825.3 L268.7 825.4 L271.7 825.4 L274.7 825.4 L277.7 825.3 L280.7 825.1 L283.7 824.9 L286.7 824.7 L289.7 824.6 L292.7 824.7 L295.7 824.9 L298.7 825.2 L301.7 825.4 L304.7 825.7 L307.7 826.0 L310.7 826.2 L313.7 826.5 L316.7 826.7 L319.7 827.0 L322.7 827.3 L325.7 827.5 L328.7 827.8 L331.7 828.1 L334.7 828.3 L337.7 828.3 L340.7 828.1 L343.7 827.8 L346.7 827.4 L349.7 827.1 L352.7 826.8 L355.7 826.5 L358.7 826.2 L361.7 825.9 L364.7 825.6 L367.7 825.2 L370.7 824.9 L373.7 824.7 L376.7 824.7 L379.7 824.9 L382.7 825.1 L385.7 825.3 L388.7 825.5 L391.7 825.8 L394.7 826.0 L397.7 826.2 L400.7 826.4 L403.7 826.7 L406.7 826.9 L409.7 827.1 L412.7 827.3 L415.7 827.3 L418.7 827.2 L421.7 826.9 L424.7 826.7 L427.7 826.4 L430.7 826.2 L433.7 825.9 L436.7 825.7 L439.7 825.4 L442.7 825.2 L445.7 824.9 L448.7 824.7 L451.7 824.7 L454.7 824.9 L457.7 825.2 L460.7 825.5 L463.7 825.8 L466.7 826.0 L469.7 826.2 L472.7 826.3 L475.7 826.4 L478.7 826.5 L481.7 826.7 L484.7 826.8 L487.7 826.9 L490.7 826.9 L493.7 826.7 L496.7 826.5 L499.7 826.2 L502.7 826.0 L505.7 825.7 L508.7 825.5 L511.7 825.2 L514.7 825.1 L517.7 825.0 L520.7 825.1 L523.7 825.3 L526.7 825.5 L529.7 825.6 L532.7 825.8 L535.7 826.0 L538.7 826.2 L541.7 826.5 L544.7 826.9 L547.7 827.2 L550.7 827.5 L553.7 827.9 L556.7 828.2 L559.7 828.5 L562.7 828.8 L565.7 828.9 L568.7 828.7 L571.7 828.4 L574.7 828.1 L577.7 827.8 L580.7 827.5 L583.7 827.2 L586.7 826.9 L589.7 826.7 L592.7 826.5 L595.7 826.5 L598.7 826.6 L601.7 826.7 L604.7 826.8 L607.7 826.8 L610.7 826.9 L613.7 827.1 L616.7 827.4 L619.7 827.7 L622.7 828.1 L625.7 828.4 L628.7 828.8 L631.7 829.1 L634.7 829.5 L637.7 829.8 L640.5 830.0" fill="none" stroke="#fff" stroke-width="2.9" stroke-dasharray="13.5 11.3" stroke-dashoffset="0.0"/>
<path d="M118.7 866.8 L121.7 866.8 L124.7 866.9 L127.7 866.9 L130.7 866.9 L133.7 867.0 L136.7 867.0 L139.7 867.1 L142.7 867.1 L145.7 867.1 L148.7 867.2 L151.7 867.4 L154.7 867.8 L157.7 868.4 L160.7 869.0 L163.7 869.7 L166.7 870.4 L169.7 871.0 L172.7 871.6 L175.7 872.0 L178.7 872.2 L181.7 872.3 L184.7 872.5 L187.7 872.6 L190.7 872.8 L193.7 872.9 L196.7 873.1 L199.7 873.1 L202.7 873.1 L205.7 873.0 L208.7 872.9 L211.7 872.9 L214.7 872.8 L217.7 872.7 L220.7 872.6 L223.7 872.7 L226.7 873.0 L229.7 873.6 L232.7 874.2 L235.7 874.8 L238.7 875.4 L241.7 876.0 L244.7 876.5 L247.7 876.9 L250.7 877.1 L253.7 877.3 L256.7 877.5 L259.7 877.6 L262.7 877.8 L265.7 878.0 L268.7 878.1 L271.7 878.2 L274.7 878.1 L277.7 877.9 L280.7 877.7 L283.7 877.6 L286.7 877.4 L289.7 877.4 L292.7 877.5 L295.7 877.8 L298.7 878.1 L301.7 878.4 L304.7 878.7 L307.7 879.0 L310.7 879.2 L313.7 879.5 L316.7 879.8 L319.7 880.1 L322.7 880.4 L325.7 880.7 L328.7 881.0 L331.7 881.3 L334.7 881.6 L337.7 881.9 L340.7 882.0 L343.7 881.9 L346.7 881.5 L349.7 881.0 L352.7 880.5 L355.7 880.1 L358.7 879.6 L361.7 879.1 L364.7 878.7 L367.7 878.3 L370.7 878.2 L373.7 878.3 L376.7 878.5 L379.7 878.8 L382.7 879.0 L385.7 879.2 L388.7 879.4 L391.7 879.6 L394.7 879.8 L397.7 880.0 L400.7 880.2 L403.7 880.4 L406.7 880.6 L409.7 880.7 L412.7 880.9 L415.7 881.0 L418.7 881.0 L421.7 880.8 L424.7 880.6 L427.7 880.3 L430.7 880.0 L433.7 879.8 L436.7 879.5 L439.7 879.2 L442.7 879.0 L445.7 878.9 L448.7 878.9 L451.7 879.1 L454.7 879.2 L457.7 879.4 L460.7 879.6 L463.7 879.7 L466.7 880.0 L469.7 880.2 L472.7 880.4 L475.7 880.7 L478.7 880.9 L481.7 881.2 L484.7 881.4 L487.7 881.6 L490.7 881.7 L493.7 881.5 L496.7 881.2 L499.7 880.9 L502.7 880.5 L505.7 880.2 L508.7 879.8 L511.7 879.5 L514.7 879.2 L517.7 879.0 L520.7 879.1 L523.7 879.3 L526.7 879.6 L529.7 879.9 L532.7 880.1 L535.7 880.4 L538.7 880.7 L541.7 881.0 L544.7 881.3 L547.7 881.6 L550.7 881.9 L553.7 882.2 L556.7 882.6 L559.7 882.9 L562.7 883.1 L565.7 883.2 L568.7 883.1 L571.7 882.9 L574.7 882.6 L577.7 882.4 L580.7 882.2 L583.7 881.9 L586.7 881.7 L589.7 881.5 L592.7 881.4 L595.7 881.4 L598.7 881.5 L601.7 881.6 L604.7 881.7 L607.7 881.7 L610.7 881.9 L613.7 882.1 L616.7 882.5 L619.7 882.9 L622.7 883.4 L625.7 883.9 L628.7 884.4 L631.7 884.9 L634.7 885.5 L637.7 885.9 L640.5 886.3" fill="none" stroke="#fff" stroke-width="2.9" stroke-dasharray="13.5 11.3" stroke-dashoffset="0.0"/>
<path d="M118.7 894.1 L121.7 894.7 L124.7 895.5 L127.7 896.3 L130.7 897.1 L133.7 897.9 L136.7 898.7 L139.7 899.5 L142.7 900.3 L145.7 901.1 L148.7 902.0 L151.7 902.8 L154.7 903.6 L157.7 904.5 L160.7 905.3 L163.7 906.1 L166.7 906.9 L169.7 907.7 L172.7 908.4 L175.7 909.2 L178.7 909.9 L181.7 910.6 L184.7 911.4 L187.7 912.1 L190.7 912.6 L193.7 912.9 L196.7 913.1 L199.7 913.2 L202.7 913.3 L205.7 913.5 L208.7 913.6 L211.7 913.7 L214.7 914.0 L217.7 914.4 L220.7 915.1 L223.7 915.8 L226.7 916.6 L229.7 917.3 L232.7 918.0 L235.7 918.8 L238.7 919.5 L241.7 920.3 L244.7 921.0 L247.7 921.8 L250.7 922.5 L253.7 923.3 L256.7 924.0 L259.7 924.7 L262.7 925.2 L265.7 925.4 L268.7 925.4 L271.7 925.4 L274.7 925.4 L277.7 925.3 L280.7 925.3 L283.7 925.3 L286.7 925.2 L289.7 925.4 L292.7 925.6 L295.7 926.0 L298.7 926.5 L301.7 926.9 L304.7 927.4 L307.7 927.9 L310.7 928.5 L313.7 929.1 L316.7 929.7 L319.7 930.3 L322.7 931.0 L325.7 931.6 L328.7 932.2 L331.7 932.6 L334.7 932.6 L337.7 932.3 L340.7 931.8 L343.7 931.2 L346.7 930.7 L349.7 930.2 L352.7 929.7 L355.7 929.2 L358.7 928.7 L361.7 928.4 L364.7 928.2 L367.7 928.1 L370.7 928.1 L373.7 928.0 L376.7 927.9 L379.7 927.9 L382.7 928.1 L385.7 928.5 L388.7 929.0 L391.7 929.5 L394.7 930.0 L397.7 930.5 L400.7 931.0 L403.7 931.5 L406.7 931.8 L409.7 931.8 L412.7 931.5 L415.7 931.2 L418.7 930.9 L421.7 930.6 L424.7 930.3 L427.7 930.0 L430.7 929.7 L433.7 929.5 L436.7 929.4 L439.7 929.2 L442.7 929.1 L445.7 929.0 L448.7 928.9 L451.7 928.8 L454.7 928.7 L457.7 928.7 L460.7 928.9 L463.7 929.5 L466.7 930.3 L469.7 931.1 L472.7 931.8 L475.7 932.1 L478.7 932.1 L481.7 932.1 L484.7 932.0 L487.7 932.0 L490.7 931.9 L493.7 931.9 L496.7 931.9 L499.7 931.8 L502.7 931.6 L505.7 931.3 L508.7 931.0 L511.7 930.6 L514.7 930.3 L517.7 930.0 L520.7 929.6 L523.7 929.4 L526.7 929.4 L529.7 929.7 L532.7 930.2 L535.7 930.8 L538.7 931.4 L541.7 931.9 L544.7 932.5 L547.7 933.0 L550.7 933.4 L553.7 933.6 L556.7 933.7 L559.7 933.8 L562.7 933.9 L565.7 934.0 L568.7 934.1 L571.7 934.2 L574.7 934.2 L577.7 934.1 L580.7 934.0 L583.7 933.8 L586.7 933.6 L589.7 933.4 L592.7 933.3 L595.7 933.1 L598.7 933.0 L601.7 933.1 L604.7 933.3 L607.7 933.7 L610.7 934.1 L613.7 934.4 L616.7 934.8 L619.7 935.2 L622.7 935.6 L625.7 935.9 L628.7 936.2 L631.7 936.5 L634.7 936.7 L637.7 936.9 L640.5 937.1" fill="none" stroke="#fff" stroke-width="2.9" stroke-dasharray="13.5 11.3" stroke-dashoffset="0.0"/>
<path d="M118.7 906.8 L121.7 907.6 L124.7 908.9 L127.7 910.1 L130.7 911.5 L133.7 913.2 L136.7 915.3 L139.7 917.4 L142.7 919.5 L145.7 921.6 L148.7 923.7 L151.7 925.7 L154.7 927.7 L157.7 929.5 L160.7 931.3 L163.7 933.1 L166.7 934.9 L169.7 936.7 L172.7 938.4 L175.7 939.6 L178.7 940.2 L181.7 940.8 L184.7 941.4 L187.7 942.1 L190.7 942.7 L193.7 943.3 L196.7 943.7 L199.7 944.0 L202.7 944.3 L205.7 944.6 L208.7 944.9 L211.7 945.2 L214.7 945.6 L217.7 946.6 L220.7 948.3 L223.7 950.2 L226.7 952.1 L229.7 953.9 L232.7 955.6 L235.7 956.8 L238.7 957.6 L241.7 958.3 L244.7 959.1 L247.7 959.8 L250.7 960.6 L253.7 961.4 L256.7 962.4 L259.7 963.5 L262.7 964.6 L265.7 965.7 L268.7 966.8 L271.7 967.8 L274.7 968.5 L277.7 969.0 L280.7 969.5 L283.7 970.1 L286.7 971.1 L289.7 972.4 L292.7 973.7 L295.7 975.1 L298.7 976.4 L301.7 977.6 L304.7 978.6 L307.7 979.6 L310.7 980.5 L313.7 981.4 L316.7 982.4 L319.7 983.4 L322.7 984.4 L325.7 985.5 L328.7 986.6 L331.7 987.6 L334.7 988.0 L337.7 987.8 L340.7 987.5 L343.7 987.1 L346.7 986.8 L349.7 986.4 L352.7 986.2 L355.7 986.2 L358.7 986.3 L361.7 986.4 L364.7 986.5 L367.7 986.6 L370.7 986.6 L373.7 986.7 L376.7 987.1 L379.7 987.7 L382.7 988.5 L385.7 989.2 L388.7 989.9 L391.7 990.7 L394.7 991.4 L397.7 992.1 L400.7 992.6 L403.7 992.8 L406.7 993.0 L409.7 993.2 L412.7 993.5 L415.7 993.7 L418.7 993.9 L421.7 993.8 L424.7 993.6 L427.7 993.3 L430.7 993.0 L433.7 992.6 L436.7 992.3 L439.7 992.0 L442.7 991.7 L445.7 991.6 L448.7 991.7 L451.7 992.0 L454.7 992.4 L457.7 992.7 L460.7 993.1 L463.7 993.4 L466.7 993.7 L469.7 994.0 L472.7 994.3 L475.7 994.6 L478.7 994.9 L481.7 995.2 L484.7 995.5 L487.7 995.8 L490.7 996.0 L493.7 995.9 L496.7 995.5 L499.7 995.1 L502.7 994.7 L505.7 994.3 L508.7 993.9 L511.7 993.4 L514.7 993.1 L517.7 993.0 L520.7 993.2 L523.7 993.5 L526.7 993.7 L529.7 994.0 L532.7 994.3 L535.7 994.5 L538.7 994.8 L541.7 995.2 L544.7 995.7 L547.7 996.3 L550.7 996.8 L553.7 997.3 L556.7 997.8 L559.7 998.3 L562.7 998.8 L565.7 999.0 L568.7 998.9 L571.7 998.7 L574.7 998.5 L577.7 998.3 L580.7 998.1 L583.7 997.8 L586.7 997.6 L589.7 997.5 L592.7 997.4 L595.7 997.3 L598.7 997.3 L601.7 997.2 L604.7 997.1 L607.7 997.1 L610.7 997.2 L613.7 997.7 L616.7 998.1 L619.7 998.6 L622.7 999.1 L625.7 999.6 L628.7 1000.1 L631.7 1000.6 L634.7 1001.1 L637.7 1001.6 L640.5 1002.0" fill="none" stroke="#fff" stroke-width="2.9" stroke-dasharray="13.5 11.3" stroke-dashoffset="0.0"/>
<path d="M344.7 1025.2 L347.7 1024.4 L350.7 1023.1 L353.7 1022.6 L356.7 1023.2 L359.7 1024.3 L362.7 1025.4 L365.7 1026.6 L368.7 1027.7 L371.7 1028.8 L374.7 1030.0 L377.7 1031.1 L380.7 1032.3 L383.7 1033.5 L386.7 1034.7 L389.7 1035.9 L392.7 1037.1 L395.7 1038.7 L398.7 1040.4 L401.7 1041.5 L404.7 1042.3 L407.7 1043.1 L410.7 1043.9 L413.7 1044.7 L416.7 1045.6 L419.7 1046.3 L422.7 1046.9 L425.7 1047.1 L428.7 1047.2 L431.7 1047.4 L434.7 1047.5 L437.7 1047.7 L440.7 1047.8 L443.7 1048.0 L446.7 1048.5 L449.7 1049.2 L452.7 1049.9 L455.7 1050.7 L458.7 1051.4 L461.7 1052.2 L464.7 1053.0 L467.7 1054.2 L470.7 1055.4 L473.7 1056.3 L476.7 1056.9 L479.7 1057.5 L482.7 1058.1 L485.7 1058.8 L488.7 1059.4 L491.7 1060.0 L494.7 1060.6 L497.7 1060.8 L500.7 1060.7 L503.7 1060.6 L506.7 1060.5 L509.7 1060.4 L512.7 1060.2 L515.7 1060.1 L518.7 1060.0 L521.7 1059.9 L524.7 1060.1 L527.7 1060.7 L530.7 1061.4 L533.7 1062.1 L536.7 1062.7 L539.7 1063.4 L542.7 1064.0 L545.7 1064.6 L548.7 1065.1 L551.7 1065.6 L554.7 1066.1 L557.7 1066.6 L560.7 1067.2 L563.7 1067.5 L566.7 1067.5 L569.7 1067.3 L572.7 1067.1 L575.7 1066.9 L578.7 1066.6 L581.7 1066.4 L584.7 1066.2 L587.7 1066.1 L590.7 1066.0 L593.7 1065.9 L596.7 1065.8 L599.7 1065.8 L602.7 1065.7 L605.7 1065.6 L608.7 1065.8 L611.7 1066.4 L614.7 1067.1 L617.7 1067.9 L620.7 1068.7 L623.7 1069.5 L626.7 1070.2 L629.7 1070.7 L632.7 1071.1 L635.7 1071.5 L638.7 1071.8 L640.5 1072.0" fill="none" stroke="#fff" stroke-width="2.9" stroke-dasharray="13.5 11.3" stroke-dashoffset="0.0"/>
<path d="M347.0 1043.4 L350.0 1040.7 L353.0 1038.1 L356.0 1039.4 L359.0 1041.6 L362.0 1043.9 L365.0 1046.2 L368.0 1048.6 L371.0 1051.0 L374.0 1053.3 L377.0 1055.7 L380.0 1058.2 L383.0 1060.6 L386.0 1063.0 L389.0 1065.5 L392.0 1067.9 L395.0 1069.6 L398.0 1070.5 L401.0 1071.4 L404.0 1072.3 L407.0 1073.2 L410.0 1074.1 L413.0 1075.0 L416.0 1075.6 L419.0 1075.7 L422.0 1075.9 L425.0 1076.1 L428.0 1076.3 L431.0 1076.4 L434.0 1076.9 L437.0 1078.8 L440.0 1081.0 L443.0 1083.2 L446.0 1085.3 L449.0 1087.5 L452.0 1089.7 L455.0 1092.3 L458.0 1095.1 L461.0 1097.9 L464.0 1100.7 L467.0 1103.6 L470.0 1106.1 L473.0 1107.1 L476.0 1107.9 L479.0 1108.6 L482.0 1109.4 L485.0 1110.2 L488.0 1111.0 L491.0 1111.8 L494.0 1112.6 L497.0 1113.5 L500.0 1114.4 L503.0 1115.3 L506.0 1116.2 L509.0 1117.1 L512.0 1118.0 L515.0 1119.1 L518.0 1120.3 L521.0 1121.4 L524.0 1122.6 L527.0 1123.8 L530.0 1124.9 L533.0 1126.4 L536.0 1128.1 L539.0 1129.8 L542.0 1131.5 L545.0 1133.3 L548.0 1134.4 L551.0 1135.2 L554.0 1135.9 L557.0 1136.7 L560.0 1137.5 L563.0 1138.2 L566.0 1138.4 L569.0 1138.6 L572.0 1138.8 L575.0 1138.9 L578.0 1139.1 L581.0 1139.3 L584.0 1139.4 L587.0 1139.6 L590.0 1139.8 L593.0 1140.1 L596.0 1140.3 L599.0 1140.6 L602.0 1140.9 L605.0 1141.2 L608.0 1141.6 L611.0 1142.8 L614.0 1144.1 L617.0 1145.4 L620.0 1146.7 L623.0 1147.9 L626.0 1148.6 L629.0 1149.3 L632.0 1149.9 L635.0 1150.6 L638.0 1151.3 L640.5 1151.8" fill="none" stroke="#fff" stroke-width="2.9" stroke-dasharray="13.5 11.3" stroke-dashoffset="0.0"/>
<rect x="118.1" y="49.1" width="522.9" height="522.4" fill="none" stroke="#262626" stroke-width="1.9"/>
<path d="M181.1 571.5v-5.4M181.1 49.1v5.4M244.1 571.5v-5.4M244.1 49.1v5.4M307.1 571.5v-5.4M307.1 49.1v5.4M370.1 571.5v-5.4M370.1 49.1v5.4M433.1 571.5v-5.4M433.1 49.1v5.4M496.1 571.5v-5.4M496.1 49.1v5.4M559.1 571.5v-5.4M559.1 49.1v5.4M622.1 571.5v-5.4M622.1 49.1v5.4M118.1 72.3h5.4M641.0 72.3h-5.4M118.1 118.5h5.4M641.0 118.5h-5.4M118.1 164.7h5.4M641.0 164.7h-5.4M118.1 210.9h5.4M641.0 210.9h-5.4M118.1 257.2h5.4M641.0 257.2h-5.4M118.1 303.4h5.4M641.0 303.4h-5.4M118.1 349.6h5.4M641.0 349.6h-5.4M118.1 395.8h5.4M641.0 395.8h-5.4M118.1 442.1h5.4M641.0 442.1h-5.4M118.1 488.3h5.4M641.0 488.3h-5.4M118.1 534.5h5.4M641.0 534.5h-5.4" fill="none" stroke="#262626" stroke-width="1.3"/>
<rect x="118.1" y="661.1" width="522.9" height="522.8" fill="none" stroke="#262626" stroke-width="1.9"/>
<path d="M181.1 1183.9v-5.4M181.1 661.1v5.4M244.1 1183.9v-5.4M244.1 661.1v5.4M307.1 1183.9v-5.4M307.1 661.1v5.4M370.1 1183.9v-5.4M370.1 661.1v5.4M433.1 1183.9v-5.4M433.1 661.1v5.4M496.1 1183.9v-5.4M496.1 661.1v5.4M559.1 1183.9v-5.4M559.1 661.1v5.4M622.1 1183.9v-5.4M622.1 661.1v5.4M118.1 684.2h5.4M641.0 684.2h-5.4M118.1 730.5h5.4M641.0 730.5h-5.4M118.1 776.8h5.4M641.0 776.8h-5.4M118.1 823.0h5.4M641.0 823.0h-5.4M118.1 869.3h5.4M641.0 869.3h-5.4M118.1 915.6h5.4M641.0 915.6h-5.4M118.1 961.8h5.4M641.0 961.8h-5.4M118.1 1008.1h5.4M641.0 1008.1h-5.4M118.1 1054.4h5.4M641.0 1054.4h-5.4M118.1 1100.6h5.4M641.0 1100.6h-5.4M118.1 1146.9h5.4M641.0 1146.9h-5.4" fill="none" stroke="#262626" stroke-width="1.3"/>
<rect x="661.5" y="49.0" width="40.1" height="522.6" fill="url(#g9)" stroke="#262626" stroke-width="1.7"/>
<path d="M701.6 467.1h-5.4M701.6 362.6h-5.4M701.6 258.0h-5.4M701.6 153.5h-5.4M701.6 519.3h-5.4M701.6 414.8h-5.4M701.6 310.3h-5.4M701.6 205.8h-5.4M701.6 101.3h-5.4M701.6 484.5h-5.4M701.6 397.4h-5.4M701.6 310.3h-5.4M701.6 223.2h-5.4M701.6 136.1h-5.4" fill="none" stroke="#262626" stroke-width="1.3"/>
<rect x="661.5" y="661.1" width="40.1" height="522.8" fill="url(#g10)" stroke="#262626" stroke-width="1.7"/>
<path d="M701.6 1096.8h-5.4M701.6 1009.6h-5.4M701.6 922.5h-5.4M701.6 835.4h-5.4M701.6 748.2h-5.4" fill="none" stroke="#262626" stroke-width="1.3"/>
<g>
<text x="105" y="77.6" text-anchor="end">0</text>
<text x="105" y="125.3" text-anchor="end">20</text>
<text x="105" y="171.3" text-anchor="end">40</text>
<text x="105" y="217.3" text-anchor="end">60</text>
<text x="105" y="263.3" text-anchor="end">80</text>
<text x="105" y="309.3" text-anchor="end">100</text>
<text x="105" y="356.0" text-anchor="end">120</text>
<text x="105" y="402.8" text-anchor="end">140</text>
<text x="105" y="449.7" text-anchor="end">160</text>
<text x="105" y="496.5" text-anchor="end">180</text>
<text x="105" y="543.4" text-anchor="end">200</text>
<text x="105" y="689.8" text-anchor="end">0</text>
<text x="105" y="737.5" text-anchor="end">20</text>
<text x="105" y="783.5" text-anchor="end">40</text>
<text x="105" y="829.5" text-anchor="end">60</text>
<text x="105" y="875.5" text-anchor="end">80</text>
<text x="105" y="921.5" text-anchor="end">100</text>
<text x="105" y="968.2" text-anchor="end">120</text>
<text x="105" y="1015.0" text-anchor="end">140</text>
<text x="105" y="1061.9" text-anchor="end">160</text>
<text x="105" y="1108.7" text-anchor="end">180</text>
<text x="105" y="1155.6" text-anchor="end">200</text>
<text x="180.9" y="1217.5" text-anchor="middle">20</text>
<text x="244.2" y="1217.5" text-anchor="middle">40</text>
<text x="307.6" y="1217.5" text-anchor="middle">60</text>
<text x="370.9" y="1217.5" text-anchor="middle">80</text>
<text x="434.2" y="1217.5" text-anchor="middle">100</text>
<text x="497.5" y="1217.5" text-anchor="middle">120</text>
<text x="560.9" y="1217.5" text-anchor="middle">140</text>
<text x="624.2" y="1217.5" text-anchor="middle">160</text>
<text x="716" y="579.8">0</text>
<text x="716" y="475.3">1</text>
<text x="716" y="370.8">2</text>
<text x="716" y="266.2">3</text>
<text x="716" y="161.7">4</text>
<text x="716" y="57.2">5</text>
<text x="716" y="1190.9">0</text>
<text x="716" y="1103.8">0.5</text>
<text x="716" y="1016.6">1.0</text>
<text x="716" y="929.5">1.5</text>
<text x="716" y="842.4">2.0</text>
<text x="716" y="755.2">2.5</text>
<text x="716" y="668.1">3.0</text>
<text x="753.9" y="31.1" style="font-size:36px">×</text>
<text x="777.3" y="27.9">10</text>
<text x="809.0" y="19.6" style="font-size:30px">−</text>
<text x="828.2" y="16.1" style="font-size:22.5px">2</text>
<text x="763.6" y="643.1" style="font-size:36px">×</text>
<text x="787.0" y="639.9">10</text>
<text x="818.7" y="631.6" style="font-size:30px">−</text>
<text x="837.9" y="628.1" style="font-size:22.5px">2</text>
<text transform="translate(24.5 356.3) rotate(-90)" style="font-size:32px;font-style:italic;">s</text>
<text transform="translate(24.5 331.2) rotate(-90)" style="font-size:32px;" textLength="67.8" lengthAdjust="spacingAndGlyphs">[mm]</text>
<text transform="translate(24.5 968.5) rotate(-90)" style="font-size:32px;font-style:italic;">s</text>
<text transform="translate(24.5 943.4) rotate(-90)" style="font-size:32px;" textLength="67.8" lengthAdjust="spacingAndGlyphs">[mm]</text>
<text x="351.5" y="1253" font-style="italic">t</text>
<text x="373.5" y="1253">[h]</text>
<text transform="translate(798.0 361.5) rotate(-90)" style="font-size:36px;font-style:italic;">E</text>
<text transform="translate(771.6 351.6) rotate(-90)" style="font-size:30px;">.</text>
<text transform="translate(798.0 326.0) rotate(-90)" style="font-size:32px;">[h</text>
<text transform="translate(787.0 300.5) rotate(-90)" style="font-size:27px;">−</text>
<text transform="translate(787.0 280.2) rotate(-90)" style="font-size:22px;">1</text>
<text transform="translate(798.0 270.0) rotate(-90)" style="font-size:32px;">]</text>
<text transform="translate(807.0 1054.0) rotate(-90)" style="font-size:32px;" textLength="121" lengthAdjust="spacing">envelope</text>
<text transform="translate(807.0 924.0) rotate(-90)" style="font-size:32px;">of</text>
<text transform="translate(807.0 887.5) rotate(-90)" style="font-size:32px;font-style:italic;">δ</text>
<text transform="translate(781.4 880.8) rotate(-90)" style="font-size:30px;">.</text>
<text transform="translate(807.0 861.5) rotate(-90)" style="font-size:32px;">[h</text>
<text transform="translate(796.0 835.0) rotate(-90)" style="font-size:26px;">−</text>
<text transform="translate(796.0 816.6) rotate(-90)" style="font-size:22px;">1</text>
<text transform="translate(807.0 806.3) rotate(-90)" style="font-size:32px;">]</text>
<text x="16" y="47.5" style="font-family:'Liberation Sans',sans-serif;font-size:36.5px">a</text>
<text x="15.5" y="685" style="font-family:'Liberation Sans',sans-serif;font-size:36.5px">b</text>
</g>
</svg>
</body></html>
